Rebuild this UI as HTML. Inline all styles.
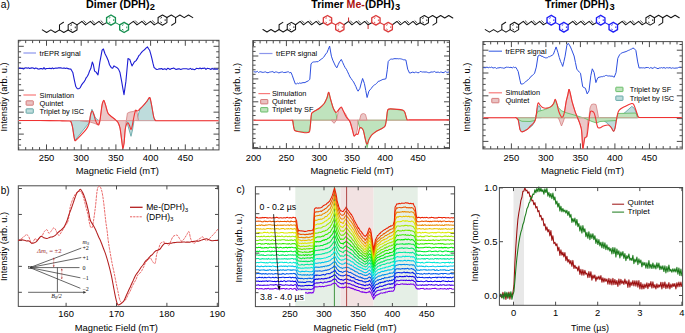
<!DOCTYPE html>
<html><head><meta charset="utf-8"><style>html,body{margin:0;padding:0;background:#fff;width:685px;height:333px;overflow:hidden;}</style></head>
<body>
<svg width="685" height="333" viewBox="0 0 685 333" style="position:absolute;left:0;top:0">
<rect width="685" height="333" fill="#fff"/>
<rect x="18.3" y="40.3" width="200.7" height="109.6" fill="none" stroke="#4a4a4a" stroke-width="1"/>
<line x1="46.5" y1="149.9" x2="46.5" y2="144.4" stroke="#4a4a4a" stroke-width="1" />
<line x1="46.5" y1="40.3" x2="46.5" y2="45.8" stroke="#4a4a4a" stroke-width="1" />
<line x1="81.2" y1="149.9" x2="81.2" y2="144.4" stroke="#4a4a4a" stroke-width="1" />
<line x1="81.2" y1="40.3" x2="81.2" y2="45.8" stroke="#4a4a4a" stroke-width="1" />
<line x1="115.9" y1="149.9" x2="115.9" y2="144.4" stroke="#4a4a4a" stroke-width="1" />
<line x1="115.9" y1="40.3" x2="115.9" y2="45.8" stroke="#4a4a4a" stroke-width="1" />
<line x1="150.6" y1="149.9" x2="150.6" y2="144.4" stroke="#4a4a4a" stroke-width="1" />
<line x1="150.6" y1="40.3" x2="150.6" y2="45.8" stroke="#4a4a4a" stroke-width="1" />
<line x1="185.3" y1="149.9" x2="185.3" y2="144.4" stroke="#4a4a4a" stroke-width="1" />
<line x1="185.3" y1="40.3" x2="185.3" y2="45.8" stroke="#4a4a4a" stroke-width="1" />
<line x1="18.74" y1="149.9" x2="18.74" y2="147.1" stroke="#4a4a4a" stroke-width="1" />
<line x1="18.74" y1="40.3" x2="18.74" y2="43.1" stroke="#4a4a4a" stroke-width="1" />
<line x1="25.68" y1="149.9" x2="25.68" y2="147.1" stroke="#4a4a4a" stroke-width="1" />
<line x1="25.68" y1="40.3" x2="25.68" y2="43.1" stroke="#4a4a4a" stroke-width="1" />
<line x1="32.62" y1="149.9" x2="32.62" y2="147.1" stroke="#4a4a4a" stroke-width="1" />
<line x1="32.62" y1="40.3" x2="32.62" y2="43.1" stroke="#4a4a4a" stroke-width="1" />
<line x1="39.56" y1="149.9" x2="39.56" y2="147.1" stroke="#4a4a4a" stroke-width="1" />
<line x1="39.56" y1="40.3" x2="39.56" y2="43.1" stroke="#4a4a4a" stroke-width="1" />
<line x1="53.44" y1="149.9" x2="53.44" y2="147.1" stroke="#4a4a4a" stroke-width="1" />
<line x1="53.44" y1="40.3" x2="53.44" y2="43.1" stroke="#4a4a4a" stroke-width="1" />
<line x1="60.38" y1="149.9" x2="60.38" y2="147.1" stroke="#4a4a4a" stroke-width="1" />
<line x1="60.38" y1="40.3" x2="60.38" y2="43.1" stroke="#4a4a4a" stroke-width="1" />
<line x1="67.32" y1="149.9" x2="67.32" y2="147.1" stroke="#4a4a4a" stroke-width="1" />
<line x1="67.32" y1="40.3" x2="67.32" y2="43.1" stroke="#4a4a4a" stroke-width="1" />
<line x1="74.26" y1="149.9" x2="74.26" y2="147.1" stroke="#4a4a4a" stroke-width="1" />
<line x1="74.26" y1="40.3" x2="74.26" y2="43.1" stroke="#4a4a4a" stroke-width="1" />
<line x1="88.14" y1="149.9" x2="88.14" y2="147.1" stroke="#4a4a4a" stroke-width="1" />
<line x1="88.14" y1="40.3" x2="88.14" y2="43.1" stroke="#4a4a4a" stroke-width="1" />
<line x1="95.08" y1="149.9" x2="95.08" y2="147.1" stroke="#4a4a4a" stroke-width="1" />
<line x1="95.08" y1="40.3" x2="95.08" y2="43.1" stroke="#4a4a4a" stroke-width="1" />
<line x1="102.02" y1="149.9" x2="102.02" y2="147.1" stroke="#4a4a4a" stroke-width="1" />
<line x1="102.02" y1="40.3" x2="102.02" y2="43.1" stroke="#4a4a4a" stroke-width="1" />
<line x1="108.96" y1="149.9" x2="108.96" y2="147.1" stroke="#4a4a4a" stroke-width="1" />
<line x1="108.96" y1="40.3" x2="108.96" y2="43.1" stroke="#4a4a4a" stroke-width="1" />
<line x1="122.84" y1="149.9" x2="122.84" y2="147.1" stroke="#4a4a4a" stroke-width="1" />
<line x1="122.84" y1="40.3" x2="122.84" y2="43.1" stroke="#4a4a4a" stroke-width="1" />
<line x1="129.78" y1="149.9" x2="129.78" y2="147.1" stroke="#4a4a4a" stroke-width="1" />
<line x1="129.78" y1="40.3" x2="129.78" y2="43.1" stroke="#4a4a4a" stroke-width="1" />
<line x1="136.72" y1="149.9" x2="136.72" y2="147.1" stroke="#4a4a4a" stroke-width="1" />
<line x1="136.72" y1="40.3" x2="136.72" y2="43.1" stroke="#4a4a4a" stroke-width="1" />
<line x1="143.66" y1="149.9" x2="143.66" y2="147.1" stroke="#4a4a4a" stroke-width="1" />
<line x1="143.66" y1="40.3" x2="143.66" y2="43.1" stroke="#4a4a4a" stroke-width="1" />
<line x1="157.54" y1="149.9" x2="157.54" y2="147.1" stroke="#4a4a4a" stroke-width="1" />
<line x1="157.54" y1="40.3" x2="157.54" y2="43.1" stroke="#4a4a4a" stroke-width="1" />
<line x1="164.48" y1="149.9" x2="164.48" y2="147.1" stroke="#4a4a4a" stroke-width="1" />
<line x1="164.48" y1="40.3" x2="164.48" y2="43.1" stroke="#4a4a4a" stroke-width="1" />
<line x1="171.42" y1="149.9" x2="171.42" y2="147.1" stroke="#4a4a4a" stroke-width="1" />
<line x1="171.42" y1="40.3" x2="171.42" y2="43.1" stroke="#4a4a4a" stroke-width="1" />
<line x1="178.36" y1="149.9" x2="178.36" y2="147.1" stroke="#4a4a4a" stroke-width="1" />
<line x1="178.36" y1="40.3" x2="178.36" y2="43.1" stroke="#4a4a4a" stroke-width="1" />
<line x1="192.24" y1="149.9" x2="192.24" y2="147.1" stroke="#4a4a4a" stroke-width="1" />
<line x1="192.24" y1="40.3" x2="192.24" y2="43.1" stroke="#4a4a4a" stroke-width="1" />
<line x1="199.18" y1="149.9" x2="199.18" y2="147.1" stroke="#4a4a4a" stroke-width="1" />
<line x1="199.18" y1="40.3" x2="199.18" y2="43.1" stroke="#4a4a4a" stroke-width="1" />
<line x1="206.12" y1="149.9" x2="206.12" y2="147.1" stroke="#4a4a4a" stroke-width="1" />
<line x1="206.12" y1="40.3" x2="206.12" y2="43.1" stroke="#4a4a4a" stroke-width="1" />
<line x1="213.06" y1="149.9" x2="213.06" y2="147.1" stroke="#4a4a4a" stroke-width="1" />
<line x1="213.06" y1="40.3" x2="213.06" y2="43.1" stroke="#4a4a4a" stroke-width="1" />
<line x1="18.3" y1="46.3" x2="23.8" y2="46.3" stroke="#4a4a4a" stroke-width="1" />
<line x1="219" y1="46.3" x2="213.5" y2="46.3" stroke="#4a4a4a" stroke-width="1" />
<line x1="18.3" y1="68.25" x2="23.8" y2="68.25" stroke="#4a4a4a" stroke-width="1" />
<line x1="219" y1="68.25" x2="213.5" y2="68.25" stroke="#4a4a4a" stroke-width="1" />
<line x1="18.3" y1="90.2" x2="23.8" y2="90.2" stroke="#4a4a4a" stroke-width="1" />
<line x1="219" y1="90.2" x2="213.5" y2="90.2" stroke="#4a4a4a" stroke-width="1" />
<line x1="18.3" y1="112.15" x2="23.8" y2="112.15" stroke="#4a4a4a" stroke-width="1" />
<line x1="219" y1="112.15" x2="213.5" y2="112.15" stroke="#4a4a4a" stroke-width="1" />
<line x1="18.3" y1="134.1" x2="23.8" y2="134.1" stroke="#4a4a4a" stroke-width="1" />
<line x1="219" y1="134.1" x2="213.5" y2="134.1" stroke="#4a4a4a" stroke-width="1" />
<line x1="18.3" y1="51.79" x2="21.1" y2="51.79" stroke="#4a4a4a" stroke-width="1" />
<line x1="219" y1="51.79" x2="216.2" y2="51.79" stroke="#4a4a4a" stroke-width="1" />
<line x1="18.3" y1="57.27" x2="21.1" y2="57.27" stroke="#4a4a4a" stroke-width="1" />
<line x1="219" y1="57.27" x2="216.2" y2="57.27" stroke="#4a4a4a" stroke-width="1" />
<line x1="18.3" y1="62.76" x2="21.1" y2="62.76" stroke="#4a4a4a" stroke-width="1" />
<line x1="219" y1="62.76" x2="216.2" y2="62.76" stroke="#4a4a4a" stroke-width="1" />
<line x1="18.3" y1="73.74" x2="21.1" y2="73.74" stroke="#4a4a4a" stroke-width="1" />
<line x1="219" y1="73.74" x2="216.2" y2="73.74" stroke="#4a4a4a" stroke-width="1" />
<line x1="18.3" y1="79.22" x2="21.1" y2="79.22" stroke="#4a4a4a" stroke-width="1" />
<line x1="219" y1="79.22" x2="216.2" y2="79.22" stroke="#4a4a4a" stroke-width="1" />
<line x1="18.3" y1="84.71" x2="21.1" y2="84.71" stroke="#4a4a4a" stroke-width="1" />
<line x1="219" y1="84.71" x2="216.2" y2="84.71" stroke="#4a4a4a" stroke-width="1" />
<line x1="18.3" y1="95.69" x2="21.1" y2="95.69" stroke="#4a4a4a" stroke-width="1" />
<line x1="219" y1="95.69" x2="216.2" y2="95.69" stroke="#4a4a4a" stroke-width="1" />
<line x1="18.3" y1="101.17" x2="21.1" y2="101.17" stroke="#4a4a4a" stroke-width="1" />
<line x1="219" y1="101.17" x2="216.2" y2="101.17" stroke="#4a4a4a" stroke-width="1" />
<line x1="18.3" y1="106.66" x2="21.1" y2="106.66" stroke="#4a4a4a" stroke-width="1" />
<line x1="219" y1="106.66" x2="216.2" y2="106.66" stroke="#4a4a4a" stroke-width="1" />
<line x1="18.3" y1="117.64" x2="21.1" y2="117.64" stroke="#4a4a4a" stroke-width="1" />
<line x1="219" y1="117.64" x2="216.2" y2="117.64" stroke="#4a4a4a" stroke-width="1" />
<line x1="18.3" y1="123.12" x2="21.1" y2="123.12" stroke="#4a4a4a" stroke-width="1" />
<line x1="219" y1="123.12" x2="216.2" y2="123.12" stroke="#4a4a4a" stroke-width="1" />
<line x1="18.3" y1="128.61" x2="21.1" y2="128.61" stroke="#4a4a4a" stroke-width="1" />
<line x1="219" y1="128.61" x2="216.2" y2="128.61" stroke="#4a4a4a" stroke-width="1" />
<line x1="18.3" y1="139.59" x2="21.1" y2="139.59" stroke="#4a4a4a" stroke-width="1" />
<line x1="219" y1="139.59" x2="216.2" y2="139.59" stroke="#4a4a4a" stroke-width="1" />
<line x1="18.3" y1="145.07" x2="21.1" y2="145.07" stroke="#4a4a4a" stroke-width="1" />
<line x1="219" y1="145.07" x2="216.2" y2="145.07" stroke="#4a4a4a" stroke-width="1" />
<line x1="18.3" y1="40.81" x2="21.1" y2="40.81" stroke="#4a4a4a" stroke-width="1" />
<line x1="219" y1="40.81" x2="216.2" y2="40.81" stroke="#4a4a4a" stroke-width="1" />
<text x="46.5" y="161.3" font-size="9.4" text-anchor="middle" font-weight="normal" font-style="normal" fill="#000" font-family="'Liberation Sans', sans-serif" >250</text>
<text x="81.2" y="161.3" font-size="9.4" text-anchor="middle" font-weight="normal" font-style="normal" fill="#000" font-family="'Liberation Sans', sans-serif" >300</text>
<text x="115.9" y="161.3" font-size="9.4" text-anchor="middle" font-weight="normal" font-style="normal" fill="#000" font-family="'Liberation Sans', sans-serif" >350</text>
<text x="150.6" y="161.3" font-size="9.4" text-anchor="middle" font-weight="normal" font-style="normal" fill="#000" font-family="'Liberation Sans', sans-serif" >400</text>
<text x="185.3" y="161.3" font-size="9.4" text-anchor="middle" font-weight="normal" font-style="normal" fill="#000" font-family="'Liberation Sans', sans-serif" >450</text>
<text x="117.4" y="173.6" font-size="9.4" text-anchor="middle" font-weight="normal" font-style="normal" fill="#000" font-family="'Liberation Sans', sans-serif" textLength="83.2" lengthAdjust="spacingAndGlyphs" >Magnetic Field (mT)</text>
<text transform="translate(7.2,97) rotate(-90)" x="0" y="0" font-size="9.5" text-anchor="middle" fill="#000" font-family="'Liberation Sans', sans-serif" textLength="69" lengthAdjust="spacingAndGlyphs">Intenstiy (arb. u.)</text>
<polygon points="70.5,120.6 72.4,126.4 74.9,140.5 89.3,122.5 89.8,120.6" fill="#bedcdc" stroke="#5aa0a0" stroke-width="0.8" stroke-linejoin="round"/>
<polygon points="89.8,120.6 90.6,114.5 91.9,109.3 93.3,112.5 95,117 97,119.5 99,120.6" fill="#bedcdc" stroke="#5aa0a0" stroke-width="0.8" stroke-linejoin="round"/>
<polygon points="126.5,120.6 128,126 131,136.3 132.5,130 134,120.6" fill="#bedcdc" stroke="#5aa0a0" stroke-width="0.8" stroke-linejoin="round"/>
<polygon points="136.5,120.6 139.8,109.5 143.9,104.9 147.2,100.8 149.7,97.5 151.4,104.1 153.8,117.3 155.5,120.6" fill="#bedcdc" stroke="#5aa0a0" stroke-width="0.8" stroke-linejoin="round"/>
<polygon points="80,120.6 90,122 95,123.5 97.5,124.8 99.5,122 100.2,120.6" fill="#e9c3c3" stroke="#d27070" stroke-width="0.8" stroke-linejoin="round" opacity="0.9"/>
<polygon points="100.2,120.6 100.5,116.5 102.2,104.1 103.8,100.3 105.5,104.9 108,113.2 111.3,116.5 114.6,119 116.5,120.6" fill="#e9c3c3" stroke="#d27070" stroke-width="0.8" stroke-linejoin="round" opacity="0.9"/>
<polygon points="116.5,120.6 117.9,122.3 120,128 121.6,139.6 122.9,147.9 124.1,143 125.2,129.7 126.3,120.6" fill="#e9c3c3" stroke="#d27070" stroke-width="0.8" stroke-linejoin="round" opacity="0.9"/>
<polygon points="126.3,120.6 127.4,113.2 130,112 133.2,111.5 135.7,110.2 137,112 138.5,120.6" fill="#e9c3c3" stroke="#d27070" stroke-width="0.8" stroke-linejoin="round" opacity="0.9"/>
<line x1="18.3" y1="120.6" x2="219" y2="120.6" stroke="#e8a0a0" stroke-width="0.8" />
<polyline points="18.8,68.12 20,68.07 21.2,68.52 22.4,68.42 23.6,68.95 24.8,68.05 26,67.77 27.2,68.27 28.4,67.8 29.6,68.42 30.8,68.15 32,67.88 33.2,67.98 34.4,68.75 35.6,68.01 36.8,68.28 38,69.04 39.2,69.12 40.4,68.59 41.6,68.5 42.8,69.13 44,67.65 45.2,69.22 46.4,68.54 47.6,68.48 48.8,68.39 50,68.21 51.2,68.73 52.4,67.82 53.6,68.7 54.8,68.24 56,67.98 57.2,68.29 58.4,67.76 59.6,67.92 60.8,67.8 62,68.23 63.2,68.11 64.4,67.96 65.6,68.46 66.8,68.03 68,68.64 69.2,68.9 70.8,69.08 71.8,70.78 72.8,72.46 74.3,79.98 75.8,86.56 77.3,88.71 79,88.64 80.3,87.57 81.8,84.59 82.9,83.08 84,81.94 85.15,79.91 86.3,77.59 87.45,76.25 88.6,73.8 89.7,70.67 90.8,68.51 92.3,62.03 93.4,64.78 94.6,71.14 96.1,72.17 98,74.83 99.8,62.43 100.95,56.33 102.1,50.18 103.4,48.99 105,53.78 106.8,57.2 108.2,60.44 109.5,64.73 111.3,67.65 112.7,68.15 114,65.85 115.35,66.83 116.7,67.44 118.5,69.12 119.9,72.18 121.7,81.69 122.85,88.42 124,94.75 125.9,81.42 126.95,70.07 128,58.58 129.8,59.38 130.9,62.75 132,65.88 133.15,64.02 134.3,62.01 136.1,60.65 137.45,58.39 138.8,55.74 140,54.51 141.2,52.78 142.4,51.45 143.7,50.35 145,49.23 146.25,47.88 147.5,46.91 148.55,48.71 149.6,50.21 150.7,53.93 151.8,58.14 152.95,63.22 154.1,67.53 155.45,68.69 156.8,69.57 158,69.25 159.2,68.77 160.4,68.85 161.6,68.54 162.8,69.44 164,68.88 165.2,68.86 166.4,69.7 167.6,68.32 168.8,68.63 170,69.46 171.2,68.65 172.4,68.49 173.6,68 174.8,68.65 176,69.43 177.2,69.15 178.4,68.86 179.6,68.91 180.8,69.43 182,69.04 183.2,68.75 184.4,68.8 185.6,68.81 186.8,68.81 188,69.2 189.2,69.1 190.4,68.38 191.6,69.39 192.8,68.89 194,69.63 195.2,69.42 196.4,68.32 197.6,68.46 198.8,68.78 200,68.09 201.2,68.84 202.4,68.25 203.6,68.34 204.8,68.03 206,69.44 207.2,68.3 208.4,68.51 209.6,68.77 210.8,69.54 212,68.31 213.2,69.13 214.4,68.85 215.6,69.21 216.8,69.14 218,69.16" fill="none" stroke="#1c1cd4" stroke-width="1.1" stroke-linejoin="round" />
<path d="M18.8,120.5 C25.87,120.5 32.93,120.45 40,120.5 C46.67,120.55 53.33,120.68 60,120.8 C62.67,120.85 65.34,120.85 68,121 C68.94,121.05 70.29,120.77 70.8,121.4 C71.75,122.57 72.03,124.69 72.4,126.4 C73.4,131.06 73.52,137.09 74.9,140.5 C75.19,141.22 76.65,139.46 77.4,138.8 C78.85,137.53 80.19,136.12 81.5,134.7 C83.23,132.82 85.05,130.98 86.5,128.9 C87.55,127.38 88.48,125.67 89,123.9 C89.85,120.97 89.84,117.76 90.6,114.8 C90.94,113.46 91.75,111 92.3,111 C92.85,111 93.45,113.5 93.9,114.8 C94.55,116.7 94.92,118.71 95.6,120.6 C96.02,121.75 96.48,122.98 97.2,123.9 C97.58,124.38 98.7,125.26 98.9,124.8 C99.8,122.79 100.06,119.28 100.5,116.5 C101.16,112.38 101.37,108.16 102.2,104.1 C102.47,102.76 103.3,100.18 103.8,100.3 C104.4,100.44 104.99,103.35 105.5,104.9 C106.39,107.65 106.74,110.69 108,113.2 C108.68,114.55 110.13,115.48 111.3,116.5 C112.33,117.41 113.57,118.09 114.6,119 C115.77,120.02 117.12,121 117.9,122.3 C118.92,124 119.58,126.03 120,128 C120.81,131.8 121.05,135.74 121.6,139.6 C122.01,142.5 122.38,147.6 122.9,148.3 C123.22,148.73 123.88,144.79 124.1,143 C124.64,138.59 124.62,134.1 125.2,129.7 C125.46,127.73 125.9,125.69 126.6,123.9 C126.8,123.39 127.57,122.6 127.9,122.8 C128.53,123.17 129.06,124.62 129.5,125.6 C130.09,126.92 130.55,129.82 131,129.7 C131.52,129.56 132.02,126.45 132.4,124.8 C133.02,122.05 133.38,119.25 134,116.5 C134.48,114.38 134.84,111.64 135.7,110.2 C135.94,109.81 136.81,111.14 137.3,111 C138.18,110.74 139.02,109.72 139.8,109 C141.22,107.69 142.61,106.33 143.9,104.9 C145.07,103.6 146.12,102.18 147.2,100.8 C148.05,99.71 149.17,97.08 149.7,97.5 C150.57,98.18 150.94,101.88 151.4,104.1 C152.31,108.48 152.73,112.99 153.8,117.3 C154.1,118.49 154.7,119.86 155.5,120.6 C155.93,121 156.83,120.69 157.5,120.7 C158.33,120.72 159.17,120.7 160,120.7 C179.5,120.7 199,120.7 218.5,120.7" fill="none" stroke="#f03232" stroke-width="1.1" stroke-linejoin="round" />
<line x1="23.4" y1="53" x2="36" y2="53" stroke="#8c96ec" stroke-width="1.2" />
<text x="39.6" y="55.6" font-size="7.4" text-anchor="start" font-weight="normal" font-style="normal" fill="#000" font-family="'Liberation Sans', sans-serif" >trEPR signal</text>
<line x1="23.4" y1="95" x2="36" y2="95" stroke="#f87a7a" stroke-width="1.2" />
<text x="39.6" y="97.6" font-size="7.4" text-anchor="start" font-weight="normal" font-style="normal" fill="#000" font-family="'Liberation Sans', sans-serif" >Simulation</text>
<rect x="26.1" y="100.8" width="7.2" height="4.4" fill="#e9c3c3" stroke="#d27070" stroke-width="0.9" rx="0.5"/>
<text x="39.6" y="105.6" font-size="7.4" text-anchor="start" font-weight="normal" font-style="normal" fill="#000" font-family="'Liberation Sans', sans-serif" >Quintet</text>
<rect x="26.1" y="108.8" width="7.2" height="4.4" fill="#bedcdc" stroke="#5aa0a0" stroke-width="0.9" rx="0.5"/>
<text x="39.6" y="113.6" font-size="7.4" text-anchor="start" font-weight="normal" font-style="normal" fill="#000" font-family="'Liberation Sans', sans-serif" >Triplet by ISC</text>
<rect x="252.8" y="40.6" width="196.7" height="108" fill="none" stroke="#4a4a4a" stroke-width="1"/>
<line x1="253.5" y1="148.6" x2="253.5" y2="143.1" stroke="#4a4a4a" stroke-width="1" />
<line x1="253.5" y1="40.6" x2="253.5" y2="46.1" stroke="#4a4a4a" stroke-width="1" />
<line x1="286.4" y1="148.6" x2="286.4" y2="143.1" stroke="#4a4a4a" stroke-width="1" />
<line x1="286.4" y1="40.6" x2="286.4" y2="46.1" stroke="#4a4a4a" stroke-width="1" />
<line x1="319.3" y1="148.6" x2="319.3" y2="143.1" stroke="#4a4a4a" stroke-width="1" />
<line x1="319.3" y1="40.6" x2="319.3" y2="46.1" stroke="#4a4a4a" stroke-width="1" />
<line x1="352.2" y1="148.6" x2="352.2" y2="143.1" stroke="#4a4a4a" stroke-width="1" />
<line x1="352.2" y1="40.6" x2="352.2" y2="46.1" stroke="#4a4a4a" stroke-width="1" />
<line x1="385.1" y1="148.6" x2="385.1" y2="143.1" stroke="#4a4a4a" stroke-width="1" />
<line x1="385.1" y1="40.6" x2="385.1" y2="46.1" stroke="#4a4a4a" stroke-width="1" />
<line x1="418" y1="148.6" x2="418" y2="143.1" stroke="#4a4a4a" stroke-width="1" />
<line x1="418" y1="40.6" x2="418" y2="46.1" stroke="#4a4a4a" stroke-width="1" />
<line x1="260.08" y1="148.6" x2="260.08" y2="145.8" stroke="#4a4a4a" stroke-width="1" />
<line x1="260.08" y1="40.6" x2="260.08" y2="43.4" stroke="#4a4a4a" stroke-width="1" />
<line x1="266.66" y1="148.6" x2="266.66" y2="145.8" stroke="#4a4a4a" stroke-width="1" />
<line x1="266.66" y1="40.6" x2="266.66" y2="43.4" stroke="#4a4a4a" stroke-width="1" />
<line x1="273.24" y1="148.6" x2="273.24" y2="145.8" stroke="#4a4a4a" stroke-width="1" />
<line x1="273.24" y1="40.6" x2="273.24" y2="43.4" stroke="#4a4a4a" stroke-width="1" />
<line x1="279.82" y1="148.6" x2="279.82" y2="145.8" stroke="#4a4a4a" stroke-width="1" />
<line x1="279.82" y1="40.6" x2="279.82" y2="43.4" stroke="#4a4a4a" stroke-width="1" />
<line x1="292.98" y1="148.6" x2="292.98" y2="145.8" stroke="#4a4a4a" stroke-width="1" />
<line x1="292.98" y1="40.6" x2="292.98" y2="43.4" stroke="#4a4a4a" stroke-width="1" />
<line x1="299.56" y1="148.6" x2="299.56" y2="145.8" stroke="#4a4a4a" stroke-width="1" />
<line x1="299.56" y1="40.6" x2="299.56" y2="43.4" stroke="#4a4a4a" stroke-width="1" />
<line x1="306.14" y1="148.6" x2="306.14" y2="145.8" stroke="#4a4a4a" stroke-width="1" />
<line x1="306.14" y1="40.6" x2="306.14" y2="43.4" stroke="#4a4a4a" stroke-width="1" />
<line x1="312.72" y1="148.6" x2="312.72" y2="145.8" stroke="#4a4a4a" stroke-width="1" />
<line x1="312.72" y1="40.6" x2="312.72" y2="43.4" stroke="#4a4a4a" stroke-width="1" />
<line x1="325.88" y1="148.6" x2="325.88" y2="145.8" stroke="#4a4a4a" stroke-width="1" />
<line x1="325.88" y1="40.6" x2="325.88" y2="43.4" stroke="#4a4a4a" stroke-width="1" />
<line x1="332.46" y1="148.6" x2="332.46" y2="145.8" stroke="#4a4a4a" stroke-width="1" />
<line x1="332.46" y1="40.6" x2="332.46" y2="43.4" stroke="#4a4a4a" stroke-width="1" />
<line x1="339.04" y1="148.6" x2="339.04" y2="145.8" stroke="#4a4a4a" stroke-width="1" />
<line x1="339.04" y1="40.6" x2="339.04" y2="43.4" stroke="#4a4a4a" stroke-width="1" />
<line x1="345.62" y1="148.6" x2="345.62" y2="145.8" stroke="#4a4a4a" stroke-width="1" />
<line x1="345.62" y1="40.6" x2="345.62" y2="43.4" stroke="#4a4a4a" stroke-width="1" />
<line x1="358.78" y1="148.6" x2="358.78" y2="145.8" stroke="#4a4a4a" stroke-width="1" />
<line x1="358.78" y1="40.6" x2="358.78" y2="43.4" stroke="#4a4a4a" stroke-width="1" />
<line x1="365.36" y1="148.6" x2="365.36" y2="145.8" stroke="#4a4a4a" stroke-width="1" />
<line x1="365.36" y1="40.6" x2="365.36" y2="43.4" stroke="#4a4a4a" stroke-width="1" />
<line x1="371.94" y1="148.6" x2="371.94" y2="145.8" stroke="#4a4a4a" stroke-width="1" />
<line x1="371.94" y1="40.6" x2="371.94" y2="43.4" stroke="#4a4a4a" stroke-width="1" />
<line x1="378.52" y1="148.6" x2="378.52" y2="145.8" stroke="#4a4a4a" stroke-width="1" />
<line x1="378.52" y1="40.6" x2="378.52" y2="43.4" stroke="#4a4a4a" stroke-width="1" />
<line x1="391.68" y1="148.6" x2="391.68" y2="145.8" stroke="#4a4a4a" stroke-width="1" />
<line x1="391.68" y1="40.6" x2="391.68" y2="43.4" stroke="#4a4a4a" stroke-width="1" />
<line x1="398.26" y1="148.6" x2="398.26" y2="145.8" stroke="#4a4a4a" stroke-width="1" />
<line x1="398.26" y1="40.6" x2="398.26" y2="43.4" stroke="#4a4a4a" stroke-width="1" />
<line x1="404.84" y1="148.6" x2="404.84" y2="145.8" stroke="#4a4a4a" stroke-width="1" />
<line x1="404.84" y1="40.6" x2="404.84" y2="43.4" stroke="#4a4a4a" stroke-width="1" />
<line x1="411.42" y1="148.6" x2="411.42" y2="145.8" stroke="#4a4a4a" stroke-width="1" />
<line x1="411.42" y1="40.6" x2="411.42" y2="43.4" stroke="#4a4a4a" stroke-width="1" />
<line x1="424.58" y1="148.6" x2="424.58" y2="145.8" stroke="#4a4a4a" stroke-width="1" />
<line x1="424.58" y1="40.6" x2="424.58" y2="43.4" stroke="#4a4a4a" stroke-width="1" />
<line x1="431.16" y1="148.6" x2="431.16" y2="145.8" stroke="#4a4a4a" stroke-width="1" />
<line x1="431.16" y1="40.6" x2="431.16" y2="43.4" stroke="#4a4a4a" stroke-width="1" />
<line x1="437.74" y1="148.6" x2="437.74" y2="145.8" stroke="#4a4a4a" stroke-width="1" />
<line x1="437.74" y1="40.6" x2="437.74" y2="43.4" stroke="#4a4a4a" stroke-width="1" />
<line x1="444.32" y1="148.6" x2="444.32" y2="145.8" stroke="#4a4a4a" stroke-width="1" />
<line x1="444.32" y1="40.6" x2="444.32" y2="43.4" stroke="#4a4a4a" stroke-width="1" />
<line x1="252.8" y1="56" x2="258.3" y2="56" stroke="#4a4a4a" stroke-width="1" />
<line x1="449.5" y1="56" x2="444" y2="56" stroke="#4a4a4a" stroke-width="1" />
<line x1="252.8" y1="78.9" x2="258.3" y2="78.9" stroke="#4a4a4a" stroke-width="1" />
<line x1="449.5" y1="78.9" x2="444" y2="78.9" stroke="#4a4a4a" stroke-width="1" />
<line x1="252.8" y1="101.8" x2="258.3" y2="101.8" stroke="#4a4a4a" stroke-width="1" />
<line x1="449.5" y1="101.8" x2="444" y2="101.8" stroke="#4a4a4a" stroke-width="1" />
<line x1="252.8" y1="124.7" x2="258.3" y2="124.7" stroke="#4a4a4a" stroke-width="1" />
<line x1="449.5" y1="124.7" x2="444" y2="124.7" stroke="#4a4a4a" stroke-width="1" />
<line x1="252.8" y1="147.6" x2="258.3" y2="147.6" stroke="#4a4a4a" stroke-width="1" />
<line x1="449.5" y1="147.6" x2="444" y2="147.6" stroke="#4a4a4a" stroke-width="1" />
<line x1="252.8" y1="60.58" x2="255.6" y2="60.58" stroke="#4a4a4a" stroke-width="1" />
<line x1="449.5" y1="60.58" x2="446.7" y2="60.58" stroke="#4a4a4a" stroke-width="1" />
<line x1="252.8" y1="65.16" x2="255.6" y2="65.16" stroke="#4a4a4a" stroke-width="1" />
<line x1="449.5" y1="65.16" x2="446.7" y2="65.16" stroke="#4a4a4a" stroke-width="1" />
<line x1="252.8" y1="69.74" x2="255.6" y2="69.74" stroke="#4a4a4a" stroke-width="1" />
<line x1="449.5" y1="69.74" x2="446.7" y2="69.74" stroke="#4a4a4a" stroke-width="1" />
<line x1="252.8" y1="74.32" x2="255.6" y2="74.32" stroke="#4a4a4a" stroke-width="1" />
<line x1="449.5" y1="74.32" x2="446.7" y2="74.32" stroke="#4a4a4a" stroke-width="1" />
<line x1="252.8" y1="83.48" x2="255.6" y2="83.48" stroke="#4a4a4a" stroke-width="1" />
<line x1="449.5" y1="83.48" x2="446.7" y2="83.48" stroke="#4a4a4a" stroke-width="1" />
<line x1="252.8" y1="88.06" x2="255.6" y2="88.06" stroke="#4a4a4a" stroke-width="1" />
<line x1="449.5" y1="88.06" x2="446.7" y2="88.06" stroke="#4a4a4a" stroke-width="1" />
<line x1="252.8" y1="92.64" x2="255.6" y2="92.64" stroke="#4a4a4a" stroke-width="1" />
<line x1="449.5" y1="92.64" x2="446.7" y2="92.64" stroke="#4a4a4a" stroke-width="1" />
<line x1="252.8" y1="97.22" x2="255.6" y2="97.22" stroke="#4a4a4a" stroke-width="1" />
<line x1="449.5" y1="97.22" x2="446.7" y2="97.22" stroke="#4a4a4a" stroke-width="1" />
<line x1="252.8" y1="106.38" x2="255.6" y2="106.38" stroke="#4a4a4a" stroke-width="1" />
<line x1="449.5" y1="106.38" x2="446.7" y2="106.38" stroke="#4a4a4a" stroke-width="1" />
<line x1="252.8" y1="110.96" x2="255.6" y2="110.96" stroke="#4a4a4a" stroke-width="1" />
<line x1="449.5" y1="110.96" x2="446.7" y2="110.96" stroke="#4a4a4a" stroke-width="1" />
<line x1="252.8" y1="115.54" x2="255.6" y2="115.54" stroke="#4a4a4a" stroke-width="1" />
<line x1="449.5" y1="115.54" x2="446.7" y2="115.54" stroke="#4a4a4a" stroke-width="1" />
<line x1="252.8" y1="120.12" x2="255.6" y2="120.12" stroke="#4a4a4a" stroke-width="1" />
<line x1="449.5" y1="120.12" x2="446.7" y2="120.12" stroke="#4a4a4a" stroke-width="1" />
<line x1="252.8" y1="129.28" x2="255.6" y2="129.28" stroke="#4a4a4a" stroke-width="1" />
<line x1="449.5" y1="129.28" x2="446.7" y2="129.28" stroke="#4a4a4a" stroke-width="1" />
<line x1="252.8" y1="133.86" x2="255.6" y2="133.86" stroke="#4a4a4a" stroke-width="1" />
<line x1="449.5" y1="133.86" x2="446.7" y2="133.86" stroke="#4a4a4a" stroke-width="1" />
<line x1="252.8" y1="138.44" x2="255.6" y2="138.44" stroke="#4a4a4a" stroke-width="1" />
<line x1="449.5" y1="138.44" x2="446.7" y2="138.44" stroke="#4a4a4a" stroke-width="1" />
<line x1="252.8" y1="143.02" x2="255.6" y2="143.02" stroke="#4a4a4a" stroke-width="1" />
<line x1="449.5" y1="143.02" x2="446.7" y2="143.02" stroke="#4a4a4a" stroke-width="1" />
<line x1="252.8" y1="51.42" x2="255.6" y2="51.42" stroke="#4a4a4a" stroke-width="1" />
<line x1="449.5" y1="51.42" x2="446.7" y2="51.42" stroke="#4a4a4a" stroke-width="1" />
<line x1="252.8" y1="46.84" x2="255.6" y2="46.84" stroke="#4a4a4a" stroke-width="1" />
<line x1="449.5" y1="46.84" x2="446.7" y2="46.84" stroke="#4a4a4a" stroke-width="1" />
<line x1="252.8" y1="42.26" x2="255.6" y2="42.26" stroke="#4a4a4a" stroke-width="1" />
<line x1="449.5" y1="42.26" x2="446.7" y2="42.26" stroke="#4a4a4a" stroke-width="1" />
<text x="253.5" y="161" font-size="9.4" text-anchor="middle" font-weight="normal" font-style="normal" fill="#000" font-family="'Liberation Sans', sans-serif" >200</text>
<text x="286.4" y="161" font-size="9.4" text-anchor="middle" font-weight="normal" font-style="normal" fill="#000" font-family="'Liberation Sans', sans-serif" >250</text>
<text x="319.3" y="161" font-size="9.4" text-anchor="middle" font-weight="normal" font-style="normal" fill="#000" font-family="'Liberation Sans', sans-serif" >300</text>
<text x="352.2" y="161" font-size="9.4" text-anchor="middle" font-weight="normal" font-style="normal" fill="#000" font-family="'Liberation Sans', sans-serif" >350</text>
<text x="385.1" y="161" font-size="9.4" text-anchor="middle" font-weight="normal" font-style="normal" fill="#000" font-family="'Liberation Sans', sans-serif" >400</text>
<text x="418" y="161" font-size="9.4" text-anchor="middle" font-weight="normal" font-style="normal" fill="#000" font-family="'Liberation Sans', sans-serif" >450</text>
<text x="352" y="173.6" font-size="9.4" text-anchor="middle" font-weight="normal" font-style="normal" fill="#000" font-family="'Liberation Sans', sans-serif" textLength="83.2" lengthAdjust="spacingAndGlyphs" >Magnetic Field (mT)</text>
<text transform="translate(240.3,97.4) rotate(-90)" x="0" y="0" font-size="9.5" text-anchor="middle" fill="#000" font-family="'Liberation Sans', sans-serif" textLength="69" lengthAdjust="spacingAndGlyphs">Intenstiy (arb. u.)</text>
<polygon points="292.6,120.2 293.5,126 294.8,130.5 299.8,131.8 308.9,132.3 310.3,126 311,120.2" fill="#bfe3bd" stroke="#5cb85c" stroke-width="0.8" stroke-linejoin="round"/>
<polygon points="311,120.2 311.6,113.4 314.3,111.3 319.7,108 324.2,103.5 326.9,98.1 328.7,92.2 330.5,99 333.2,108 335.9,112.5 337,120.2" fill="#bfe3bd" stroke="#5cb85c" stroke-width="0.8" stroke-linejoin="round"/>
<polygon points="357.5,120.2 359.8,127.9 361.6,127.9 363.4,130.6 365.2,138.7 367.1,147.7 368.9,139.6 371.6,135.1 376.1,131.5 381.5,128.8 385.1,126.1 386.2,120.2" fill="#bfe3bd" stroke="#5cb85c" stroke-width="0.8" stroke-linejoin="round"/>
<polygon points="386.2,120.2 387.8,109.8 390.5,108.9 403.1,110.2 404.9,112.5 407.1,120.2" fill="#bfe3bd" stroke="#5cb85c" stroke-width="0.8" stroke-linejoin="round"/>
<polygon points="331,120.2 334.1,123.3 336.5,120.2" fill="#e9c3c3" stroke="#d27070" stroke-width="0.8" stroke-linejoin="round" opacity="0.9"/>
<polygon points="336.5,120.2 338.6,109.8 341.3,107.1 343.1,110.7 345.8,114.3 348.5,120.2" fill="#e9c3c3" stroke="#d27070" stroke-width="0.8" stroke-linejoin="round" opacity="0.9"/>
<polygon points="348.5,120.2 349.9,121.6 352.6,130.6 354.1,136 356.2,134.2 357.5,129 358,120.2" fill="#e9c3c3" stroke="#d27070" stroke-width="0.8" stroke-linejoin="round" opacity="0.9"/>
<polygon points="359.5,120.2 361,114.5 363.4,113.4 365.5,114.5 367,120.2" fill="#e9c3c3" stroke="#d27070" stroke-width="0.8" stroke-linejoin="round" opacity="0.9"/>
<line x1="252.8" y1="120.2" x2="449.5" y2="120.2" stroke="#e8a0a0" stroke-width="0.8" />
<polyline points="253.7,71.48 254.9,71.99 256.1,72.06 257.3,71.32 258.5,72.54 259.7,71.82 260.9,71.79 262.1,72.29 263.3,72.36 264.5,72.04 265.7,71.87 266.9,72.64 268.1,72.71 269.3,72.18 270.5,71.94 271.7,71.76 272.9,71.61 274.1,72.7 275.3,72.02 276.5,71.97 277.7,72.4 278.9,72.94 280.1,72.4 281.3,72.12 282.5,71.93 283.7,72.55 284.9,72.45 286.1,72.31 287.3,71.9 288.5,71.82 289.7,72.79 290.9,72.34 292.2,75.21 293.5,79.05 295.3,83.91 296.43,83.89 297.55,83.17 298.68,83.63 299.8,82.85 300.87,83.36 301.93,82.9 303,82.67 304,82.59 305,82.64 306,81.86 307,81.5 308.4,80.72 309.8,79.39 311,63.99 312.5,62.23 313.58,61.96 314.66,61.9 315.74,61.81 316.82,61.62 317.9,61.81 318.98,60.71 320.06,60.16 321.14,59.18 322.22,58.6 323.3,57.61 324.5,56 325.7,54.01 326.9,52.79 328.25,49.49 329.6,46.05 331.4,56.18 332.75,60.15 334.1,63.09 335.45,65.91 336.8,67.85 338.15,64.75 339.5,61.87 341.3,59.41 342.65,62.36 344,65.35 345.2,67.69 346.4,69.27 347.6,71.77 348.8,74.37 350,77.01 351.2,78.62 352.4,80.38 353.6,81.94 354.73,84.28 355.85,86.51 356.98,89.32 358.1,91.2 359.9,88.33 361.25,83.07 362.6,78.47 364.4,83.5 365.75,90.59 367.1,97.53 368.9,91.19 370.02,89.86 371.15,88.62 372.27,87 373.4,85.86 374.48,84.75 375.56,84.35 376.64,83.4 377.72,82.1 378.8,80.9 379.83,81.13 380.86,80.26 381.89,79.96 382.91,79.33 383.94,79.29 384.97,79.02 386,78.7 387.3,69.76 388.2,61.6 389.35,60.15 390.5,59.31 391.62,59.05 392.75,59.17 393.88,58.76 395,58.62 396.1,58.76 397.2,58.63 398.3,58.83 399.4,58.7 400.5,58.8 401.58,59.05 402.66,59.41 403.74,59.86 404.82,59.79 405.9,60.06 407.7,69.19 409.5,73.02 410.85,72.88 412.2,72.21 413,72.11 414.2,72.81 415.4,72.17 416.6,72.26 417.8,72.73 419,72.69 420.2,71.45 421.4,71.74 422.6,72.05 423.8,71.94 425,72.08 426.2,71.93 427.4,72.34 428.6,72.7 429.8,72.64 431,71.91 432.2,72.1 433.4,71.89 434.6,71.45 435.8,72.37 437,72.25 438.2,72.09 439.4,72.6 440.6,72.1 441.8,72.19 443,72.73 444.2,72.42 445.4,71.36 446.6,72.27 447.8,72.31 449,71.94" fill="none" stroke="#2d4fe0" stroke-width="1" stroke-linejoin="round" />
<path d="M253.7,120.2 C265.47,120.2 277.23,120.2 289,120.2 C289.83,120.2 290.67,120.2 291.5,120.2 C291.87,120.2 292.49,119.89 292.6,120.2 C293.16,121.83 293.09,124.09 293.5,126 C293.83,127.52 293.8,129.58 294.8,130.5 C295.9,131.51 298.1,131.58 299.8,131.8 C302.8,132.18 306.85,133.43 308.9,132.3 C310.35,131.5 310,128.13 310.3,126 C310.9,121.83 310.55,117.26 311.6,113.4 C311.88,112.36 313.35,111.93 314.3,111.3 C316.05,110.13 318.05,109.3 319.7,108 C321.35,106.7 322.97,105.19 324.2,103.5 C325.37,101.89 326.16,99.96 326.9,98.1 C327.66,96.2 328.14,92.06 328.7,92.2 C329.34,92.36 329.86,96.75 330.5,99 C331.36,102.01 332.05,105.11 333.2,108 C333.85,109.61 334.86,112.15 335.9,112.5 C336.66,112.75 337.7,110.7 338.6,109.8 C339.5,108.9 340.58,106.84 341.3,107.1 C342.25,107.44 342.84,110.1 343.6,111.6 C344.51,113.4 345.23,115.31 346.3,117 C347.33,118.64 349.09,119.86 349.9,121.6 C351.19,124.4 351.72,127.59 352.6,130.6 C353.12,132.39 353.3,135.2 354.1,136 C354.5,136.4 355.41,134.56 356.2,134.2 C356.71,133.96 357.74,134.65 358,134.2 C358.94,132.55 358.86,129.55 359.8,127.9 C360.06,127.45 361.17,127.58 361.6,127.9 C362.37,128.48 363.06,129.59 363.4,130.6 C364.26,133.19 364.47,136.04 365.2,138.7 C365.7,140.54 366.43,143.94 367.1,144.1 C367.67,144.24 368.18,141.04 368.9,139.6 C369.68,138.04 370.46,136.39 371.6,135.1 C372.86,133.69 374.49,132.53 376.1,131.5 C377.79,130.43 379.78,129.83 381.5,128.8 C382.78,128.03 384.47,127.35 385.1,126.1 C386.13,124.05 386.1,121.31 386.5,118.9 C387,115.88 386.78,112.35 387.8,109.8 C388.12,109.01 389.56,108.88 390.5,108.9 C394.66,109.01 399.2,109.22 403.1,110.2 C404,110.42 404.53,111.61 404.9,112.5 C405.86,114.81 406.01,117.83 407.1,119.8 C407.37,120.29 408.37,119.89 409,119.9 C410,119.92 411,119.9 412,119.9 C424.33,119.9 436.67,119.9 449,119.9" fill="none" stroke="#f03232" stroke-width="1.1" stroke-linejoin="round" />
<line x1="259.3" y1="53.5" x2="272.5" y2="53.5" stroke="#8c96ec" stroke-width="1.2" />
<text x="276.1" y="56.1" font-size="7.4" text-anchor="start" font-weight="normal" font-style="normal" fill="#000" font-family="'Liberation Sans', sans-serif" >trEPR signal</text>
<line x1="258.4" y1="93.6" x2="270.1" y2="93.6" stroke="#f87a7a" stroke-width="1.2" />
<text x="271.9" y="96.2" font-size="7.4" text-anchor="start" font-weight="normal" font-style="normal" fill="#000" font-family="'Liberation Sans', sans-serif" >Simulation</text>
<rect x="260.65" y="99.5" width="7.2" height="4.4" fill="#e9c3c3" stroke="#d27070" stroke-width="0.9" rx="0.5"/>
<text x="271.9" y="104.3" font-size="7.4" text-anchor="start" font-weight="normal" font-style="normal" fill="#000" font-family="'Liberation Sans', sans-serif" >Quintet</text>
<rect x="260.65" y="107.6" width="7.2" height="4.4" fill="#bfe3bd" stroke="#5cb85c" stroke-width="0.9" rx="0.5"/>
<text x="271.9" y="112.4" font-size="7.4" text-anchor="start" font-weight="normal" font-style="normal" fill="#000" font-family="'Liberation Sans', sans-serif" >Triplet by SF</text>
<rect x="482.9" y="41.6" width="199.4" height="107.3" fill="none" stroke="#4a4a4a" stroke-width="1"/>
<line x1="511.4" y1="148.9" x2="511.4" y2="143.4" stroke="#4a4a4a" stroke-width="1" />
<line x1="511.4" y1="41.6" x2="511.4" y2="47.1" stroke="#4a4a4a" stroke-width="1" />
<line x1="545.9" y1="148.9" x2="545.9" y2="143.4" stroke="#4a4a4a" stroke-width="1" />
<line x1="545.9" y1="41.6" x2="545.9" y2="47.1" stroke="#4a4a4a" stroke-width="1" />
<line x1="580.4" y1="148.9" x2="580.4" y2="143.4" stroke="#4a4a4a" stroke-width="1" />
<line x1="580.4" y1="41.6" x2="580.4" y2="47.1" stroke="#4a4a4a" stroke-width="1" />
<line x1="614.9" y1="148.9" x2="614.9" y2="143.4" stroke="#4a4a4a" stroke-width="1" />
<line x1="614.9" y1="41.6" x2="614.9" y2="47.1" stroke="#4a4a4a" stroke-width="1" />
<line x1="649.4" y1="148.9" x2="649.4" y2="143.4" stroke="#4a4a4a" stroke-width="1" />
<line x1="649.4" y1="41.6" x2="649.4" y2="47.1" stroke="#4a4a4a" stroke-width="1" />
<line x1="483.8" y1="148.9" x2="483.8" y2="146.1" stroke="#4a4a4a" stroke-width="1" />
<line x1="483.8" y1="41.6" x2="483.8" y2="44.4" stroke="#4a4a4a" stroke-width="1" />
<line x1="490.7" y1="148.9" x2="490.7" y2="146.1" stroke="#4a4a4a" stroke-width="1" />
<line x1="490.7" y1="41.6" x2="490.7" y2="44.4" stroke="#4a4a4a" stroke-width="1" />
<line x1="497.6" y1="148.9" x2="497.6" y2="146.1" stroke="#4a4a4a" stroke-width="1" />
<line x1="497.6" y1="41.6" x2="497.6" y2="44.4" stroke="#4a4a4a" stroke-width="1" />
<line x1="504.5" y1="148.9" x2="504.5" y2="146.1" stroke="#4a4a4a" stroke-width="1" />
<line x1="504.5" y1="41.6" x2="504.5" y2="44.4" stroke="#4a4a4a" stroke-width="1" />
<line x1="518.3" y1="148.9" x2="518.3" y2="146.1" stroke="#4a4a4a" stroke-width="1" />
<line x1="518.3" y1="41.6" x2="518.3" y2="44.4" stroke="#4a4a4a" stroke-width="1" />
<line x1="525.2" y1="148.9" x2="525.2" y2="146.1" stroke="#4a4a4a" stroke-width="1" />
<line x1="525.2" y1="41.6" x2="525.2" y2="44.4" stroke="#4a4a4a" stroke-width="1" />
<line x1="532.1" y1="148.9" x2="532.1" y2="146.1" stroke="#4a4a4a" stroke-width="1" />
<line x1="532.1" y1="41.6" x2="532.1" y2="44.4" stroke="#4a4a4a" stroke-width="1" />
<line x1="539" y1="148.9" x2="539" y2="146.1" stroke="#4a4a4a" stroke-width="1" />
<line x1="539" y1="41.6" x2="539" y2="44.4" stroke="#4a4a4a" stroke-width="1" />
<line x1="552.8" y1="148.9" x2="552.8" y2="146.1" stroke="#4a4a4a" stroke-width="1" />
<line x1="552.8" y1="41.6" x2="552.8" y2="44.4" stroke="#4a4a4a" stroke-width="1" />
<line x1="559.7" y1="148.9" x2="559.7" y2="146.1" stroke="#4a4a4a" stroke-width="1" />
<line x1="559.7" y1="41.6" x2="559.7" y2="44.4" stroke="#4a4a4a" stroke-width="1" />
<line x1="566.6" y1="148.9" x2="566.6" y2="146.1" stroke="#4a4a4a" stroke-width="1" />
<line x1="566.6" y1="41.6" x2="566.6" y2="44.4" stroke="#4a4a4a" stroke-width="1" />
<line x1="573.5" y1="148.9" x2="573.5" y2="146.1" stroke="#4a4a4a" stroke-width="1" />
<line x1="573.5" y1="41.6" x2="573.5" y2="44.4" stroke="#4a4a4a" stroke-width="1" />
<line x1="587.3" y1="148.9" x2="587.3" y2="146.1" stroke="#4a4a4a" stroke-width="1" />
<line x1="587.3" y1="41.6" x2="587.3" y2="44.4" stroke="#4a4a4a" stroke-width="1" />
<line x1="594.2" y1="148.9" x2="594.2" y2="146.1" stroke="#4a4a4a" stroke-width="1" />
<line x1="594.2" y1="41.6" x2="594.2" y2="44.4" stroke="#4a4a4a" stroke-width="1" />
<line x1="601.1" y1="148.9" x2="601.1" y2="146.1" stroke="#4a4a4a" stroke-width="1" />
<line x1="601.1" y1="41.6" x2="601.1" y2="44.4" stroke="#4a4a4a" stroke-width="1" />
<line x1="608" y1="148.9" x2="608" y2="146.1" stroke="#4a4a4a" stroke-width="1" />
<line x1="608" y1="41.6" x2="608" y2="44.4" stroke="#4a4a4a" stroke-width="1" />
<line x1="621.8" y1="148.9" x2="621.8" y2="146.1" stroke="#4a4a4a" stroke-width="1" />
<line x1="621.8" y1="41.6" x2="621.8" y2="44.4" stroke="#4a4a4a" stroke-width="1" />
<line x1="628.7" y1="148.9" x2="628.7" y2="146.1" stroke="#4a4a4a" stroke-width="1" />
<line x1="628.7" y1="41.6" x2="628.7" y2="44.4" stroke="#4a4a4a" stroke-width="1" />
<line x1="635.6" y1="148.9" x2="635.6" y2="146.1" stroke="#4a4a4a" stroke-width="1" />
<line x1="635.6" y1="41.6" x2="635.6" y2="44.4" stroke="#4a4a4a" stroke-width="1" />
<line x1="642.5" y1="148.9" x2="642.5" y2="146.1" stroke="#4a4a4a" stroke-width="1" />
<line x1="642.5" y1="41.6" x2="642.5" y2="44.4" stroke="#4a4a4a" stroke-width="1" />
<line x1="656.3" y1="148.9" x2="656.3" y2="146.1" stroke="#4a4a4a" stroke-width="1" />
<line x1="656.3" y1="41.6" x2="656.3" y2="44.4" stroke="#4a4a4a" stroke-width="1" />
<line x1="663.2" y1="148.9" x2="663.2" y2="146.1" stroke="#4a4a4a" stroke-width="1" />
<line x1="663.2" y1="41.6" x2="663.2" y2="44.4" stroke="#4a4a4a" stroke-width="1" />
<line x1="670.1" y1="148.9" x2="670.1" y2="146.1" stroke="#4a4a4a" stroke-width="1" />
<line x1="670.1" y1="41.6" x2="670.1" y2="44.4" stroke="#4a4a4a" stroke-width="1" />
<line x1="677" y1="148.9" x2="677" y2="146.1" stroke="#4a4a4a" stroke-width="1" />
<line x1="677" y1="41.6" x2="677" y2="44.4" stroke="#4a4a4a" stroke-width="1" />
<line x1="482.9" y1="50.2" x2="488.4" y2="50.2" stroke="#4a4a4a" stroke-width="1" />
<line x1="682.3" y1="50.2" x2="676.8" y2="50.2" stroke="#4a4a4a" stroke-width="1" />
<line x1="482.9" y1="73" x2="488.4" y2="73" stroke="#4a4a4a" stroke-width="1" />
<line x1="682.3" y1="73" x2="676.8" y2="73" stroke="#4a4a4a" stroke-width="1" />
<line x1="482.9" y1="95.8" x2="488.4" y2="95.8" stroke="#4a4a4a" stroke-width="1" />
<line x1="682.3" y1="95.8" x2="676.8" y2="95.8" stroke="#4a4a4a" stroke-width="1" />
<line x1="482.9" y1="118.6" x2="488.4" y2="118.6" stroke="#4a4a4a" stroke-width="1" />
<line x1="682.3" y1="118.6" x2="676.8" y2="118.6" stroke="#4a4a4a" stroke-width="1" />
<line x1="482.9" y1="141.4" x2="488.4" y2="141.4" stroke="#4a4a4a" stroke-width="1" />
<line x1="682.3" y1="141.4" x2="676.8" y2="141.4" stroke="#4a4a4a" stroke-width="1" />
<line x1="482.9" y1="55.9" x2="485.7" y2="55.9" stroke="#4a4a4a" stroke-width="1" />
<line x1="682.3" y1="55.9" x2="679.5" y2="55.9" stroke="#4a4a4a" stroke-width="1" />
<line x1="482.9" y1="61.6" x2="485.7" y2="61.6" stroke="#4a4a4a" stroke-width="1" />
<line x1="682.3" y1="61.6" x2="679.5" y2="61.6" stroke="#4a4a4a" stroke-width="1" />
<line x1="482.9" y1="67.3" x2="485.7" y2="67.3" stroke="#4a4a4a" stroke-width="1" />
<line x1="682.3" y1="67.3" x2="679.5" y2="67.3" stroke="#4a4a4a" stroke-width="1" />
<line x1="482.9" y1="78.7" x2="485.7" y2="78.7" stroke="#4a4a4a" stroke-width="1" />
<line x1="682.3" y1="78.7" x2="679.5" y2="78.7" stroke="#4a4a4a" stroke-width="1" />
<line x1="482.9" y1="84.4" x2="485.7" y2="84.4" stroke="#4a4a4a" stroke-width="1" />
<line x1="682.3" y1="84.4" x2="679.5" y2="84.4" stroke="#4a4a4a" stroke-width="1" />
<line x1="482.9" y1="90.1" x2="485.7" y2="90.1" stroke="#4a4a4a" stroke-width="1" />
<line x1="682.3" y1="90.1" x2="679.5" y2="90.1" stroke="#4a4a4a" stroke-width="1" />
<line x1="482.9" y1="101.5" x2="485.7" y2="101.5" stroke="#4a4a4a" stroke-width="1" />
<line x1="682.3" y1="101.5" x2="679.5" y2="101.5" stroke="#4a4a4a" stroke-width="1" />
<line x1="482.9" y1="107.2" x2="485.7" y2="107.2" stroke="#4a4a4a" stroke-width="1" />
<line x1="682.3" y1="107.2" x2="679.5" y2="107.2" stroke="#4a4a4a" stroke-width="1" />
<line x1="482.9" y1="112.9" x2="485.7" y2="112.9" stroke="#4a4a4a" stroke-width="1" />
<line x1="682.3" y1="112.9" x2="679.5" y2="112.9" stroke="#4a4a4a" stroke-width="1" />
<line x1="482.9" y1="124.3" x2="485.7" y2="124.3" stroke="#4a4a4a" stroke-width="1" />
<line x1="682.3" y1="124.3" x2="679.5" y2="124.3" stroke="#4a4a4a" stroke-width="1" />
<line x1="482.9" y1="130" x2="485.7" y2="130" stroke="#4a4a4a" stroke-width="1" />
<line x1="682.3" y1="130" x2="679.5" y2="130" stroke="#4a4a4a" stroke-width="1" />
<line x1="482.9" y1="135.7" x2="485.7" y2="135.7" stroke="#4a4a4a" stroke-width="1" />
<line x1="682.3" y1="135.7" x2="679.5" y2="135.7" stroke="#4a4a4a" stroke-width="1" />
<line x1="482.9" y1="147.1" x2="485.7" y2="147.1" stroke="#4a4a4a" stroke-width="1" />
<line x1="682.3" y1="147.1" x2="679.5" y2="147.1" stroke="#4a4a4a" stroke-width="1" />
<line x1="482.9" y1="44.5" x2="485.7" y2="44.5" stroke="#4a4a4a" stroke-width="1" />
<line x1="682.3" y1="44.5" x2="679.5" y2="44.5" stroke="#4a4a4a" stroke-width="1" />
<text x="511.4" y="161" font-size="9.4" text-anchor="middle" font-weight="normal" font-style="normal" fill="#000" font-family="'Liberation Sans', sans-serif" >250</text>
<text x="545.9" y="161" font-size="9.4" text-anchor="middle" font-weight="normal" font-style="normal" fill="#000" font-family="'Liberation Sans', sans-serif" >300</text>
<text x="580.4" y="161" font-size="9.4" text-anchor="middle" font-weight="normal" font-style="normal" fill="#000" font-family="'Liberation Sans', sans-serif" >350</text>
<text x="614.9" y="161" font-size="9.4" text-anchor="middle" font-weight="normal" font-style="normal" fill="#000" font-family="'Liberation Sans', sans-serif" >400</text>
<text x="649.4" y="161" font-size="9.4" text-anchor="middle" font-weight="normal" font-style="normal" fill="#000" font-family="'Liberation Sans', sans-serif" >450</text>
<text x="582.5" y="173.6" font-size="9.4" text-anchor="middle" font-weight="normal" font-style="normal" fill="#000" font-family="'Liberation Sans', sans-serif" textLength="83.2" lengthAdjust="spacingAndGlyphs" >Magnetic Field (mT)</text>
<text transform="translate(470.3,97.2) rotate(-90)" x="0" y="0" font-size="9.5" text-anchor="middle" fill="#000" font-family="'Liberation Sans', sans-serif" textLength="69" lengthAdjust="spacingAndGlyphs">Intenstiy (arb. u.)</text>
<polygon points="518,117.7 520.1,129.9 522.1,131.9 527,129.5 531.9,126 534,123 535,117.7" fill="#bedcdc" stroke="#5aa0a0" stroke-width="0.8" stroke-linejoin="round"/>
<polygon points="535.8,117.7 537.4,108 538.9,105.5 540.5,108 541.5,117.7" fill="#bedcdc" stroke="#5aa0a0" stroke-width="0.8" stroke-linejoin="round"/>
<polygon points="600,117.7 608.3,124 611.2,127.5 613.6,131.5 615.1,127.9 616.5,117.7" fill="#bedcdc" stroke="#5aa0a0" stroke-width="0.8" stroke-linejoin="round"/>
<polygon points="617.5,117.7 625,112.5 631.7,106.5 633.7,107.5 636.6,113 638,117.7" fill="#bedcdc" stroke="#5aa0a0" stroke-width="0.8" stroke-linejoin="round"/>
<polygon points="557.5,117.7 558.9,119 561.5,126 563.5,121 564.5,117.7" fill="#e9c3c3" stroke="#d27070" stroke-width="0.8" stroke-linejoin="round" opacity="0.9"/>
<polygon points="564.5,117.7 564.7,110.8 566.2,101.3 567.8,95 569,89 570.2,93 572,101.3 575.2,111.8 577.3,117.7" fill="#e9c3c3" stroke="#d27070" stroke-width="0.8" stroke-linejoin="round" opacity="0.9"/>
<polygon points="577.3,117.7 579.4,122.3 581.5,128.6 582.9,148.4 584.9,137.7 586.8,136.7 588,117.7" fill="#e9c3c3" stroke="#d27070" stroke-width="0.8" stroke-linejoin="round" opacity="0.9"/>
<polygon points="589,117.7 590,108 591.5,104.5 593.7,104 596,104.5 597.5,112 598.5,117.7" fill="#e9c3c3" stroke="#d27070" stroke-width="0.8" stroke-linejoin="round" opacity="0.9"/>
<polygon points="517,117.7 519,120 522,121.3 530,121.5 535,120.5 535.8,117.7" fill="#bfe3bd" stroke="#5cb85c" stroke-width="0.8" stroke-linejoin="round"/>
<polygon points="535.8,117.7 535.8,116 537.9,111.3 540.5,110.8 545.8,109.2 551,106.6 553.6,103.8 555.2,99.9 556.8,103.8 558.4,107.6 561.5,110.8 566.8,112.9 572,114.4 577.3,116 582.5,117.6 583.5,117.7" fill="#bfe3bd" stroke="#5cb85c" stroke-width="0.8" stroke-linejoin="round"/>
<polygon points="583.5,117.7 588.8,120.2 592,121.5 596.6,123 600,121.5 608,121 616.5,120.5 617,117.7" fill="#bfe3bd" stroke="#5cb85c" stroke-width="0.8" stroke-linejoin="round"/>
<polygon points="617,117.7 617.8,113.5 636,113 637.5,117.7" fill="#bfe3bd" stroke="#5cb85c" stroke-width="0.8" stroke-linejoin="round"/>
<line x1="482.9" y1="117.7" x2="682.3" y2="117.7" stroke="#e8a0a0" stroke-width="0.8" />
<polyline points="483.4,67.7 484.6,67.7 485.8,67.7 487,66.98 488.2,67.81 489.4,67.31 490.6,67.55 491.8,67.07 493,68.13 494.2,67.68 495.4,67.64 496.6,68.52 497.8,67.86 499,67.9 500.2,67.51 501.4,67.78 502.6,67.88 503.8,68.22 505,67.91 506.2,67.17 507.4,67.29 508.6,67.27 509.8,67.58 511,67.19 512.2,68.04 513.4,67.04 514.6,67.61 515.8,67.27 517,69.3 518.2,71.51 520,80.25 520.9,84 522.25,84.01 523.6,83.51 524.68,82.55 525.76,81.5 526.84,80.83 527.92,79.95 529,78.74 530.1,77.8 531.2,76.18 532.3,75.65 533.4,74.34 534.5,73.5 536.3,67.12 538,56.03 539.9,54.94 540.98,56.18 542.06,56.08 543.14,56.9 544.22,57.33 545.3,57.84 546.38,57.83 547.46,57.66 548.54,56.73 549.62,56.68 550.7,56.04 552.05,55.35 553.4,54.32 554.75,50.53 556.1,46.93 557.9,52.37 559.25,57.42 560.6,61.6 561.65,63.63 562.7,66.43 563.9,61.55 565.1,56.16 566.9,45.11 568.3,43.35 569.4,45.07 570.5,47.07 571.7,49.87 572.9,52.99 574.1,56.01 575.45,62.56 576.8,69.11 578.15,70.8 579.5,72.33 580.5,73.23 581.6,80.07 582.7,86.7 584.05,87.57 585.4,88.25 587.2,93.92 589,90.87 590.8,75.7 592.3,68.8 594.1,72.5 595.9,82.59 596.95,79.82 598,77.62 599.08,77.24 600.16,77 601.24,76.68 602.32,76.72 603.4,76.28 604.48,76.24 605.56,75.5 606.64,75.45 607.72,75.93 608.8,76.02 609.88,75.92 610.96,76.25 612.04,76.02 613.12,76.57 614.2,77.24 616,72.66 617.8,58.28 619.6,54.78 620.68,53.66 621.76,53.01 622.84,52.5 623.92,52.26 625,51.85 626.1,51.59 627.2,50.96 628.3,50.44 629.4,50.07 630.5,49.37 631.67,49.01 632.83,48.16 634,48.33 635.9,50.59 637.7,61.94 639.1,68.02 640,67.92 641.2,67.79 642.4,67.88 643.6,67.8 644.8,68.08 646,67.55 647.2,67.52 648.4,67.54 649.6,68.36 650.8,67.51 652,68.16 653.2,68.42 654.4,67.03 655.6,67.7 656.8,68.19 658,68.74 659.2,67.97 660.4,67.98 661.6,67.59 662.8,68.13 664,67.41 665.2,68.35 666.4,67.71 667.6,67.77 668.8,67.97 670,67.53 671.2,68.36 672.4,67.84 673.6,68.09 674.8,68.24 676,67.97 677.2,68.08 678.4,67.51 679.6,67.3 680.8,67.4" fill="none" stroke="#2d4fe0" stroke-width="1" stroke-linejoin="round" />
<path d="M483.4,117.7 C492.93,117.7 502.47,117.7 512,117.7 C513,117.7 514,117.7 515,117.7 C515.4,117.7 515.91,117.47 516.2,117.7 C516.98,118.31 517.88,119.21 518.2,120.2 C519.18,123.27 519.09,126.87 520.1,129.9 C520.39,130.77 521.31,131.95 522.1,131.9 C523.61,131.81 525.52,130.51 527,129.5 C528.15,128.71 529,127.5 530,126.5 C531.4,125.1 533.1,123.89 534.2,122.3 C535.03,121.09 535.52,119.56 535.8,118.1 C536.59,113.96 536.69,109.66 537.4,105.5 C537.56,104.59 537.96,102.99 538.4,102.9 C538.82,102.82 539.41,104.35 540,105 C540.81,105.91 541.55,107.12 542.6,107.6 C543.81,108.15 545.44,108.26 546.8,108.1 C548.24,107.93 549.82,107.41 551,106.6 C552.09,105.85 552.93,104.58 553.6,103.4 C554.33,102.11 554.67,99.2 555.2,99.2 C555.73,99.2 556.38,101.96 556.8,103.4 C557.61,106.16 557.97,109.08 558.9,111.8 C559.54,113.65 560.41,115.89 561.5,117.1 C561.81,117.45 562.86,116.97 563.1,116.5 C563.93,114.87 564.31,112.73 564.7,110.8 C565.34,107.66 565.58,104.44 566.2,101.3 C566.62,99.18 567.3,97.11 567.8,95 C568.23,93.17 568.52,89.9 569,89.5 C569.32,89.24 569.9,91.81 570.2,93 C570.9,95.74 571.27,98.57 572,101.3 C572.94,104.83 574.04,108.33 575.2,111.8 C575.8,113.6 576.59,115.34 577.3,117.1 C577.99,118.84 578.82,120.53 579.4,122.3 C580.22,124.83 581.15,127.37 581.5,130 C582.31,136.07 582.19,146.79 582.9,148.4 C583.32,149.35 583.81,140.96 584.9,137.7 C585.11,137.06 586.63,137.36 586.8,136.7 C587.93,132.16 588.05,126.95 588.8,122.1 C589.35,118.49 589.43,113.84 590.7,111.3 C591.07,110.57 593.15,111.52 593.7,112.3 C594.78,113.82 595.07,116.2 595.6,118.2 C596.37,121.1 596.55,124.38 597.6,127 C597.85,127.61 598.87,128.01 599.5,127.9 C600.8,127.68 602.04,126.45 603.4,126 C604.97,125.48 606.83,124.72 608.3,125 C609.43,125.22 610.39,126.53 611.2,127.5 C612.15,128.63 612.89,131.23 613.6,131.3 C614.19,131.36 614.82,129.1 615.1,127.9 C615.99,124.07 616.24,120.05 617.1,116.2 C617.54,114.22 617.8,111.9 619,110.4 C620.4,108.66 622.84,107.62 624.9,106.5 C627.07,105.32 629.45,104.01 631.7,103.5 C632.38,103.35 633.35,103.88 633.7,104.5 C634.99,106.81 635.62,109.71 636.6,112.3 C637.22,113.94 637.56,115.95 638.5,117.2 C638.86,117.68 639.83,117.46 640.5,117.5 C641.33,117.56 642.17,117.5 643,117.5 C655.93,117.5 668.87,117.5 681.8,117.5" fill="none" stroke="#f03232" stroke-width="1.1" stroke-linejoin="round" />
<line x1="488.7" y1="51.2" x2="502" y2="51.2" stroke="#4f70e6" stroke-width="1.2" />
<text x="505.5" y="53.8" font-size="7.4" text-anchor="start" font-weight="normal" font-style="normal" fill="#000" font-family="'Liberation Sans', sans-serif" >trEPR signal</text>
<line x1="488.7" y1="92.8" x2="502" y2="92.8" stroke="#f87a7a" stroke-width="1.2" />
<text x="505.5" y="95.4" font-size="7.4" text-anchor="start" font-weight="normal" font-style="normal" fill="#000" font-family="'Liberation Sans', sans-serif" >Simulation</text>
<rect x="491.75" y="98.4" width="7.2" height="4.4" fill="#e9c3c3" stroke="#d27070" stroke-width="0.9" rx="0.5"/>
<text x="505.5" y="103.2" font-size="7.4" text-anchor="start" font-weight="normal" font-style="normal" fill="#000" font-family="'Liberation Sans', sans-serif" >Quintet</text>
<rect x="615.8" y="87.2" width="7.2" height="4.4" fill="#bfe3bd" stroke="#5cb85c" stroke-width="0.9" rx="0.5"/>
<text x="629.7" y="92" font-size="7.4" text-anchor="start" font-weight="normal" font-style="normal" fill="#000" font-family="'Liberation Sans', sans-serif" >Triplet by SF</text>
<rect x="615.8" y="96" width="7.2" height="4.4" fill="#bedcdc" stroke="#5aa0a0" stroke-width="0.9" rx="0.5"/>
<text x="629.7" y="100.8" font-size="7.4" text-anchor="start" font-weight="normal" font-style="normal" fill="#000" font-family="'Liberation Sans', sans-serif" >Triplet by ISC</text>
<rect x="18.3" y="185.8" width="200.3" height="120.6" fill="none" stroke="#4a4a4a" stroke-width="1"/>
<line x1="66.1" y1="306.4" x2="66.1" y2="302.8" stroke="#4a4a4a" stroke-width="1" />
<line x1="66.1" y1="185.8" x2="66.1" y2="189.4" stroke="#4a4a4a" stroke-width="1" />
<line x1="116.5" y1="306.4" x2="116.5" y2="302.8" stroke="#4a4a4a" stroke-width="1" />
<line x1="116.5" y1="185.8" x2="116.5" y2="189.4" stroke="#4a4a4a" stroke-width="1" />
<line x1="166.9" y1="306.4" x2="166.9" y2="302.8" stroke="#4a4a4a" stroke-width="1" />
<line x1="166.9" y1="185.8" x2="166.9" y2="189.4" stroke="#4a4a4a" stroke-width="1" />
<line x1="217.3" y1="306.4" x2="217.3" y2="302.8" stroke="#4a4a4a" stroke-width="1" />
<line x1="217.3" y1="185.8" x2="217.3" y2="189.4" stroke="#4a4a4a" stroke-width="1" />
<line x1="18.3" y1="188.5" x2="21.9" y2="188.5" stroke="#4a4a4a" stroke-width="1" />
<line x1="218.6" y1="188.5" x2="215" y2="188.5" stroke="#4a4a4a" stroke-width="1" />
<line x1="18.3" y1="214.45" x2="21.9" y2="214.45" stroke="#4a4a4a" stroke-width="1" />
<line x1="218.6" y1="214.45" x2="215" y2="214.45" stroke="#4a4a4a" stroke-width="1" />
<line x1="18.3" y1="240.4" x2="21.9" y2="240.4" stroke="#4a4a4a" stroke-width="1" />
<line x1="218.6" y1="240.4" x2="215" y2="240.4" stroke="#4a4a4a" stroke-width="1" />
<line x1="18.3" y1="266.35" x2="21.9" y2="266.35" stroke="#4a4a4a" stroke-width="1" />
<line x1="218.6" y1="266.35" x2="215" y2="266.35" stroke="#4a4a4a" stroke-width="1" />
<line x1="18.3" y1="292.3" x2="21.9" y2="292.3" stroke="#4a4a4a" stroke-width="1" />
<line x1="218.6" y1="292.3" x2="215" y2="292.3" stroke="#4a4a4a" stroke-width="1" />
<text x="66.1" y="316.5" font-size="9.4" text-anchor="middle" font-weight="normal" font-style="normal" fill="#000" font-family="'Liberation Sans', sans-serif" >160</text>
<text x="116.5" y="316.5" font-size="9.4" text-anchor="middle" font-weight="normal" font-style="normal" fill="#000" font-family="'Liberation Sans', sans-serif" >170</text>
<text x="166.9" y="316.5" font-size="9.4" text-anchor="middle" font-weight="normal" font-style="normal" fill="#000" font-family="'Liberation Sans', sans-serif" >180</text>
<text x="217.3" y="316.5" font-size="9.4" text-anchor="middle" font-weight="normal" font-style="normal" fill="#000" font-family="'Liberation Sans', sans-serif" >190</text>
<text x="116.4" y="330.8" font-size="9.4" text-anchor="middle" font-weight="normal" font-style="normal" fill="#000" font-family="'Liberation Sans', sans-serif" textLength="83.2" lengthAdjust="spacingAndGlyphs" >Magnetic Field (mT)</text>
<text transform="translate(7,246.5) rotate(-90)" x="0" y="0" font-size="9.5" text-anchor="middle" fill="#000" font-family="'Liberation Sans', sans-serif" textLength="69" lengthAdjust="spacingAndGlyphs">Intenstiy (arb. u.)</text>
<text x="0.8" y="194" font-size="10" text-anchor="start" font-weight="normal" font-style="normal" fill="#000" font-family="'Liberation Sans', sans-serif" >b)</text>
<path d="M18.3,240.62 C19.27,240.01 20.25,239.42 21.2,238.78 C21.91,238.31 22.63,237.83 23.3,237.3 C24.36,236.47 25.35,234.91 26.4,234.7 C27.08,234.56 28.03,235.54 28.5,236.24 C29.27,237.38 29.53,238.9 30.1,240.2 C30.6,241.35 31.07,243.53 31.7,243.61 C32.3,243.68 33.11,241.66 33.8,240.67 C34.31,239.93 34.78,238.44 35.3,238.41 C35.81,238.39 36.33,240.53 36.9,240.52 C37.56,240.51 38.29,239.05 39,238.33 C39.52,237.8 40.02,237.24 40.6,236.77 C41.09,236.38 41.84,236.26 42.2,235.76 C43.08,234.53 43.38,232.8 44.3,231.59 C44.94,230.76 46.23,229.39 46.9,229.65 C47.79,229.99 48.18,233.25 49,233.4 C49.75,233.53 50.76,231.48 51.6,230.49 C52.33,229.62 52.93,228.11 53.7,227.82 C54.17,227.65 54.92,228.57 55.3,229.12 C55.99,230.11 56.28,231.4 56.9,232.47 C57.51,233.51 58.29,235.44 59,235.45 C59.69,235.46 60.45,233.55 61.1,232.55 C62.18,230.89 63.18,229.19 64.2,227.49 C64.75,226.58 65.19,225.59 65.8,224.71 C66.26,224.05 67.11,223.61 67.4,222.87 C68.15,220.96 68.53,218.81 68.9,216.74 C69.5,213.37 69.55,209.88 70.3,206.55 C70.92,203.82 71.94,201.15 73,198.56 C73.67,196.93 74.45,195.27 75.5,193.89 C76.19,192.99 77.24,192.32 78.2,191.7 C78.64,191.42 79.22,191.13 79.7,191.18 C80.25,191.24 80.99,191.54 81.3,192.03 C82.23,193.51 82.87,195.35 83.4,197.1 C84.43,200.49 85.11,203.99 86,207.43 C86.64,209.9 87.44,212.34 88,214.83 C88.51,217.09 88.73,219.41 89.2,221.69 C89.56,223.45 89.82,225.35 90.5,226.94 C90.72,227.44 91.7,228.32 91.9,227.95 C92.67,226.52 93.04,223.7 93.4,221.53 C94.24,216.44 94.86,211.29 95.5,206.16 C96.26,200.14 96.39,193.84 97.6,188.08 C97.79,187.18 99.22,185.82 99.7,186.17 C100.62,186.84 101.35,189.4 101.8,191.13 C102.59,194.17 102.97,197.34 103.4,200.47 C104.04,205.13 104.46,209.83 105,214.5 C105.33,217.4 105.62,220.29 106,223.18 C106.32,225.68 106.78,228.15 107.1,230.65 C107.48,233.65 107.71,236.66 108.1,239.66 C108.47,242.52 108.92,245.38 109.4,248.22 C110.32,253.61 111.26,259 112.3,264.36 C112.86,267.29 113.6,270.19 114.2,273.11 C114.86,276.32 115.44,279.54 116.1,282.76 C116.71,285.75 117.35,288.74 118,291.72 C118.62,294.56 118.97,297.53 119.9,300.22 C120.24,301.2 121.11,302.61 121.8,302.73 C122.38,302.84 123,301.42 123.7,300.9 C124.27,300.47 125.19,300.43 125.6,299.87 C126.61,298.49 127.12,296.65 127.95,295.07 C128.69,293.66 129.6,292.35 130.3,290.92 C131.02,289.45 131.51,287.87 132.2,286.39 C132.78,285.16 133.44,283.96 134.1,282.76 C134.71,281.66 135.46,280.63 136,279.5 C136.72,277.99 137,276.19 137.9,274.83 C138.56,273.83 139.91,273.34 140.7,272.41 C141.38,271.61 141.8,270.58 142.3,269.65 C142.86,268.59 143.41,267.52 143.9,266.43 C144.48,265.16 144.76,263.7 145.5,262.54 C146.08,261.62 147.06,260.97 147.85,260.18 C148.63,259.41 149.52,257.68 150.2,257.86 C151.07,258.09 151.62,260.33 152.5,261.42 C153.18,262.26 154.55,264.28 154.9,263.66 C155.98,261.73 155.97,257 156.8,253.75 C157.22,252.08 158.07,250.53 158.65,248.9 C159.3,247.06 159.61,244.98 160.5,243.34 C160.81,242.77 161.63,242.52 162.25,242.27 C162.79,242.06 163.45,241.86 164,241.96 C164.58,242.06 165.09,242.55 165.63,242.85 C166.18,243.14 166.79,243.35 167.27,243.73 C167.88,244.21 168.51,245.73 168.9,245.42 C169.74,244.75 170.24,242.34 170.95,240.82 C171.61,239.39 172.08,237.76 173,236.58 C173.48,235.96 174.39,235.64 175.15,235.4 C175.82,235.2 176.79,234.89 177.3,235.26 C178.2,235.9 178.67,237.39 179.4,238.42 C180.07,239.35 180.71,240.82 181.5,241.13 C181.99,241.33 182.77,240.44 183.25,239.94 C183.93,239.24 184.45,238.35 185,237.52 C185.66,236.53 186.26,235.5 186.9,234.48 C187.53,233.48 188.4,230.98 188.8,231.48 C189.73,232.61 189.84,236.91 190.9,239.36 C191.57,240.9 192.91,243.02 194,243.45 C194.61,243.7 195.3,242.04 196,241.39 C196.63,240.8 197.3,240.25 198,239.75 C198.72,239.23 199.51,238.82 200.25,238.33 C201.01,237.83 201.84,236.64 202.5,236.79 C203.29,236.98 203.8,238.59 204.6,239.33 C205.2,239.89 206.01,240.7 206.7,240.68 C207.41,240.66 208.16,239.76 208.8,239.2 C209.56,238.55 210.2,237.76 210.9,237.04 C211.93,235.97 212.99,234.92 214,233.82 C214.69,233.08 215.35,232.3 216,231.52 C216.68,230.7 217.33,229.84 218,229" fill="none" stroke="#e65050" stroke-width="0.85" stroke-linejoin="round" stroke-dasharray="2.6,0.8"/>
<path d="M18.3,240.28 C18.95,240.18 19.6,240.05 20.25,239.98 C20.9,239.91 21.55,239.83 22.2,239.87 C22.9,239.92 23.61,240.09 24.3,240.25 C25.01,240.43 25.68,240.78 26.4,240.9 C27.25,241.03 28.24,240.68 29,241.01 C30.01,241.44 30.7,242.78 31.7,243.19 C32.3,243.44 33.14,243.2 33.8,242.98 C34.71,242.67 35.69,242.26 36.4,241.62 C37.42,240.7 38.08,239.36 39,238.3 C39.65,237.54 40.32,236.28 41.1,236.17 C41.88,236.06 42.78,237.27 43.7,237.64 C44.72,238.04 45.85,238.51 46.9,238.48 C47.79,238.45 48.62,237.73 49.5,237.44 C50.02,237.26 50.56,237.17 51.1,237.07 C51.63,236.97 52.21,237.04 52.7,236.84 C53.61,236.47 54.53,235.96 55.3,235.34 C56.26,234.55 57,233.48 57.9,232.61 C58.4,232.13 58.94,231.69 59.5,231.27 C60.01,230.88 60.64,230.64 61.1,230.2 C62.21,229.13 63.38,228.04 64.2,226.75 C65.28,225.06 66.06,223.14 66.8,221.26 C67.63,219.16 68.14,216.94 68.9,214.81 C69.61,212.84 70.49,210.92 71.2,208.94 C72.02,206.67 72.73,204.37 73.5,202.08 C73.99,200.63 74.46,199.16 75,197.72 C75.66,195.99 76.22,194.17 77.1,192.57 C77.45,191.94 78.18,191.57 78.7,191.04 C79.25,190.48 79.81,189.17 80.3,189.32 C81.04,189.53 81.83,191.12 82.4,192.13 C83.23,193.63 83.92,195.23 84.5,196.84 C85.32,199.1 85.97,201.43 86.6,203.76 C87.37,206.6 88.05,209.47 88.7,212.35 C89.29,214.96 89.45,217.71 90.3,220.21 C90.85,221.82 92.06,223.17 92.9,224.67 C93.79,226.26 94.7,227.85 95.5,229.49 C96.1,230.7 96.56,231.98 97.1,233.22 C97.63,234.46 98.15,235.7 98.7,236.92 C99.21,238.06 99.8,239.16 100.3,240.31 C100.87,241.61 101.38,242.94 101.9,244.27 C102.55,245.94 103.17,247.63 103.8,249.3 C104.44,251 105.14,252.66 105.7,254.38 C106.71,257.5 107.65,260.66 108.5,263.83 C109.55,267.74 110.55,271.68 111.4,275.64 C112.45,280.57 113.23,285.56 114.2,290.51 C114.8,293.58 115.3,296.69 116.1,299.71 C116.57,301.49 116.99,304.03 118,304.92 C118.55,305.4 119.97,304.34 120.8,303.81 C121.87,303.12 123.02,302.31 123.7,301.24 C124.92,299.34 125.54,297.02 126.5,294.92 C127.11,293.58 127.77,292.26 128.4,290.93 C129.03,289.6 129.68,288.27 130.3,286.92 C131.1,285.2 131.86,283.47 132.65,281.74 C133.43,280.02 134.16,278.28 135,276.59 C135.48,275.62 136.01,274.65 136.6,273.74 C137.07,273.02 137.69,272.39 138.2,271.69 C138.76,270.92 139.27,270.12 139.8,269.33 C140.43,268.4 141.03,267.45 141.7,266.55 C142.29,265.76 143.03,265.07 143.6,264.26 C144.3,263.27 144.74,262.09 145.5,261.16 C146.16,260.35 147.12,259.8 147.85,259.05 C148.69,258.19 149.36,257.17 150.2,256.31 C150.93,255.57 151.82,254.99 152.55,254.26 C153.39,253.41 154.04,252.37 154.9,251.56 C155.39,251.11 156,250.79 156.6,250.5 C157.13,250.24 157.75,250.15 158.3,249.93 C158.88,249.69 159.57,249.54 160,249.11 C160.92,248.19 161.49,246.89 162.35,245.87 C163.06,245.04 163.79,244.03 164.7,243.57 C165.29,243.27 166.14,243.63 166.85,243.58 C167.57,243.54 168.28,243.38 169,243.3 C169.66,243.23 170.34,243.25 171,243.16 C171.67,243.07 172.33,242.85 173,242.75 C173.66,242.65 174.33,242.61 175,242.54 C175.67,242.47 176.33,242.36 177,242.33 C177.75,242.29 178.5,242.36 179.25,242.32 C180,242.28 180.75,242.16 181.5,242.11 C182.17,242.06 182.83,242.03 183.5,242.04 C184.17,242.05 184.83,242.14 185.5,242.16 C186.23,242.17 186.97,242.13 187.7,242.13 C188.43,242.12 189.18,242.23 189.9,242.12 C190.6,242.03 191.25,241.66 191.95,241.53 C192.62,241.41 193.32,241.45 194,241.37 C194.72,241.29 195.43,241.07 196.15,241.04 C196.86,241.02 197.6,241.29 198.3,241.21 C199.02,241.12 199.71,240.78 200.4,240.53 C201.11,240.28 201.78,239.93 202.5,239.69 C203.18,239.47 203.89,239.32 204.6,239.17 C205.29,239.03 206.02,238.77 206.7,238.83 C207.27,238.87 207.8,239.27 208.35,239.49 C208.9,239.7 209.43,239.95 210,240.1 C210.98,240.36 212,240.64 213,240.71 C213.55,240.75 214.11,240.47 214.67,240.43 C215.22,240.39 215.79,240.54 216.33,240.47 C216.9,240.4 217.44,240.16 218,240" fill="none" stroke="#b41e1e" stroke-width="1.05" stroke-linejoin="round" />
<line x1="130" y1="207.3" x2="142.6" y2="207.3" stroke="#b41e1e" stroke-width="1.3" />
<line x1="130" y1="216.8" x2="142.6" y2="216.8" stroke="#e65050" stroke-width="0.9" stroke-dasharray="2.2,1"/>
<text x="146.2" y="210" font-size="8.6" font-family="'Liberation Sans', sans-serif" fill="#000">Me-(DPH)<tspan font-size="6.2" dy="1.6">3</tspan></text>
<text x="146.2" y="219.6" font-size="8.6" font-family="'Liberation Sans', sans-serif" fill="#000">(DPH)<tspan font-size="6.2" dy="1.6">3</tspan></text>
<line x1="29.9" y1="267.6" x2="81.3" y2="248.1" stroke="#333333" stroke-width="0.75" />
<line x1="29.9" y1="267.6" x2="81.3" y2="257.5" stroke="#333333" stroke-width="0.75" />
<line x1="29.9" y1="267.6" x2="79.5" y2="267.6" stroke="#333333" stroke-width="0.75" />
<line x1="29.9" y1="267.6" x2="80.4" y2="277.8" stroke="#333333" stroke-width="0.75" />
<line x1="29.9" y1="267.6" x2="80.4" y2="288.3" stroke="#333333" stroke-width="0.75" />
<rect x="28.6" y="266.4" width="3.2" height="2.2" fill="none" stroke="#333333" stroke-width="0.6"/>
<line x1="28.1" y1="292.3" x2="84.5" y2="292.3" stroke="#333333" stroke-width="0.75" />
<path d="M86.3,292.3 L83.3,290.9 L83.3,293.7 Z" fill="#333333"/>
<line x1="57.4" y1="267.6" x2="57.4" y2="292.3" stroke="#333333" stroke-width="0.75" />
<text x="82.4" y="250.3" font-size="6" font-family="'Liberation Serif', serif" fill="#111">+2</text>
<text x="82.4" y="259.7" font-size="6" font-family="'Liberation Serif', serif" fill="#111">+1</text>
<text x="82.4" y="270.3" font-size="6" font-family="'Liberation Serif', serif" fill="#111">0</text>
<text x="82.4" y="280.2" font-size="6" font-family="'Liberation Serif', serif" fill="#111">−1</text>
<text x="82.4" y="290.5" font-size="6" font-family="'Liberation Serif', serif" fill="#111">−2</text>
<text x="82.6" y="243.6" font-size="6" font-family="'Liberation Serif', serif" font-style="italic" fill="#111">m<tspan font-size="4.2" dy="1">S</tspan></text>
<text x="51.3" y="297.7" font-size="6" font-family="'Liberation Serif', serif" font-style="italic" fill="#111">B<tspan font-size="4.2" dy="1">0</tspan><tspan dy="-1">/2</tspan></text>
<text x="37.1" y="253.3" font-size="6.7" font-family="'Liberation Serif', serif" font-style="italic" fill="#a03030">Δm<tspan font-size="4.2" dy="1">s</tspan><tspan dy="-1" font-style="normal"> = ±2</tspan></text>
<line x1="53.7" y1="258.8" x2="53.7" y2="266" stroke="#b03030" stroke-width="0.6" stroke-dasharray="1,0.6"/>
<path d="M53.7,257.6 l-1,1.6 l2,0 Z" fill="#b03030"/>
<path d="M53.7,267.2 l-1,-1.6 l2,0 Z" fill="#b03030"/>
<line x1="61.8" y1="269.8" x2="61.8" y2="278" stroke="#b03030" stroke-width="0.6" stroke-dasharray="1,0.6"/>
<path d="M61.8,268.6 l-1,1.6 l2,0 Z" fill="#b03030"/>
<path d="M61.8,279.2 l-1,-1.6 l2,0 Z" fill="#b03030"/>
<rect x="295.3" y="186.7" width="45.2" height="119.9" fill="#e5efe6"/>
<rect x="340.5" y="186.7" width="33.1" height="119.9" fill="#f2e2e2"/>
<rect x="373.6" y="186.7" width="44.1" height="119.9" fill="#e5efe6"/>
<line x1="289.8" y1="306.6" x2="289.8" y2="303" stroke="#4a4a4a" stroke-width="1" />
<line x1="289.8" y1="186.7" x2="289.8" y2="190.3" stroke="#4a4a4a" stroke-width="1" />
<line x1="324" y1="306.6" x2="324" y2="303" stroke="#4a4a4a" stroke-width="1" />
<line x1="324" y1="186.7" x2="324" y2="190.3" stroke="#4a4a4a" stroke-width="1" />
<line x1="358.2" y1="306.6" x2="358.2" y2="303" stroke="#4a4a4a" stroke-width="1" />
<line x1="358.2" y1="186.7" x2="358.2" y2="190.3" stroke="#4a4a4a" stroke-width="1" />
<line x1="392.4" y1="306.6" x2="392.4" y2="303" stroke="#4a4a4a" stroke-width="1" />
<line x1="392.4" y1="186.7" x2="392.4" y2="190.3" stroke="#4a4a4a" stroke-width="1" />
<line x1="426.6" y1="306.6" x2="426.6" y2="303" stroke="#4a4a4a" stroke-width="1" />
<line x1="426.6" y1="186.7" x2="426.6" y2="190.3" stroke="#4a4a4a" stroke-width="1" />
<line x1="255.4" y1="193.9" x2="259.4" y2="193.9" stroke="#4a4a4a" stroke-width="1" />
<line x1="454.6" y1="193.9" x2="450.6" y2="193.9" stroke="#4a4a4a" stroke-width="1" />
<line x1="255.4" y1="213.65" x2="259.4" y2="213.65" stroke="#4a4a4a" stroke-width="1" />
<line x1="454.6" y1="213.65" x2="450.6" y2="213.65" stroke="#4a4a4a" stroke-width="1" />
<line x1="255.4" y1="233.4" x2="259.4" y2="233.4" stroke="#4a4a4a" stroke-width="1" />
<line x1="454.6" y1="233.4" x2="450.6" y2="233.4" stroke="#4a4a4a" stroke-width="1" />
<line x1="255.4" y1="253.15" x2="259.4" y2="253.15" stroke="#4a4a4a" stroke-width="1" />
<line x1="454.6" y1="253.15" x2="450.6" y2="253.15" stroke="#4a4a4a" stroke-width="1" />
<line x1="255.4" y1="272.9" x2="259.4" y2="272.9" stroke="#4a4a4a" stroke-width="1" />
<line x1="454.6" y1="272.9" x2="450.6" y2="272.9" stroke="#4a4a4a" stroke-width="1" />
<line x1="255.4" y1="292.65" x2="259.4" y2="292.65" stroke="#4a4a4a" stroke-width="1" />
<line x1="454.6" y1="292.65" x2="450.6" y2="292.65" stroke="#4a4a4a" stroke-width="1" />
<line x1="334.4" y1="186.7" x2="334.4" y2="306.6" stroke="#2f8a2f" stroke-width="0.9" />
<polyline points="255.9,288.68 256.8,288.56 257.7,288.59 258.6,289.17 259.5,288.59 260.4,288.82 261.3,288.63 262.2,288.68 263.1,289.09 264,289.21 264.9,288.64 265.8,288.49 266.7,288.97 267.6,288.49 268.5,288.32 269.4,289.12 270.3,288.69 271.2,289.05 272.1,288.68 273,289.1 273.9,288.72 274.8,288.46 275.7,288.32 276.6,288.81 277.5,288.89 278.4,289.13 279.3,288.39 280.2,288.87 281.1,288.64 282,288.76 282.9,288.44 283.8,288.56 284.7,288.78 285.6,289.14 286.5,288.41 287.4,288.75 288.3,289.03 289.2,289.18 290.1,288.49 291,288.42 291.9,289.16 292.8,289.19 293.7,288.74 294.6,288.36 295.5,289.14 295.6,288.66 296.4,289.89 296.6,289.82 297.3,291.95 297.4,291.63 298.2,292.89 298.5,292.64 299.1,292.86 300,293.33 300.9,293.32 301.8,292.75 302.7,292.78 303.6,292.95 304.5,293.07 305,292.95 305.4,292.7 306.3,292.78 307.2,293.19 308.1,293.31 309,292.51 309.9,292.95 310,293.13 310.8,292.44 311.7,293.11 312.6,292.41 313,292.82 313.5,291.89 313.8,291.42 314.4,286.87 315.3,286.86 316,286.91 316.2,286.77 317.1,286.94 318,286.72 318.9,286.68 319.8,286.27 320.7,286.78 321.6,286.63 322.5,286.28 323.4,286.64 324.3,286.54 325.2,286.13 326.1,285.76 327,285.91 327.9,285.39 328.8,285.23 329.7,285.32 330,284.96 330.6,285 331.5,284.64 332.4,283.73 333.2,283.83 333.3,283.26 334.2,283.19 334.6,282.94 335.1,283.14 336,283.51 336.9,285.06 337,285.07 337.8,286.2 338.5,286.01 338.7,286.76 339.6,287.34 340.5,287.55 341.4,287.7 342.3,287.2 343.2,287.98 344.1,287.25 345,287.37 345.9,287.04 346,286.34 346.8,287.11 347.7,287.49 348.6,286.95 349.5,287.48 350.4,288.11 351,287.75 351.3,288.51 352.2,288.24 353.1,289.01 353.2,288.44 354,289.12 354.9,289.9 355,289.31 355.8,289.65 356.7,290.2 357.6,290.37 358.5,290.45 358.6,290.62 359.4,290.81 360.3,291.75 361.2,291.77 362.1,292.2 362.2,291.58 363,292.32 363.9,291.94 364.8,292.53 365.2,292.72 365.7,292.34 366.6,292.76 367,292.49 367.5,292.35 368.4,292.27 369.3,291.14 369.4,291.88 370.2,292.05 370.6,292.1 371.1,293.48 371.8,294.52 372,295.69 372.9,297.32 373,297.35 373.6,299.24 373.8,298.57 374.2,297.56 374.7,297.28 375.4,295.54 375.6,296.09 376.5,294.91 377.2,294.74 377.4,294.98 378.3,294.34 379.2,294.12 380.1,293.52 380.2,293.21 381,293.05 381.9,292.94 382.8,293.14 383.7,292.76 384.6,292.62 385,292.87 385.5,292.08 386.4,291.99 387.3,292.19 388.2,291.45 389.1,291.25 389.8,291.43 390,291.17 390.9,291.26 391.8,290.99 392.7,291.17 393.4,291.07 393.6,290.44 394.3,289.83 394.5,288.62 395.1,285.09 395.4,285.63 396.3,284.45 396.9,283.99 397.2,283.93 398.1,284.39 399,284.58 399.9,284.47 400.8,284.1 401.7,283.94 402.6,283.69 403.5,284.23 404.4,284.13 405,283.92 405.3,284.19 406.2,284.04 407.1,284.51 408,284.36 408.9,283.95 409.8,284.57 410.7,283.82 411.6,284.29 412.5,284.2 413.2,284.07 413.4,284.03 414.3,285.24 415,284.98 415.2,285.88 416.1,288.1 416.3,287.8 416.8,288.49 417,288.86 417.9,288.77 418.8,288.89 419.7,289.04 420.6,288.47 421.5,288.59 422.4,288.58 423.3,288.35 424.2,289.11 425.1,289.01 426,288.95 426.9,288.32 427.8,289.07 428.7,288.98 429.6,288.73 430.5,288.98 431.4,288.72 432.3,288.51 433.2,288.4 434.1,288.52 435,288.34 435.9,288.61 436.8,288.98 437.7,288.94 438.6,289.07 439.5,288.95 440.4,288.55 441.3,288.81 442.2,288.7 443.1,289.02 444,288.78 444.9,288.55 445.8,288.89 446.7,289.18 447.6,288.51 448.5,289.1 449.4,288.32 450.3,288.54 451.2,288.52 452.1,288.98 453,289.16 453.9,288.98" fill="none" stroke="#7d00ea" stroke-width="1.05" stroke-linejoin="round" />
<polyline points="255.9,284.86 256.8,285.36 257.7,284.87 258.6,284.79 259.5,285.39 260.4,285.14 261.3,285.19 262.2,285.17 263.1,285.45 264,284.99 264.9,285.33 265.8,285.2 266.7,285.34 267.6,284.96 268.5,285.22 269.4,285.08 270.3,284.85 271.2,284.76 272.1,285.13 273,284.64 273.9,285.39 274.8,284.7 275.7,284.59 276.6,284.67 277.5,285.41 278.4,284.88 279.3,284.7 280.2,284.6 281.1,284.61 282,285.19 282.9,285.14 283.8,285.2 284.7,285.23 285.6,284.63 286.5,285.1 287.4,284.9 288.3,285.31 289.2,285.31 290.1,285.37 291,284.63 291.9,285.35 292.8,285.39 293.7,285.42 294.6,284.67 295.5,284.76 295.6,284.67 296.4,285.38 296.6,286.3 297.3,288.26 297.4,288.38 298.2,289.26 298.5,289.35 299.1,289.09 300,289 300.9,289 301.8,289.6 302.7,289.11 303.6,289.22 304.5,289.32 305,288.96 305.4,289.16 306.3,289.16 307.2,289.52 308.1,289.17 309,289.1 309.9,289.65 310,289.23 310.8,289.5 311.7,289.25 312.6,288.67 313,288.99 313.5,288.1 313.8,287.86 314.4,283.08 315.3,283.28 316,283.04 316.2,282.74 317.1,283.29 318,282.56 318.9,283.18 319.8,282.56 320.7,282.38 321.6,282.52 322.5,282.91 323.4,282.98 324.3,281.98 325.2,282.29 326.1,282.17 327,282.32 327.9,281.58 328.8,281.66 329.7,281.34 330,281.71 330.6,280.91 331.5,281.09 332.4,279.98 333.2,279.46 333.3,279.82 334.2,278.96 334.6,278.31 335.1,279.23 336,279.55 336.9,281.39 337,281.44 337.8,282.17 338.5,282.59 338.7,282.45 339.6,282.97 340.5,283.44 341.4,283.96 342.3,283.3 343.2,284.1 344.1,283.01 345,282.87 345.9,282.61 346,283.15 346.8,283.02 347.7,283.17 348.6,283.88 349.5,283.57 350.4,284.06 351,284.31 351.3,284.61 352.2,284.91 353.1,285.12 353.2,284.88 354,285.24 354.9,285.51 355,286.18 355.8,286.33 356.7,286.75 357.6,286.58 358.5,287.17 358.6,287.51 359.4,287.57 360.3,287.41 361.2,287.97 362.1,288.6 362.2,288.05 363,288.21 363.9,288.54 364.8,289.13 365.2,289.36 365.7,288.6 366.6,288.54 367,288.62 367.5,288.52 368.4,288.31 369.3,287.53 369.4,287.62 370.2,287.99 370.6,288.96 371.1,289.77 371.8,290.75 372,292.04 372.9,293.31 373,293.79 373.6,295.89 373.8,295.33 374.2,294.5 374.7,293.42 375.4,292.07 375.6,292.31 376.5,291.16 377.2,290.72 377.4,290.82 378.3,290.2 379.2,290.24 380.1,290.3 380.2,290.18 381,289.81 381.9,289.71 382.8,289.34 383.7,288.84 384.6,289.03 385,288.76 385.5,288.96 386.4,288.93 387.3,288.31 388.2,288.26 389.1,288.24 389.8,287.8 390,287.59 390.9,287.89 391.8,287.89 392.7,287.65 393.4,287.47 393.6,287.32 394.3,286.15 394.5,285.03 395.1,281.58 395.4,281.26 396.3,280.98 396.9,280.12 397.2,280.4 398.1,280.7 399,280.61 399.9,280.51 400.8,280.13 401.7,280.26 402.6,280.26 403.5,280.38 404.4,280.16 405,280.38 405.3,280.62 406.2,279.98 407.1,280.43 408,280.57 408.9,280.25 409.8,280.37 410.7,280.83 411.6,280.02 412.5,280.5 413.2,280.18 413.4,280.86 414.3,281.57 415,281.64 415.2,281.68 416.1,284.02 416.3,284.41 416.8,285.22 417,285.03 417.9,285.15 418.8,285.32 419.7,285.04 420.6,284.94 421.5,285.42 422.4,284.76 423.3,285.19 424.2,284.92 425.1,285.26 426,284.68 426.9,285.46 427.8,284.89 428.7,284.62 429.6,284.82 430.5,284.93 431.4,284.58 432.3,284.95 433.2,284.95 434.1,285.2 435,284.89 435.9,284.81 436.8,284.77 437.7,285.24 438.6,285.42 439.5,285.04 440.4,284.77 441.3,285.29 442.2,284.92 443.1,284.76 444,284.69 444.9,285.27 445.8,285.3 446.7,285.14 447.6,284.99 448.5,285.08 449.4,284.77 450.3,285.44 451.2,284.89 452.1,285.14 453,285.31 453.9,285.3" fill="none" stroke="#4600ea" stroke-width="1.05" stroke-linejoin="round" />
<polyline points="255.9,281.25 256.8,281.09 257.7,281.32 258.6,280.94 259.5,281.58 260.4,281.15 261.3,281.6 262.2,281.07 263.1,281.17 264,281.06 264.9,281.21 265.8,281 266.7,280.83 267.6,281.48 268.5,281.08 269.4,281.05 270.3,281.1 271.2,281.26 272.1,281.22 273,281.4 273.9,281.42 274.8,281.16 275.7,281.67 276.6,281.6 277.5,280.88 278.4,281.58 279.3,281.65 280.2,281.54 281.1,280.96 282,281.58 282.9,281.4 283.8,280.84 284.7,280.84 285.6,281.69 286.5,281.42 287.4,281.06 288.3,280.92 289.2,280.96 290.1,281.04 291,281.53 291.9,281.14 292.8,280.97 293.7,281.64 294.6,281.54 295.5,280.98 295.6,281.63 296.4,282.17 296.6,282.53 297.3,284.46 297.4,284.95 298.2,285.58 298.5,285.9 299.1,285.37 300,285.9 300.9,285.76 301.8,285.95 302.7,285.69 303.6,286.09 304.5,285.8 305,285.54 305.4,285.5 306.3,285.39 307.2,285.68 308.1,285.26 309,285.59 309.9,285.27 310,285.58 310.8,285.55 311.7,285.53 312.6,285.77 313,284.98 313.5,284.8 313.8,283.9 314.4,279.42 315.3,279.38 316,279.44 316.2,279.02 317.1,279.02 318,279.47 318.9,278.64 319.8,279.11 320.7,279.07 321.6,278.49 322.5,278.88 323.4,278.81 324.3,278.91 325.2,278.23 326.1,278.69 327,278.13 327.9,277.91 328.8,278.07 329.7,277.09 330,277.64 330.6,277.25 331.5,276.53 332.4,276.45 333.2,275.52 333.3,275.54 334.2,274.86 334.6,274.76 335.1,274.74 336,275.81 336.9,277.08 337,277.34 337.8,278.27 338.5,278.39 338.7,278.98 339.6,279.11 340.5,279.7 341.4,279.57 342.3,279.86 343.2,280.35 344.1,279.74 345,279.54 345.9,278.8 346,278.75 346.8,278.97 347.7,279.51 348.6,279.82 349.5,280.25 350.4,279.88 351,280.69 351.3,280.95 352.2,280.96 353.1,280.84 353.2,281.1 354,281.24 354.9,281.85 355,282.56 355.8,282.61 356.7,283.03 357.6,283.52 358.5,284 358.6,283.77 359.4,284.02 360.3,284.3 361.2,284.63 362.1,284.81 362.2,284.92 363,284.71 363.9,285.36 364.8,285.42 365.2,285.8 365.7,285.06 366.6,285.04 367,284.9 367.5,285.37 368.4,285.07 369.3,284.34 369.4,284.02 370.2,284.93 370.6,285.16 371.1,286.01 371.8,287.3 372,287.87 372.9,290.06 373,290.2 373.6,291.9 373.8,291.69 374.2,291.15 374.7,289.53 375.4,288.84 375.6,288.21 376.5,287.58 377.2,287.66 377.4,287.38 378.3,287.39 379.2,286.67 380.1,285.98 380.2,286.29 381,286.27 381.9,286.36 382.8,286.17 383.7,285.49 384.6,285.21 385,284.83 385.5,285.22 386.4,284.64 387.3,284.4 388.2,284.09 389.1,283.9 389.8,284.36 390,283.82 390.9,284.44 391.8,283.5 392.7,284.05 393.4,283.27 393.6,282.87 394.3,282.47 394.5,280.92 395.1,278.01 395.4,277.32 396.3,276.62 396.9,276.88 397.2,276.82 398.1,276.92 399,276.78 399.9,276.17 400.8,276.63 401.7,276.67 402.6,276.42 403.5,276.81 404.4,276.17 405,276.79 405.3,276.58 406.2,275.97 407.1,276 408,276.6 408.9,276.78 409.8,276.15 410.7,276.39 411.6,276.79 412.5,276.31 413.2,276.96 413.4,276.75 414.3,276.95 415,277.68 415.2,278.3 416.1,280.13 416.3,280.78 416.8,280.96 417,281.55 417.9,281.16 418.8,281.41 419.7,281.4 420.6,281.21 421.5,281.18 422.4,281.54 423.3,281.68 424.2,281.54 425.1,281.34 426,281.09 426.9,280.88 427.8,281.71 428.7,281.46 429.6,281.57 430.5,281.13 431.4,281.38 432.3,281.71 433.2,281.58 434.1,281.37 435,281.11 435.9,281.22 436.8,281.63 437.7,281.17 438.6,281.45 439.5,281.37 440.4,281.64 441.3,281.56 442.2,281.08 443.1,280.83 444,281.07 444.9,281.21 445.8,281.36 446.7,281.56 447.6,281.63 448.5,280.87 449.4,281.58 450.3,281.56 451.2,281.61 452.1,281.34 453,281.08 453.9,281.6" fill="none" stroke="#1000ea" stroke-width="1.05" stroke-linejoin="round" />
<polyline points="255.9,277.82 256.8,277.71 257.7,277.91 258.6,277.4 259.5,277.17 260.4,277.59 261.3,277.81 262.2,277.27 263.1,277.77 264,277.93 264.9,277.3 265.8,277.64 266.7,277.7 267.6,277.51 268.5,277.28 269.4,277.32 270.3,277.77 271.2,277.8 272.1,277.5 273,277.17 273.9,277.82 274.8,277.78 275.7,277.3 276.6,277.61 277.5,277.9 278.4,277.89 279.3,277.56 280.2,277.52 281.1,277.62 282,277.26 282.9,277.26 283.8,277.25 284.7,277.72 285.6,277.42 286.5,277.6 287.4,277.45 288.3,277.56 289.2,277.22 290.1,277.13 291,277.99 291.9,277.43 292.8,277.19 293.7,277.66 294.6,277.8 295.5,277.23 295.6,277.63 296.4,278.22 296.6,278.58 297.3,280.22 297.4,280.53 298.2,282.14 298.5,282.31 299.1,282.02 300,282.17 300.9,281.91 301.8,282.38 302.7,282.07 303.6,282.54 304.5,282.39 305,282.44 305.4,282.55 306.3,281.88 307.2,281.66 308.1,281.77 309,281.72 309.9,281.61 310,281.57 310.8,281.98 311.7,282.21 312.6,281.79 313,282.21 313.5,281.22 313.8,279.88 314.4,275.56 315.3,275.24 316,274.89 316.2,275.63 317.1,274.96 318,275.2 318.9,275.23 319.8,275.47 320.7,275.18 321.6,274.89 322.5,274.8 323.4,274.39 324.3,274.98 325.2,274.86 326.1,274.02 327,273.72 327.9,273.69 328.8,273.56 329.7,273.84 330,273.77 330.6,273.37 331.5,272.17 332.4,272.24 333.2,271.64 333.3,271.5 334.2,271.02 334.6,269.84 335.1,270.44 336,271.93 336.9,273.47 337,273.39 337.8,273.79 338.5,274.7 338.7,274.97 339.6,274.93 340.5,275.68 341.4,275.7 342.3,275.66 343.2,276.06 344.1,275.43 345,275.14 345.9,274.7 346,275.14 346.8,274.81 347.7,275.74 348.6,275.56 349.5,275.74 350.4,276.86 351,276.44 351.3,277.19 352.2,277.48 353.1,277.85 353.2,277.22 354,277.93 354.9,278.1 355,278.9 355.8,279.18 356.7,279.39 357.6,279.63 358.5,279.93 358.6,280.41 359.4,280.36 360.3,280.79 361.2,280.64 362.1,281.01 362.2,280.89 363,281.71 363.9,281.83 364.8,281.73 365.2,282.5 365.7,281.79 366.6,281.8 367,281.54 367.5,281.41 368.4,281.45 369.3,280.45 369.4,280.23 370.2,281.03 370.6,281.13 371.1,282.74 371.8,283.62 372,284.93 372.9,286.26 373,287.25 373.6,288.68 373.8,287.86 374.2,287.28 374.7,286.26 375.4,285.04 375.6,284.83 376.5,284.26 377.2,284.26 377.4,284.2 378.3,283.83 379.2,282.78 380.1,282.64 380.2,283.15 381,282.19 381.9,282.57 382.8,281.95 383.7,282.33 384.6,281.24 385,281.84 385.5,281.32 386.4,280.95 387.3,280.63 388.2,281.18 389.1,280.72 389.8,280.26 390,280.45 390.9,280.73 391.8,279.95 392.7,280.11 393.4,279.6 393.6,279.34 394.3,278.81 394.5,277.6 395.1,273.68 395.4,273.38 396.3,272.79 396.9,272.86 397.2,272.75 398.1,272.52 399,272.43 399.9,272.76 400.8,272.82 401.7,272.88 402.6,272.64 403.5,272.27 404.4,272.12 405,272.7 405.3,272.41 406.2,272.73 407.1,272.16 408,272.87 408.9,272.47 409.8,272.96 410.7,273.01 411.6,272.7 412.5,272.3 413.2,273.13 413.4,272.87 414.3,273.83 415,273.75 415.2,274.12 416.1,276.71 416.3,276.74 416.8,277.24 417,277.42 417.9,277.63 418.8,277.09 419.7,277.56 420.6,277.49 421.5,277.55 422.4,277.2 423.3,277.73 424.2,277.82 425.1,277.87 426,277.38 426.9,277.73 427.8,277.43 428.7,277.77 429.6,277.15 430.5,277.88 431.4,277.95 432.3,277.54 433.2,277.55 434.1,277.57 435,277.57 435.9,277.11 436.8,277.96 437.7,277.29 438.6,277.25 439.5,277.18 440.4,277.32 441.3,277.83 442.2,277.12 443.1,277.18 444,277.72 444.9,277.27 445.8,277.11 446.7,277.63 447.6,277.61 448.5,277.56 449.4,277.72 450.3,277.18 451.2,277.87 452.1,277.74 453,277.13 453.9,277.2" fill="none" stroke="#0025ea" stroke-width="1.05" stroke-linejoin="round" />
<polyline points="255.9,273.79 256.8,273.8 257.7,273.6 258.6,273.46 259.5,273.72 260.4,273.47 261.3,273.88 262.2,274.12 263.1,273.48 264,273.87 264.9,274.02 265.8,273.5 266.7,274.09 267.6,274.19 268.5,273.7 269.4,273.73 270.3,274.11 271.2,273.82 272.1,273.71 273,274.2 273.9,274.05 274.8,273.65 275.7,273.57 276.6,273.65 277.5,273.74 278.4,274.23 279.3,274.07 280.2,274.17 281.1,274.08 282,274.11 282.9,273.4 283.8,273.82 284.7,274.21 285.6,274.19 286.5,273.57 287.4,273.73 288.3,273.92 289.2,273.68 290.1,273.83 291,273.41 291.9,273.74 292.8,273.8 293.7,273.37 294.6,273.48 295.5,274.22 295.6,274.05 296.4,275.04 296.6,274.98 297.3,277.31 297.4,277.68 298.2,278.46 298.5,277.98 299.1,278.58 300,278.33 300.9,278.71 301.8,278.35 302.7,278.6 303.6,278.95 304.5,278.68 305,278.35 305.4,278.58 306.3,278.47 307.2,278.9 308.1,278.27 309,278.26 309.9,278.53 310,278.06 310.8,278.44 311.7,278.71 312.6,278.26 313,278.01 313.5,277.2 313.8,276.66 314.4,271.22 315.3,271.05 316,270.94 316.2,271.07 317.1,271.13 318,270.98 318.9,270.9 319.8,270.72 320.7,271.09 321.6,271.31 322.5,270.95 323.4,270.75 324.3,270.67 325.2,270.11 326.1,270.41 327,270.03 327.9,269.87 328.8,269.69 329.7,269.32 330,269.1 330.6,268.68 331.5,268.11 332.4,267.73 333.2,267.03 333.3,267.12 334.2,265.75 334.6,265.67 335.1,266.7 336,267.17 336.9,268.97 337,269.08 337.8,269.7 338.5,271.04 338.7,270.55 339.6,271.58 340.5,271.63 341.4,271.63 342.3,272.45 343.2,272.15 344.1,271.42 345,271.33 345.9,270.99 346,271.21 346.8,270.94 347.7,271.36 348.6,272.35 349.5,272.5 350.4,272.32 351,272.72 351.3,272.86 352.2,273.53 353.1,273.86 353.2,274.11 354,274.56 354.9,274.82 355,275.08 355.8,275.48 356.7,275.93 357.6,276.11 358.5,276.83 358.6,276.81 359.4,277.28 360.3,276.89 361.2,277.88 362.1,277.42 362.2,278.14 363,278.24 363.9,278.44 364.8,279.15 365.2,278.93 365.7,278.61 366.6,278.77 367,278.8 367.5,278.29 368.4,277.53 369.3,276.99 369.4,276.92 370.2,277.67 370.6,277.55 371.1,278.74 371.8,280.52 372,280.91 372.9,283.08 373,283.75 373.6,285.5 373.8,284.76 374.2,283.87 374.7,282.75 375.4,281.62 375.6,281.31 376.5,280.95 377.2,280.38 377.4,279.87 378.3,280.3 379.2,279.44 380.1,279.59 380.2,279.55 381,279.45 381.9,278.53 382.8,278.49 383.7,278.69 384.6,277.64 385,277.57 385.5,277.92 386.4,277.66 387.3,277.84 388.2,277.51 389.1,277.1 389.8,277.36 390,276.89 390.9,276.73 391.8,276.73 392.7,276.3 393.4,276.15 393.6,276.05 394.3,274.73 394.5,274.07 395.1,270.24 395.4,269.9 396.3,268.9 396.9,268.74 397.2,268.75 398.1,268.86 399,268.84 399.9,269.09 400.8,269.13 401.7,268.67 402.6,268.6 403.5,268.73 404.4,269.03 405,268.42 405.3,268.6 406.2,268.89 407.1,268.34 408,268.5 408.9,269.13 409.8,269.02 410.7,268.77 411.6,268.44 412.5,269.18 413.2,269.02 413.4,269.27 414.3,270.05 415,270.44 415.2,270.48 416.1,272.32 416.3,272.9 416.8,273.81 417,273.8 417.9,273.52 418.8,273.51 419.7,273.92 420.6,273.89 421.5,273.67 422.4,274.24 423.3,273.92 424.2,273.39 425.1,273.72 426,274.06 426.9,273.63 427.8,273.97 428.7,273.35 429.6,273.62 430.5,274.11 431.4,273.88 432.3,273.95 433.2,273.53 434.1,273.8 435,273.85 435.9,273.59 436.8,273.93 437.7,273.83 438.6,274.25 439.5,273.87 440.4,273.72 441.3,273.46 442.2,273.49 443.1,274.03 444,273.45 444.9,273.44 445.8,273.5 446.7,273.82 447.6,274.09 448.5,273.9 449.4,274.08 450.3,273.41 451.2,273.36 452.1,274.04 453,273.64 453.9,273.99" fill="none" stroke="#005cea" stroke-width="1.05" stroke-linejoin="round" />
<polyline points="255.9,269.93 256.8,269.76 257.7,269.85 258.6,269.7 259.5,270.42 260.4,270.13 261.3,269.92 262.2,270.01 263.1,269.96 264,269.66 264.9,270.41 265.8,270.13 266.7,270.47 267.6,270.01 268.5,270.17 269.4,269.83 270.3,269.65 271.2,270.45 272.1,270.38 273,269.89 273.9,270.42 274.8,270.34 275.7,269.88 276.6,270.15 277.5,270.47 278.4,270.06 279.3,270.46 280.2,269.83 281.1,269.96 282,270.26 282.9,269.81 283.8,269.89 284.7,270.4 285.6,270.05 286.5,270.32 287.4,269.83 288.3,269.77 289.2,269.93 290.1,269.78 291,270.48 291.9,269.87 292.8,270.12 293.7,269.71 294.6,270.09 295.5,269.96 295.6,269.97 296.4,270.55 296.6,270.83 297.3,273.72 297.4,273.62 298.2,274.33 298.5,274.58 299.1,274.72 300,274.77 300.9,274.59 301.8,275.17 302.7,274.88 303.6,274.72 304.5,275.22 305,274.68 305.4,274.82 306.3,275.3 307.2,274.63 308.1,274.88 309,275.2 309.9,275.14 310,274.55 310.8,274.68 311.7,274.95 312.6,274.59 313,275.09 313.5,273.37 313.8,273.42 314.4,267.55 315.3,267.14 316,267.21 316.2,266.91 317.1,267.38 318,266.93 318.9,267.46 319.8,267.13 320.7,266.89 321.6,266.73 322.5,266.88 323.4,266.35 324.3,266.78 325.2,265.93 326.1,266.11 327,265.96 327.9,265.45 328.8,265.64 329.7,265.02 330,265.18 330.6,264.7 331.5,263.86 332.4,263.21 333.2,262.3 333.3,262.28 334.2,261.93 334.6,261.03 335.1,261.97 336,262.62 336.9,264.7 337,264.7 337.8,265.73 338.5,266.33 338.7,266.27 339.6,267.16 340.5,267.75 341.4,267.75 342.3,268.38 343.2,268.09 344.1,267.77 345,267.8 345.9,267.25 346,267.3 346.8,267.6 347.7,267.3 348.6,267.79 349.5,267.96 350.4,268.93 351,269.17 351.3,269.03 352.2,269.51 353.1,270.16 353.2,270.24 354,270.36 354.9,271.49 355,271.11 355.8,271.79 356.7,271.88 357.6,272.3 358.5,273.51 358.6,273.4 359.4,273.7 360.3,273.45 361.2,273.8 362.1,274.27 362.2,274.34 363,274.72 363.9,275.11 364.8,275.12 365.2,275.5 365.7,275.6 366.6,274.96 367,275.47 367.5,274.9 368.4,274.4 369.3,273.29 369.4,273.37 370.2,274.11 370.6,274.08 371.1,274.91 371.8,277.33 372,277.84 372.9,279.72 373,279.76 373.6,282.26 373.8,281.6 374.2,280.21 374.7,279.46 375.4,278.05 375.6,278.49 376.5,277.19 377.2,277.23 377.4,277 378.3,276.07 379.2,276.29 380.1,275.69 380.2,275.97 381,275.82 381.9,275.08 382.8,274.66 383.7,275.18 384.6,274.46 385,274.8 385.5,274.47 386.4,274.31 387.3,274.18 388.2,273.79 389.1,273.43 389.8,272.91 390,273.45 390.9,273.04 391.8,272.95 392.7,273.16 393.4,272.31 393.6,272.55 394.3,270.76 394.5,270.1 395.1,266.46 395.4,265.75 396.3,265.36 396.9,265.31 397.2,265 398.1,264.89 399,264.59 399.9,264.39 400.8,264.62 401.7,264.64 402.6,264.42 403.5,264.48 404.4,264.29 405,264.78 405.3,264.76 406.2,264.4 407.1,264.44 408,264.72 408.9,264.69 409.8,265.16 410.7,264.67 411.6,264.65 412.5,265.21 413.2,264.57 413.4,265.09 414.3,265.53 415,266.47 415.2,266.71 416.1,269.07 416.3,269.02 416.8,270.21 417,270.15 417.9,270.03 418.8,270.3 419.7,270.36 420.6,269.71 421.5,269.87 422.4,269.93 423.3,269.8 424.2,269.66 425.1,269.86 426,269.79 426.9,270.24 427.8,270.01 428.7,269.71 429.6,269.9 430.5,270.03 431.4,269.94 432.3,269.76 433.2,269.67 434.1,269.62 435,270.5 435.9,270.29 436.8,269.69 437.7,270.26 438.6,270.49 439.5,270.12 440.4,269.71 441.3,270.05 442.2,270 443.1,269.78 444,270.1 444.9,269.62 445.8,270.44 446.7,270.19 447.6,270.17 448.5,270.45 449.4,270.2 450.3,269.84 451.2,269.83 452.1,269.73 453,269.63 453.9,270.31" fill="none" stroke="#0092ea" stroke-width="1.05" stroke-linejoin="round" />
<polyline points="255.9,266.63 256.8,266.14 257.7,266.04 258.6,266.44 259.5,266.63 260.4,266.7 261.3,266.02 262.2,266.58 263.1,266.62 264,266.54 264.9,266.16 265.8,266.04 266.7,266.61 267.6,266.16 268.5,266.2 269.4,266.37 270.3,266.2 271.2,266.62 272.1,266.09 273,265.91 273.9,266.38 274.8,266.44 275.7,266.61 276.6,266.51 277.5,266.68 278.4,266.72 279.3,266.31 280.2,266.32 281.1,266.01 282,266.14 282.9,266.39 283.8,265.94 284.7,266.49 285.6,266.02 286.5,266.27 287.4,266.74 288.3,265.95 289.2,265.91 290.1,266.27 291,266.04 291.9,266.52 292.8,265.87 293.7,266.63 294.6,266.64 295.5,266.58 295.6,266.25 296.4,267.06 296.6,267.63 297.3,269.88 297.4,270.13 298.2,270.9 298.5,271.31 299.1,271.58 300,271.82 300.9,271.89 301.8,271.23 302.7,271.36 303.6,271.5 304.5,271.61 305,271.42 305.4,271.27 306.3,271.14 307.2,271.32 308.1,271.4 309,271.83 309.9,271.74 310,271.7 310.8,271.74 311.7,271.67 312.6,271.31 313,271.45 313.5,269.68 313.8,269.58 314.4,263.6 315.3,263.13 316,263.24 316.2,263.57 317.1,263.09 318,263.19 318.9,262.82 319.8,262.81 320.7,263.24 321.6,262.42 322.5,262.37 323.4,262.62 324.3,262.21 325.2,261.69 326.1,262.02 327,261.57 327.9,261.46 328.8,261.01 329.7,260.81 330,260.75 330.6,260.14 331.5,259.21 332.4,258.47 333.2,258.39 333.3,257.96 334.2,256.51 334.6,256.71 335.1,256.87 336,258 336.9,260.27 337,260.23 337.8,261.45 338.5,262.39 338.7,262.26 339.6,263.32 340.5,263.65 341.4,264.12 342.3,264.3 343.2,263.95 344.1,263.77 345,262.99 345.9,262.84 346,263.17 346.8,263.24 347.7,263.79 348.6,264.23 349.5,264.09 350.4,265.31 351,265.36 351.3,264.96 352.2,266.09 353.1,266.17 353.2,266.02 354,267.32 354.9,267.63 355,267.89 355.8,267.8 356.7,268.93 357.6,268.83 358.5,269.53 358.6,269.72 359.4,269.75 360.3,270.67 361.2,270.72 362.1,271.2 362.2,271.61 363,271.67 363.9,272.45 364.8,272.56 365.2,272.95 365.7,272.45 366.6,272.47 367,272.31 367.5,271.28 368.4,271.06 369.3,269.9 369.4,270.19 370.2,270.64 370.6,271.04 371.1,271.6 371.8,273.55 372,274.45 372.9,277.09 373,277.16 373.6,278.41 373.8,278.45 374.2,277.06 374.7,276.5 375.4,275.37 375.6,274.56 376.5,274.48 377.2,273.62 377.4,273.16 378.3,272.76 379.2,272.64 380.1,272.64 380.2,272.37 381,271.72 381.9,271.37 382.8,271.19 383.7,271.55 384.6,270.73 385,270.95 385.5,270.59 386.4,270.73 387.3,270.24 388.2,269.8 389.1,270.24 389.8,269.77 390,269.87 390.9,269.8 391.8,269.75 392.7,268.74 393.4,268.9 393.6,268.38 394.3,267.49 394.5,266.51 395.1,262.51 395.4,261.6 396.3,261.05 396.9,261.17 397.2,261.04 398.1,260.74 399,260.78 399.9,260.46 400.8,261.05 401.7,260.61 402.6,261 403.5,260.73 404.4,260.22 405,260.42 405.3,260.33 406.2,260.97 407.1,260.73 408,260.28 408.9,260.43 409.8,260.63 410.7,260.76 411.6,260.89 412.5,260.76 413.2,260.75 413.4,260.59 414.3,261.79 415,262.09 415.2,262.32 416.1,265 416.3,265.98 416.8,265.91 417,266 417.9,266.47 418.8,266.12 419.7,266.12 420.6,266.32 421.5,266.11 422.4,266.38 423.3,266.35 424.2,266.73 425.1,266.76 426,265.9 426.9,266.37 427.8,266.56 428.7,266.66 429.6,266.57 430.5,266.44 431.4,266.44 432.3,266.2 433.2,266.12 434.1,266.59 435,266.66 435.9,266.71 436.8,266.48 437.7,266.14 438.6,266.56 439.5,266.54 440.4,266.33 441.3,266.44 442.2,266.19 443.1,266.37 444,266.24 444.9,265.92 445.8,266.17 446.7,266.16 447.6,266.76 448.5,266.3 449.4,266.2 450.3,266.09 451.2,266.08 452.1,266.18 453,265.99 453.9,265.88" fill="none" stroke="#00c8ea" stroke-width="1.05" stroke-linejoin="round" />
<polyline points="255.9,262.91 256.8,262.54 257.7,262.53 258.6,262.64 259.5,262.4 260.4,262.28 261.3,262.19 262.2,262.4 263.1,262.41 264,262.78 264.9,262.63 265.8,262.97 266.7,262.44 267.6,262.96 268.5,262.66 269.4,262.2 270.3,262.29 271.2,262.65 272.1,263.02 273,262.45 273.9,262.83 274.8,262.52 275.7,262.91 276.6,262.19 277.5,262.57 278.4,262.94 279.3,262.38 280.2,262.36 281.1,262.15 282,262.28 282.9,262.37 283.8,262.76 284.7,262.33 285.6,262.49 286.5,262.31 287.4,262.67 288.3,262.91 289.2,262.71 290.1,262.31 291,262.79 291.9,263 292.8,262.67 293.7,262.2 294.6,262.86 295.5,262.92 295.6,262.44 296.4,263.24 296.6,263.53 297.3,266.37 297.4,267.03 298.2,267.72 298.5,268.31 299.1,267.74 300,267.94 300.9,268.33 301.8,268.24 302.7,268.03 303.6,268.28 304.5,267.99 305,267.74 305.4,268.04 306.3,267.67 307.2,268.16 308.1,267.86 309,267.97 309.9,268.02 310,267.71 310.8,267.84 311.7,267.38 312.6,268.13 313,267.78 313.5,267.01 313.8,265.47 314.4,259.5 315.3,259.39 316,258.87 316.2,258.65 317.1,258.64 318,258.57 318.9,259.07 319.8,258.4 320.7,258.99 321.6,258.58 322.5,258.47 323.4,258.29 324.3,258.04 325.2,257.92 326.1,257.65 327,257.19 327.9,257.22 328.8,256.45 329.7,256.52 330,256.45 330.6,255.96 331.5,254.77 332.4,254.28 333.2,253.65 333.3,253.05 334.2,251.69 334.6,251.37 335.1,252.55 336,253.27 336.9,255.28 337,255.93 337.8,257.23 338.5,258.34 338.7,258.15 339.6,259.56 340.5,259.72 341.4,260.32 342.3,259.84 343.2,259.91 344.1,259.46 345,258.86 345.9,258.71 346,258.7 346.8,258.77 347.7,259.9 348.6,259.84 349.5,260.14 350.4,260.65 351,261.48 351.3,261.83 352.2,261.68 353.1,262.1 353.2,262.83 354,263.01 354.9,264.43 355,264.08 355.8,264.75 356.7,265.1 357.6,266.13 358.5,266.44 358.6,266.39 359.4,267.31 360.3,267.04 361.2,268.05 362.1,267.9 362.2,268.47 363,268.61 363.9,269.44 364.8,269.12 365.2,269.75 365.7,269.36 366.6,269.43 367,269.3 367.5,268.53 368.4,267.29 369.3,266.41 369.4,266.32 370.2,267 370.6,267.09 371.1,268.32 371.8,270.61 372,271.1 372.9,273.39 373,274.3 373.6,275.58 373.8,275.4 374.2,274.04 374.7,273.65 375.4,272.21 375.6,271.48 376.5,271.05 377.2,270.44 377.4,269.87 378.3,269.55 379.2,269.32 380.1,269.31 380.2,268.61 381,268.83 381.9,268.48 382.8,268.07 383.7,267.91 384.6,267.9 385,267.17 385.5,267.65 386.4,266.95 387.3,267.1 388.2,266.94 389.1,266.1 389.8,266.53 390,266.61 390.9,265.79 391.8,265.36 392.7,265.25 393.4,265.89 393.6,264.65 394.3,264.18 394.5,262.11 395.1,258.47 395.4,257.66 396.3,257 396.9,256.98 397.2,256.44 398.1,256.63 399,257.11 399.9,256.89 400.8,257 401.7,257.06 402.6,256.17 403.5,256.31 404.4,256.78 405,256.66 405.3,256.09 406.2,256.54 407.1,256.33 408,256.55 408.9,256.29 409.8,256.25 410.7,257.16 411.6,256.59 412.5,257.13 413.2,256.48 413.4,256.97 414.3,257.37 415,258.19 415.2,258.51 416.1,261.39 416.3,261.44 416.8,262.79 417,262.58 417.9,262.23 418.8,262.45 419.7,262.58 420.6,262.96 421.5,262.44 422.4,262.32 423.3,263 424.2,262.92 425.1,262.79 426,262.38 426.9,262.29 427.8,262.37 428.7,262.19 429.6,262.17 430.5,262.59 431.4,262.5 432.3,262.63 433.2,262.46 434.1,262.14 435,262.75 435.9,262.72 436.8,262.62 437.7,262.62 438.6,262.75 439.5,263.01 440.4,262.92 441.3,262.78 442.2,262.49 443.1,262.42 444,262.51 444.9,263.01 445.8,262.48 446.7,262.48 447.6,262.5 448.5,262.26 449.4,263.03 450.3,262.13 451.2,262.68 452.1,262.96 453,262.36 453.9,262.68" fill="none" stroke="#00ead6" stroke-width="1.05" stroke-linejoin="round" />
<polyline points="255.9,258.73 256.8,258.61 257.7,258.57 258.6,258.49 259.5,259.15 260.4,259.1 261.3,259.21 262.2,258.43 263.1,259.01 264,258.68 264.9,258.97 265.8,258.88 266.7,258.67 267.6,259.26 268.5,258.39 269.4,259.06 270.3,259.16 271.2,258.85 272.1,258.92 273,259.29 273.9,258.6 274.8,258.96 275.7,259.06 276.6,258.73 277.5,259.03 278.4,258.74 279.3,258.86 280.2,258.94 281.1,259 282,258.68 282.9,258.96 283.8,258.88 284.7,258.59 285.6,258.94 286.5,258.63 287.4,259.21 288.3,258.82 289.2,259.04 290.1,258.86 291,258.82 291.9,258.59 292.8,258.52 293.7,259.22 294.6,258.87 295.5,258.86 295.6,258.86 296.4,260.18 296.6,259.92 297.3,262.56 297.4,263.53 298.2,264.16 298.5,264.68 299.1,264.92 300,265.09 300.9,265.07 301.8,264.34 302.7,264.65 303.6,265.06 304.5,265.06 305,264.44 305.4,264.45 306.3,264.49 307.2,264.32 308.1,264.51 309,264.87 309.9,264.58 310,264.51 310.8,264.13 311.7,264.34 312.6,264.81 313,264.51 313.5,263.05 313.8,262.34 314.4,255.5 315.3,255.23 316,254.49 316.2,254.95 317.1,254.6 318,254.67 318.9,254.35 319.8,254.4 320.7,254.31 321.6,254.28 322.5,253.7 323.4,253.62 324.3,253.7 325.2,252.99 326.1,252.85 327,253.09 327.9,252.31 328.8,251.97 329.7,251.52 330,251.92 330.6,250.68 331.5,250.3 332.4,249.47 333.2,247.96 333.3,248.01 334.2,246.97 334.6,246.21 335.1,246.9 336,248.24 336.9,251.01 337,251.21 337.8,252.81 338.5,253.56 338.7,253.88 339.6,255.05 340.5,256.15 341.4,255.88 342.3,256.05 343.2,256.36 344.1,256.06 345,254.79 345.9,254.87 346,254.57 346.8,254.72 347.7,255.5 348.6,255.71 349.5,256.04 350.4,257.21 351,257.25 351.3,257.58 352.2,258.16 353.1,259.13 353.2,259.07 354,259.17 354.9,260.53 355,260.5 355.8,261.13 356.7,262.17 357.6,262.49 358.5,263.24 358.6,263.69 359.4,263.74 360.3,264.29 361.2,264.82 362.1,265.61 362.2,265.53 363,266 363.9,266.16 364.8,266.29 365.2,267.07 365.7,266.67 366.6,266.38 367,266.17 367.5,265.02 368.4,264.08 369.3,262.91 369.4,263.46 370.2,263.35 370.6,263.62 371.1,265.54 371.8,267.24 372,267.41 372.9,270.74 373,271.07 373.6,272.98 373.8,272.07 374.2,271.58 374.7,270.24 375.4,268.85 375.6,269.02 376.5,267.93 377.2,267.26 377.4,266.52 378.3,266.3 379.2,266.07 380.1,265.21 380.2,266.05 381,265.14 381.9,264.84 382.8,264.58 383.7,264.24 384.6,264.48 385,264.08 385.5,263.9 386.4,263.57 387.3,262.99 388.2,262.97 389.1,263.23 389.8,262.98 390,262.99 390.9,262.25 391.8,262 392.7,261.67 393.4,261.95 393.6,261.41 394.3,260.13 394.5,258.67 395.1,254.3 395.4,253.85 396.3,253.47 396.9,252.42 397.2,253.05 398.1,252.68 399,252.19 399.9,252.39 400.8,252.55 401.7,252.4 402.6,252.5 403.5,252.24 404.4,252.16 405,252.6 405.3,252.16 406.2,252.57 407.1,252.7 408,252.55 408.9,252.46 409.8,252.93 410.7,252.53 411.6,252.96 412.5,252.26 413.2,252.63 413.4,252.98 414.3,253.22 415,254.55 415.2,254.41 416.1,257.47 416.3,257.67 416.8,259.22 417,258.89 417.9,259.11 418.8,258.84 419.7,259 420.6,259 421.5,258.66 422.4,258.58 423.3,259.14 424.2,258.52 425.1,259.22 426,258.58 426.9,258.48 427.8,258.48 428.7,259.1 429.6,259.25 430.5,258.76 431.4,258.98 432.3,258.62 433.2,259.21 434.1,259.01 435,258.53 435.9,258.44 436.8,259.02 437.7,258.43 438.6,259.14 439.5,258.65 440.4,258.6 441.3,258.91 442.2,258.68 443.1,258.89 444,258.53 444.9,259.21 445.8,258.68 446.7,259.15 447.6,258.53 448.5,259.11 449.4,259.27 450.3,258.74 451.2,258.42 452.1,258.73 453,258.97 453.9,258.59" fill="none" stroke="#00ea9f" stroke-width="1.05" stroke-linejoin="round" />
<polyline points="255.9,255.14 256.8,254.73 257.7,255.07 258.6,255.31 259.5,255.04 260.4,255.26 261.3,254.75 262.2,255.4 263.1,254.76 264,255.48 264.9,255.55 265.8,255.5 266.7,255.12 267.6,254.91 268.5,254.96 269.4,255.33 270.3,255.1 271.2,255.49 272.1,254.73 273,255.09 273.9,255.43 274.8,255.19 275.7,255.14 276.6,254.73 277.5,254.78 278.4,254.89 279.3,255.45 280.2,255.41 281.1,254.85 282,255.48 282.9,254.68 283.8,255.19 284.7,255.52 285.6,254.96 286.5,255.5 287.4,255.24 288.3,254.7 289.2,254.95 290.1,255.05 291,254.87 291.9,255.32 292.8,254.81 293.7,255.36 294.6,254.92 295.5,254.71 295.6,255.15 296.4,255.87 296.6,256.57 297.3,259.68 297.4,259.92 298.2,260.83 298.5,260.83 299.1,261.34 300,261.08 300.9,261.58 301.8,261.12 302.7,261.53 303.6,261.34 304.5,261.37 305,261.63 305.4,261.16 306.3,261.13 307.2,261.78 308.1,261.19 309,261.6 309.9,261.59 310,261.23 310.8,260.87 311.7,260.75 312.6,261.39 313,260.67 313.5,259.68 313.8,258.92 314.4,250.66 315.3,250.71 316,250.22 316.2,250.54 317.1,250.44 318,250.23 318.9,250 319.8,250.11 320.7,249.85 321.6,249.71 322.5,249.53 323.4,249.81 324.3,249.2 325.2,249.27 326.1,248.2 327,248.76 327.9,247.91 328.8,247.75 329.7,247.12 330,247.08 330.6,246.01 331.5,245.5 332.4,243.79 333.2,242.85 333.3,242.46 334.2,241.24 334.6,240.67 335.1,241.5 336,243.89 336.9,245.9 337,246.65 337.8,247.8 338.5,249.41 338.7,249.82 339.6,250.83 340.5,251.33 341.4,251.66 342.3,252.14 343.2,252.64 344.1,251.1 345,250.92 345.9,250.29 346,250.33 346.8,250.42 347.7,251.42 348.6,251.69 349.5,252.74 350.4,252.55 351,253.81 351.3,253.56 352.2,254.25 353.1,254.65 353.2,254.87 354,256.17 354.9,257.08 355,256.71 355.8,257.59 356.7,258.2 357.6,259.05 358.5,259.86 358.6,260.05 359.4,261.15 360.3,261.74 361.2,262.14 362.1,262.44 362.2,262.52 363,263.23 363.9,263.87 364.8,264.25 365.2,264.37 365.7,263.66 366.6,263.45 367,263.38 367.5,262.66 368.4,260.83 369.3,260.2 369.4,259.73 370.2,260.12 370.6,261.12 371.1,262.28 371.8,264.31 372,264.42 372.9,268.03 373,268.45 373.6,270.7 373.8,269.98 374.2,268.93 374.7,267.72 375.4,265.87 375.6,265.51 376.5,264.87 377.2,264.06 377.4,264.04 378.3,263.1 379.2,263.27 380.1,262.46 380.2,262.79 381,261.76 381.9,262.2 382.8,261.72 383.7,260.92 384.6,261.13 385,260.44 385.5,260.26 386.4,260.23 387.3,259.76 388.2,259.73 389.1,259.84 389.8,259.43 390,259.4 390.9,258.91 391.8,259.05 392.7,258.84 393.4,258.58 393.6,258.39 394.3,256.81 394.5,254.84 395.1,249.76 395.4,249.99 396.3,249.33 396.9,248.33 397.2,248.55 398.1,248.72 399,248.64 399.9,247.89 400.8,248.29 401.7,247.82 402.6,247.86 403.5,248.45 404.4,248.05 405,248.19 405.3,248.07 406.2,248.01 407.1,247.94 408,248.11 408.9,248.59 409.8,248.43 410.7,248.17 411.6,248.03 412.5,248.24 413.2,248.66 413.4,248.61 414.3,249.63 415,250.41 415.2,250.41 416.1,253.7 416.3,253.74 416.8,255.39 417,254.82 417.9,254.89 418.8,255.51 419.7,254.98 420.6,254.85 421.5,255.45 422.4,255.2 423.3,255.45 424.2,255 425.1,255.1 426,255.51 426.9,255.11 427.8,255.54 428.7,254.82 429.6,255.4 430.5,254.8 431.4,255.12 432.3,254.65 433.2,254.81 434.1,255.5 435,255.06 435.9,255.38 436.8,254.88 437.7,254.97 438.6,254.74 439.5,255.15 440.4,255.43 441.3,255.11 442.2,254.99 443.1,255.49 444,255.45 444.9,255.25 445.8,254.72 446.7,255.21 447.6,255.05 448.5,255.51 449.4,254.98 450.3,255.25 451.2,255.22 452.1,254.99 453,255.12 453.9,255.26" fill="none" stroke="#00ea69" stroke-width="1.05" stroke-linejoin="round" />
<polyline points="255.9,251.73 256.8,251.36 257.7,251.24 258.6,251.79 259.5,250.96 260.4,251.66 261.3,251.53 262.2,251.41 263.1,251.31 264,251.59 264.9,251.71 265.8,251.57 266.7,251.58 267.6,250.94 268.5,251.2 269.4,251.03 270.3,251.77 271.2,251.71 272.1,251.04 273,251.44 273.9,251.43 274.8,250.95 275.7,251.26 276.6,251.58 277.5,251.49 278.4,251.16 279.3,251.6 280.2,251.17 281.1,251.4 282,251.29 282.9,251.79 283.8,251.49 284.7,251.63 285.6,251.52 286.5,251.25 287.4,251.78 288.3,251.55 289.2,251.53 290.1,251.16 291,251.06 291.9,251.43 292.8,251.65 293.7,251.62 294.6,251.22 295.5,251.04 295.6,251.37 296.4,252.93 296.6,252.59 297.3,256.25 297.4,256.19 298.2,257.43 298.5,257.62 299.1,257.92 300,258.12 300.9,258.65 301.8,258.66 302.7,257.97 303.6,258.09 304.5,258.67 305,258 305.4,258.09 306.3,258.15 307.2,257.81 308.1,257.9 309,257.98 309.9,257.92 310,258.44 310.8,257.74 311.7,257.61 312.6,258.17 313,257.72 313.5,256.63 313.8,255.58 314.4,246.98 315.3,246.26 316,245.87 316.2,246.4 317.1,246.05 318,246.04 318.9,246.06 319.8,246.04 320.7,245.53 321.6,245.52 322.5,245.7 323.4,245.03 324.3,244.5 325.2,244.49 326.1,243.83 327,243.98 327.9,242.83 328.8,243.05 329.7,242.32 330,241.97 330.6,241.75 331.5,240.04 332.4,238.69 333.2,237.35 333.3,237.59 334.2,236.02 334.6,235.18 335.1,236.11 336,238.56 336.9,241.02 337,241.54 337.8,243.5 338.5,245.24 338.7,245.22 339.6,246.49 340.5,247.79 341.4,247.63 342.3,248.31 343.2,248.31 344.1,247.16 345,246.42 345.9,246 346,245.5 346.8,245.94 347.7,247.22 348.6,247.58 349.5,248.28 350.4,249.13 351,249.81 351.3,249.38 352.2,250.35 353.1,250.88 353.2,251.28 354,252.33 354.9,253.73 355,253.69 355.8,254.41 356.7,255.15 357.6,256.2 358.5,256.83 358.6,257.45 359.4,257.98 360.3,258.67 361.2,258.71 362.1,259.83 362.2,259.98 363,260.27 363.9,261.22 364.8,261.81 365.2,261.93 365.7,261.64 366.6,260.77 367,260.65 367.5,259.2 368.4,258.32 369.3,256.96 369.4,256.72 370.2,257 370.6,257.1 371.1,259.11 371.8,261.41 372,261.61 372.9,264.78 373,265.15 373.6,267.49 373.8,267.4 374.2,266.44 374.7,265 375.4,262.81 375.6,262.88 376.5,261.24 377.2,261.09 377.4,260.53 378.3,259.78 379.2,259.88 380.1,258.98 380.2,259.05 381,258.54 381.9,258.55 382.8,258.3 383.7,258.18 384.6,257.14 385,257.7 385.5,256.89 386.4,256.71 387.3,256.78 388.2,256.24 389.1,255.94 389.8,255.93 390,255.56 390.9,255.85 391.8,255.09 392.7,255.43 393.4,255.22 393.6,254.52 394.3,252.47 394.5,251.42 395.1,245.56 395.4,245.69 396.3,244.72 396.9,243.8 397.2,244.29 398.1,244.33 399,244.16 399.9,243.95 400.8,244 401.7,244.03 402.6,243.65 403.5,244.19 404.4,244.25 405,244.05 405.3,244.21 406.2,243.68 407.1,244.32 408,243.54 408.9,243.95 409.8,243.69 410.7,244.02 411.6,244.27 412.5,244.34 413.2,244.15 413.4,244.25 414.3,245 415,245.89 415.2,246.46 416.1,249.39 416.3,250.55 416.8,251.37 417,251.3 417.9,251.09 418.8,251.54 419.7,251.09 420.6,251.15 421.5,251.41 422.4,251.54 423.3,251.79 424.2,251.58 425.1,251.76 426,251.74 426.9,251.56 427.8,251.56 428.7,250.97 429.6,251.1 430.5,250.92 431.4,251.69 432.3,251.56 433.2,251.48 434.1,251.15 435,251.23 435.9,251.06 436.8,251.48 437.7,251.8 438.6,251.19 439.5,250.95 440.4,251.07 441.3,251.23 442.2,251.72 443.1,251.63 444,251.32 444.9,251 445.8,251.01 446.7,251.05 447.6,251.61 448.5,251.33 449.4,251.8 450.3,251.73 451.2,251.63 452.1,251.34 453,251.65 453.9,251.03" fill="none" stroke="#00ea33" stroke-width="1.05" stroke-linejoin="round" />
<polyline points="255.9,247.27 256.8,247.68 257.7,247.63 258.6,247.36 259.5,247.4 260.4,247.19 261.3,247.99 262.2,247.81 263.1,248.02 264,248.05 264.9,247.56 265.8,247.83 266.7,247.52 267.6,247.9 268.5,247.93 269.4,247.29 270.3,247.18 271.2,247.36 272.1,247.7 273,247.51 273.9,247.18 274.8,247.92 275.7,247.88 276.6,247.59 277.5,247.21 278.4,247.97 279.3,247.65 280.2,247.23 281.1,247.46 282,247.73 282.9,247.97 283.8,247.61 284.7,247.75 285.6,247.36 286.5,247.39 287.4,247.99 288.3,247.51 289.2,247.26 290.1,247.7 291,247.28 291.9,247.35 292.8,247.58 293.7,247.7 294.6,247.74 295.5,247.81 295.6,247.57 296.4,248.57 296.6,249.49 297.3,252.31 297.4,253.17 298.2,254.32 298.5,255.02 299.1,255.15 300,254.86 300.9,255.24 301.8,255.28 302.7,255.1 303.6,254.81 304.5,255.51 305,255.24 305.4,254.73 306.3,254.84 307.2,255.46 308.1,254.73 309,254.83 309.9,255.13 310,255.16 310.8,254.91 311.7,254.93 312.6,254.21 313,254.22 313.5,253.45 313.8,252.35 314.4,242 315.3,241.66 316,241.57 316.2,242.17 317.1,241.43 318,241.74 318.9,241.87 319.8,241.51 320.7,241.67 321.6,240.98 322.5,240.52 323.4,240.04 324.3,240.35 325.2,239.4 326.1,239.83 327,239.24 327.9,238.21 328.8,238.22 329.7,237.09 330,237.22 330.6,236.02 331.5,235.39 332.4,233.99 333.2,232.69 333.3,231.64 334.2,230.44 334.6,229.3 335.1,230.85 336,232.93 336.9,236.5 337,236.87 337.8,238.91 338.5,239.89 338.7,240.18 339.6,242 340.5,243.15 341.4,243.44 342.3,243.3 343.2,244.17 344.1,242.63 345,242.47 345.9,241.57 346,241.15 346.8,241.51 347.7,242.73 348.6,243.07 349.5,244.07 350.4,244.59 351,245.91 351.3,245.81 352.2,246.51 353.1,247.16 353.2,247.83 354,249.02 354.9,250.25 355,249.71 355.8,250.85 356.7,251.8 357.6,253.22 358.5,253.68 358.6,254.21 359.4,255.2 360.3,255.74 361.2,255.79 362.1,256.59 362.2,256.7 363,257.81 363.9,258.39 364.8,258.98 365.2,259.22 365.7,258.76 366.6,258.12 367,257.77 367.5,257.11 368.4,255.36 369.3,253.87 369.4,253.8 370.2,254.35 370.6,254.54 371.1,255.57 371.8,258.41 372,259.31 372.9,262.44 373,263.24 373.6,265.28 373.8,265.3 374.2,263.51 374.7,262.36 375.4,260 375.6,259.78 376.5,258.65 377.2,257.72 377.4,257.4 378.3,257.21 379.2,257.2 380.1,256.4 380.2,256.59 381,256.11 381.9,255.8 382.8,255.56 383.7,254.97 384.6,254.16 385,253.97 385.5,253.95 386.4,253.28 387.3,253.15 388.2,253.43 389.1,253.15 389.8,252.37 390,252.71 390.9,252.47 391.8,252.32 392.7,251.98 393.4,251.55 393.6,250.67 394.3,249.59 394.5,247.24 395.1,241.88 395.4,241.32 396.3,240.5 396.9,240.23 397.2,239.49 398.1,239.78 399,239.83 399.9,239.68 400.8,239.99 401.7,239.47 402.6,239.87 403.5,239.62 404.4,239.82 405,239 405.3,239.13 406.2,239.24 407.1,239.85 408,239.09 408.9,239.37 409.8,239.82 410.7,240.12 411.6,239.44 412.5,239.72 413.2,239.98 413.4,240.2 414.3,241.23 415,241.99 415.2,242.27 416.1,245.56 416.3,246.08 416.8,247.79 417,247.36 417.9,247.4 418.8,248.04 419.7,247.75 420.6,247.7 421.5,247.76 422.4,247.71 423.3,247.8 424.2,247.44 425.1,247.23 426,247.23 426.9,247.18 427.8,247.5 428.7,247.3 429.6,247.27 430.5,247.61 431.4,248.04 432.3,247.79 433.2,247.42 434.1,247.86 435,247.33 435.9,247.26 436.8,247.44 437.7,247.54 438.6,247.79 439.5,247.57 440.4,247.83 441.3,247.26 442.2,248.01 443.1,247.48 444,247.92 444.9,247.2 445.8,247.92 446.7,247.37 447.6,247.94 448.5,247.89 449.4,247.77 450.3,247.42 451.2,247.18 452.1,247.34 453,247.98 453.9,247.31" fill="none" stroke="#03ea00" stroke-width="1.05" stroke-linejoin="round" />
<polyline points="255.9,244.02 256.8,243.96 257.7,244.03 258.6,243.59 259.5,243.56 260.4,243.52 261.3,244.31 262.2,243.77 263.1,244.02 264,243.94 264.9,243.63 265.8,243.49 266.7,243.44 267.6,244.2 268.5,243.55 269.4,244.3 270.3,243.76 271.2,244.08 272.1,243.55 273,244.14 273.9,243.66 274.8,243.76 275.7,243.9 276.6,243.53 277.5,243.65 278.4,244.15 279.3,243.69 280.2,243.77 281.1,244.12 282,243.63 282.9,243.6 283.8,243.63 284.7,243.78 285.6,243.76 286.5,244.01 287.4,243.85 288.3,244.21 289.2,243.48 290.1,244.03 291,244.18 291.9,243.64 292.8,243.46 293.7,243.82 294.6,243.53 295.5,243.84 295.6,244.07 296.4,244.98 296.6,245.36 297.3,249.42 297.4,249.67 298.2,251.05 298.5,251.74 299.1,251.55 300,251.65 300.9,251.92 301.8,252.03 302.7,252.46 303.6,252.13 304.5,251.71 305,251.85 305.4,252.29 306.3,252.08 307.2,252.3 308.1,252.33 309,252.18 309.9,251.45 310,252.19 310.8,251.74 311.7,251.39 312.6,251.23 313,251.82 313.5,249.52 313.8,248.37 314.4,237.87 315.3,238.08 316,237.36 316.2,237.58 317.1,236.88 318,237.11 318.9,236.88 319.8,236.67 320.7,236.97 321.6,236.59 322.5,235.97 323.4,236.35 324.3,235.5 325.2,234.84 326.1,234.28 327,234.46 327.9,233.73 328.8,232.67 329.7,232.46 330,232.5 330.6,231.39 331.5,229.72 332.4,228.3 333.2,226.92 333.3,226.71 334.2,224.06 334.6,223.68 335.1,225.27 336,227.72 336.9,231.69 337,231.68 337.8,234.24 338.5,235.41 338.7,235.79 339.6,237.66 340.5,239.46 341.4,238.95 342.3,239.3 343.2,239.37 344.1,238.74 345,237.49 345.9,236.55 346,236.94 346.8,237.53 347.7,238.67 348.6,239.02 349.5,240.16 350.4,240.46 351,241.9 351.3,241.58 352.2,242.77 353.1,243.78 353.2,244.28 354,245.09 354.9,246.9 355,246.72 355.8,247.35 356.7,249.04 357.6,249.59 358.5,251.44 358.6,251.07 359.4,251.59 360.3,253.07 361.2,253.32 362.1,254.21 362.2,254.25 363,255.2 363.9,255.35 364.8,256.4 365.2,256.54 365.7,256.69 366.6,255 367,255.1 367.5,253.77 368.4,252.16 369.3,250.53 369.4,250.48 370.2,250.62 370.6,251.03 371.1,252.71 371.8,255.91 372,255.98 372.9,259.81 373,260.58 373.6,263.56 373.8,263.1 374.2,260.89 374.7,259.53 375.4,257.34 375.6,257.43 376.5,256.03 377.2,255 377.4,255.31 378.3,254.56 379.2,254.19 380.1,253.73 380.2,253.05 381,253.29 381.9,252.4 382.8,251.66 383.7,252.03 384.6,250.89 385,250.63 385.5,250.68 386.4,250.34 387.3,250.61 388.2,250.18 389.1,249.43 389.8,249.26 390,249.49 390.9,249.18 391.8,248.77 392.7,248.37 393.4,247.8 393.6,247.37 394.3,245.85 394.5,243.73 395.1,237.76 395.4,237.49 396.3,236.48 396.9,235.08 397.2,234.96 398.1,235.64 399,235.29 399.9,234.89 400.8,235.3 401.7,234.85 402.6,234.78 403.5,234.84 404.4,234.93 405,235.03 405.3,234.5 406.2,235.16 407.1,235.11 408,235.02 408.9,235.26 409.8,235.42 410.7,234.77 411.6,235.24 412.5,235.48 413.2,235.55 413.4,235.73 414.3,236.37 415,237.9 415.2,238.54 416.1,241.63 416.3,242.6 416.8,244.29 417,243.62 417.9,243.8 418.8,244.3 419.7,244.24 420.6,243.64 421.5,244.09 422.4,243.75 423.3,244.03 424.2,244.12 425.1,243.54 426,243.63 426.9,243.62 427.8,243.67 428.7,243.46 429.6,243.55 430.5,243.8 431.4,243.81 432.3,243.5 433.2,243.95 434.1,244.28 435,243.95 435.9,243.75 436.8,244.06 437.7,243.82 438.6,243.59 439.5,243.86 440.4,243.45 441.3,244.04 442.2,243.57 443.1,243.76 444,244.3 444.9,244.12 445.8,244.18 446.7,244.01 447.6,244 448.5,244.06 449.4,244.3 450.3,243.61 451.2,244.12 452.1,243.7 453,243.66 453.9,244.17" fill="none" stroke="#39ea00" stroke-width="1.05" stroke-linejoin="round" />
<polyline points="255.9,240.23 256.8,240.45 257.7,240.48 258.6,240.22 259.5,239.87 260.4,239.7 261.3,240.17 262.2,240.34 263.1,239.94 264,239.75 264.9,239.69 265.8,239.85 266.7,240.32 267.6,239.69 268.5,239.9 269.4,239.93 270.3,240.33 271.2,240.58 272.1,239.71 273,239.79 273.9,240.53 274.8,240.56 275.7,239.82 276.6,239.99 277.5,240.16 278.4,239.98 279.3,240.07 280.2,240.12 281.1,239.92 282,239.74 282.9,239.77 283.8,239.84 284.7,239.77 285.6,240.25 286.5,240.32 287.4,239.93 288.3,240.4 289.2,240.35 290.1,240 291,240.13 291.9,239.86 292.8,240.53 293.7,240.19 294.6,239.74 295.5,239.83 295.6,240.31 296.4,241.63 296.6,242.33 297.3,245.97 297.4,247.06 298.2,248.52 298.5,248.43 299.1,248.98 300,248.78 300.9,249.26 301.8,249.36 302.7,249.36 303.6,248.87 304.5,248.75 305,249.27 305.4,249.16 306.3,248.71 307.2,248.7 308.1,248.99 309,248.51 309.9,248.92 310,248.56 310.8,248.49 311.7,248.54 312.6,248.53 313,248.66 313.5,246.17 313.8,245.67 314.4,233.5 315.3,233.14 316,233.12 316.2,233.14 317.1,232.95 318,233.09 318.9,232.34 319.8,232.31 320.7,232.51 321.6,232.03 322.5,231.5 323.4,231.12 324.3,231.17 325.2,230.78 326.1,230.24 327,230.02 327.9,229.2 328.8,228.09 329.7,227.41 330,227.55 330.6,225.93 331.5,224.9 332.4,222.6 333.2,220.93 333.3,221.08 334.2,218.34 334.6,217.97 335.1,219.53 336,222.06 336.9,226.08 337,226.49 337.8,229.12 338.5,231.13 338.7,231.37 339.6,233.38 340.5,234.9 341.4,235.37 342.3,235.02 343.2,235.24 344.1,234.44 345,233.44 345.9,232.14 346,232.39 346.8,232.8 347.7,233.8 348.6,234.85 349.5,236.05 350.4,237.09 351,237.39 351.3,237.82 352.2,239.33 353.1,240.41 353.2,240.25 354,241.12 354.9,242.94 355,243.27 355.8,244.05 356.7,245.08 357.6,247.17 358.5,248.34 358.6,247.78 359.4,248.88 360.3,249.92 361.2,250.54 362.1,251.23 362.2,251.95 363,252.69 363.9,253.2 364.8,253.7 365.2,254.33 365.7,253.56 366.6,253.29 367,251.98 367.5,251.07 368.4,249.53 369.3,247.05 369.4,246.82 370.2,247.5 370.6,247.93 371.1,250.21 371.8,253.14 372,253.42 372.9,257.62 373,258.62 373.6,261.51 373.8,260.63 374.2,258.84 374.7,257.28 375.4,255.61 375.6,254.53 376.5,253.26 377.2,252.6 377.4,252.61 378.3,252.02 379.2,251.03 380.1,250.87 380.2,250.48 381,249.8 381.9,249.51 382.8,249.29 383.7,248.85 384.6,247.86 385,247.72 385.5,248.2 386.4,247.06 387.3,247.32 388.2,246.52 389.1,246.06 389.8,245.78 390,245.9 390.9,246.07 391.8,245.02 392.7,245.35 393.4,244.64 393.6,243.91 394.3,242.36 394.5,239.75 395.1,232.87 395.4,232.69 396.3,231.89 396.9,231.15 397.2,230.87 398.1,230.3 399,230.92 399.9,230.72 400.8,230.92 401.7,230.91 402.6,230.29 403.5,230.7 404.4,230.62 405,230.08 405.3,230.19 406.2,230.25 407.1,230.29 408,230.37 408.9,230.19 409.8,230.36 410.7,231.03 411.6,230.64 412.5,230.9 413.2,231.17 413.4,231.31 414.3,232.02 415,233.53 415.2,234.3 416.1,238.38 416.3,239.01 416.8,240.37 417,240.42 417.9,239.92 418.8,240.28 419.7,240.03 420.6,240.45 421.5,239.81 422.4,240.18 423.3,239.99 424.2,240.43 425.1,240 426,240.45 426.9,240.45 427.8,240.48 428.7,239.82 429.6,240.53 430.5,240.36 431.4,240.3 432.3,240.28 433.2,239.73 434.1,240.47 435,240.18 435.9,240.1 436.8,240 437.7,240.39 438.6,240.39 439.5,240.47 440.4,239.88 441.3,240 442.2,239.91 443.1,239.78 444,239.98 444.9,239.71 445.8,240.41 446.7,239.89 447.6,239.75 448.5,239.75 449.4,240.36 450.3,239.87 451.2,240.11 452.1,240.05 453,240.41 453.9,240.55" fill="none" stroke="#6fea00" stroke-width="1.05" stroke-linejoin="round" />
<polyline points="255.9,236.23 256.8,236.52 257.7,236.76 258.6,236.37 259.5,236.76 260.4,236.61 261.3,236.23 262.2,236.74 263.1,236.47 264,236.05 264.9,236.48 265.8,236.7 266.7,236.42 267.6,236.39 268.5,236.32 269.4,236.74 270.3,236.55 271.2,236.14 272.1,236.28 273,236.28 273.9,236.81 274.8,236.58 275.7,236.06 276.6,236.77 277.5,235.98 278.4,236.48 279.3,236.34 280.2,236.6 281.1,236.34 282,236.03 282.9,236.42 283.8,236.69 284.7,236.66 285.6,236.27 286.5,236.15 287.4,236.62 288.3,236.67 289.2,236.15 290.1,236.74 291,236.84 291.9,236.34 292.8,236.29 293.7,236.59 294.6,236.79 295.5,236.13 295.6,236.22 296.4,237.99 296.6,238.79 297.3,242.75 297.4,243.71 298.2,245.26 298.5,246 299.1,245.65 300,246.55 300.9,246.61 301.8,246.22 302.7,246.45 303.6,245.91 304.5,246.58 305,246.26 305.4,246.42 306.3,246.45 307.2,245.93 308.1,246.37 309,245.66 309.9,245.43 310,245.85 310.8,246.11 311.7,246.01 312.6,245.95 313,245.5 313.5,243.83 313.8,242.27 314.4,229.12 315.3,229.1 316,228.9 316.2,228.53 317.1,228.55 318,228.11 318.9,228 319.8,228 320.7,227.95 321.6,227.78 322.5,226.96 323.4,226.4 324.3,226.23 325.2,226.09 326.1,225.64 327,224.7 327.9,223.98 328.8,223.48 329.7,222.44 330,222.58 330.6,221.73 331.5,219.43 332.4,217.78 333.2,216.13 333.3,215.87 334.2,213.2 334.6,212.03 335.1,213.39 336,217.06 336.9,221.78 337,221.51 337.8,224.8 338.5,226.52 338.7,226.61 339.6,228.44 340.5,230.94 341.4,231.1 342.3,230.89 343.2,231.45 344.1,230.43 345,229.57 345.9,227.79 346,228.04 346.8,228.46 347.7,229.41 348.6,230.36 349.5,231.66 350.4,232.92 351,233.36 351.3,233.62 352.2,234.84 353.1,235.9 353.2,236.12 354,237.69 354.9,239.5 355,239.39 355.8,240.86 356.7,242.17 357.6,244 358.5,244.91 358.6,245.48 359.4,245.92 360.3,246.66 361.2,248 362.1,248.58 362.2,248.71 363,249.41 363.9,250.86 364.8,251.98 365.2,251.87 365.7,251.28 366.6,250.2 367,249.6 367.5,248.69 368.4,246.27 369.3,243.98 369.4,244.4 370.2,244.92 370.6,244.79 371.1,247.68 371.8,250.48 372,251.1 372.9,255.93 373,256.7 373.6,259.72 373.8,258.88 374.2,257.01 374.7,255.43 375.4,252.98 375.6,252.7 376.5,251.37 377.2,249.46 377.4,249.51 378.3,249.29 379.2,248.59 380.1,247.75 380.2,247.76 381,247.02 381.9,247.07 382.8,246.22 383.7,245.6 384.6,244.91 385,244.63 385.5,245.11 386.4,244.61 387.3,243.51 388.2,243.37 389.1,243.1 389.8,242.79 390,242.6 390.9,242.75 391.8,241.94 392.7,241.77 393.4,241.88 393.6,240.97 394.3,238.56 394.5,235.98 395.1,228.66 395.4,228.44 396.3,227.33 396.9,226.01 397.2,226.08 398.1,226.03 399,225.95 399.9,226.38 400.8,225.98 401.7,225.67 402.6,225.66 403.5,226.04 404.4,225.38 405,225.81 405.3,225.23 406.2,225.45 407.1,225.39 408,226.13 408.9,225.6 409.8,225.73 410.7,225.65 411.6,225.89 412.5,226.38 413.2,226.42 413.4,226.87 414.3,228.18 415,228.81 415.2,230.1 416.1,233.63 416.3,235.33 416.8,236.34 417,236.12 417.9,236.62 418.8,236.72 419.7,236.3 420.6,236.03 421.5,236.74 422.4,236.63 423.3,236.49 424.2,236.83 425.1,235.98 426,236 426.9,236.06 427.8,235.97 428.7,236.59 429.6,236.52 430.5,236.05 431.4,236.1 432.3,236.11 433.2,236.5 434.1,236.56 435,236.82 435.9,236.27 436.8,236.83 437.7,236.34 438.6,236.3 439.5,236.18 440.4,236.16 441.3,236.83 442.2,236.85 443.1,236.59 444,236.11 444.9,236.11 445.8,236.09 446.7,236.27 447.6,236.61 448.5,236 449.4,236.43 450.3,236.56 451.2,235.98 452.1,236.35 453,236.66 453.9,236.47" fill="none" stroke="#a6ea00" stroke-width="1.05" stroke-linejoin="round" />
<polyline points="255.9,232.62 256.8,233 257.7,232.75 258.6,232.51 259.5,232.57 260.4,233.06 261.3,232.98 262.2,233.03 263.1,232.71 264,232.34 264.9,232.37 265.8,232.55 266.7,232.83 267.6,232.21 268.5,232.93 269.4,232.92 270.3,232.67 271.2,232.22 272.1,232.93 273,232.58 273.9,232.81 274.8,232.72 275.7,232.87 276.6,232.58 277.5,233.07 278.4,233.07 279.3,233.05 280.2,232.76 281.1,232.49 282,232.55 282.9,232.45 283.8,233.02 284.7,232.92 285.6,232.92 286.5,232.95 287.4,233.1 288.3,232.83 289.2,232.5 290.1,232.89 291,232.45 291.9,232.76 292.8,232.35 293.7,232.98 294.6,232.65 295.5,232.46 295.6,233.04 296.4,234.18 296.6,235.42 297.3,240.11 297.4,240.26 298.2,242.54 298.5,243.02 299.1,243.44 300,243.34 300.9,243.22 301.8,243.69 302.7,242.94 303.6,243.57 304.5,242.98 305,243.14 305.4,242.97 306.3,243.58 307.2,243.12 308.1,243.3 309,242.81 309.9,243.17 310,243.08 310.8,242.48 311.7,242.72 312.6,242.81 313,242.3 313.5,240.47 313.8,238.79 314.4,225.07 315.3,225.07 316,224.71 316.2,224.73 317.1,224.07 318,224.06 318.9,224.13 319.8,223.95 320.7,223.53 321.6,223.76 322.5,222.83 323.4,222.81 324.3,221.87 325.2,221.04 326.1,221.09 327,220.04 327.9,219.73 328.8,218.37 329.7,218.42 330,217.76 330.6,216.74 331.5,214.4 332.4,212.72 333.2,210.58 333.3,210.15 334.2,207.84 334.6,205.88 335.1,208.16 336,211.2 336.9,216.87 337,217.46 337.8,219.36 338.5,222.08 338.7,222.53 339.6,224.73 340.5,226.71 341.4,226.66 342.3,227.48 343.2,227.1 344.1,225.79 345,225.13 345.9,223.23 346,223.15 346.8,224.38 347.7,225.3 348.6,226.21 349.5,228.05 350.4,228.79 351,229.84 351.3,229.78 352.2,231.63 353.1,232.27 353.2,233.03 354,234.32 354.9,236.4 355,236.42 355.8,237.58 356.7,238.94 357.6,240.68 358.5,241.76 358.6,241.61 359.4,243.28 360.3,244.24 361.2,245.18 362.1,246.3 362.2,245.95 363,247 363.9,248.28 364.8,249.35 365.2,249.74 365.7,248.47 366.6,247.73 367,247.05 367.5,245.62 368.4,243.12 369.3,240.87 369.4,240.93 370.2,241.81 370.6,242.03 371.1,244.45 371.8,247.8 372,249.04 372.9,253.87 373,254.04 373.6,258.49 373.8,257.08 374.2,255.71 374.7,253.75 375.4,250.22 375.6,250.25 376.5,248.94 377.2,247.12 377.4,247.11 378.3,246.19 379.2,245.22 380.1,244.66 380.2,244.51 381,244.18 381.9,243.96 382.8,243.36 383.7,243.18 384.6,242.4 385,241.88 385.5,242.16 386.4,241.43 387.3,240.9 388.2,240.74 389.1,240.12 389.8,239.5 390,239.64 390.9,239.01 391.8,239.26 392.7,238.25 393.4,238.63 393.6,237.11 394.3,234.59 394.5,232.41 395.1,224.08 395.4,223.89 396.3,222.16 396.9,221.88 397.2,221.71 398.1,221.65 399,221.8 399.9,221.79 400.8,221.43 401.7,221.4 402.6,220.68 403.5,220.66 404.4,220.93 405,221.37 405.3,220.8 406.2,221.1 407.1,220.67 408,221.1 408.9,221.61 409.8,221.4 410.7,221.68 411.6,221.02 412.5,221.26 413.2,221.29 413.4,222.19 414.3,222.91 415,224.74 415.2,225.17 416.1,230.38 416.3,231.09 416.8,232.5 417,233.08 417.9,232.57 418.8,232.84 419.7,232.27 420.6,232.96 421.5,233.09 422.4,232.31 423.3,232.88 424.2,232.45 425.1,232.34 426,232.54 426.9,232.81 427.8,233.07 428.7,233.1 429.6,233.1 430.5,232.77 431.4,232.8 432.3,232.36 433.2,232.86 434.1,232.71 435,232.53 435.9,233.02 436.8,232.44 437.7,232.34 438.6,232.35 439.5,232.34 440.4,232.74 441.3,232.93 442.2,232.35 443.1,232.66 444,232.73 444.9,232.71 445.8,232.58 446.7,232.7 447.6,232.22 448.5,232.26 449.4,232.59 450.3,232.42 451.2,232.89 452.1,232.43 453,232.95 453.9,232.43" fill="none" stroke="#dcea00" stroke-width="1.05" stroke-linejoin="round" />
<polyline points="255.9,228.55 256.8,228.9 257.7,228.82 258.6,228.77 259.5,229.16 260.4,228.67 261.3,229.07 262.2,229.22 263.1,228.88 264,228.92 264.9,229.3 265.8,229.01 266.7,228.63 267.6,228.53 268.5,228.54 269.4,228.77 270.3,228.55 271.2,229.05 272.1,228.85 273,228.75 273.9,228.93 274.8,229.31 275.7,228.69 276.6,228.61 277.5,228.74 278.4,228.76 279.3,229.29 280.2,229.11 281.1,228.86 282,228.62 282.9,228.51 283.8,228.58 284.7,229.23 285.6,229.05 286.5,228.61 287.4,229.03 288.3,228.52 289.2,228.93 290.1,228.77 291,228.56 291.9,229.14 292.8,229.12 293.7,228.93 294.6,228.62 295.5,229.07 295.6,228.86 296.4,231.12 296.6,231.12 297.3,237.1 297.4,237.04 298.2,239.1 298.5,239.96 299.1,239.92 300,240.02 300.9,240.58 301.8,240.87 302.7,240.29 303.6,240.25 304.5,240.63 305,240.23 305.4,240.36 306.3,240.54 307.2,240.23 308.1,239.91 309,239.75 309.9,240.1 310,240.49 310.8,240.32 311.7,239.45 312.6,239.68 313,239.61 313.5,236.94 313.8,235.92 314.4,221.02 315.3,220.77 316,219.9 316.2,220.45 317.1,220.19 318,219.73 318.9,219.29 319.8,219.45 320.7,218.97 321.6,219.33 322.5,218.8 323.4,218.15 324.3,217.96 325.2,216.58 326.1,216.64 327,216.18 327.9,214.72 328.8,214.07 329.7,213 330,213.19 330.6,212.06 331.5,209.82 332.4,207.87 333.2,205.56 333.3,205.54 334.2,202.16 334.6,201.47 335.1,202.97 336,206.17 336.9,211.52 337,212.67 337.8,215.62 338.5,217.89 338.7,217.92 339.6,220.66 340.5,222.61 341.4,222.38 342.3,222.93 343.2,223.5 344.1,221.55 345,220.24 345.9,219.18 346,219.5 346.8,220.61 347.7,221.12 348.6,222.78 349.5,223.89 350.4,225.18 351,225.75 351.3,226.53 352.2,227.57 353.1,229.18 353.2,228.98 354,230.3 354.9,232.45 355,232.62 355.8,233.85 356.7,235.42 357.6,237.08 358.5,238.68 358.6,238.52 359.4,239.56 360.3,240.88 361.2,242 362.1,243.04 362.2,243.38 363,243.84 363.9,245.16 364.8,245.93 365.2,246.82 365.7,246.14 366.6,244.97 367,244.16 367.5,242.57 368.4,240.78 369.3,238.07 369.4,237.69 370.2,238.57 370.6,239.14 371.1,241.94 371.8,245.52 372,246.37 372.9,251.99 373,252.13 373.6,256.45 373.8,255.34 374.2,253.24 374.7,251.14 375.4,248.5 375.6,248.08 376.5,245.81 377.2,244.44 377.4,244.76 378.3,243.87 379.2,243.12 380.1,242.32 380.2,242.28 381,241.39 381.9,240.62 382.8,240.31 383.7,239.44 384.6,239.7 385,239.05 385.5,238.91 386.4,238.7 387.3,238.07 388.2,237.07 389.1,236.68 389.8,236.1 390,236.64 390.9,236.2 391.8,235.59 392.7,235.1 393.4,234.71 393.6,234.14 394.3,231.68 394.5,228.95 395.1,220.24 395.4,219.76 396.3,217.88 396.9,216.86 397.2,216.74 398.1,217.26 399,216.47 399.9,216.37 400.8,216.4 401.7,216.9 402.6,216.77 403.5,216.22 404.4,216.61 405,216.6 405.3,216.21 406.2,216.07 407.1,216.67 408,216.38 408.9,216.23 409.8,217.01 410.7,216.67 411.6,216.7 412.5,216.96 413.2,216.71 413.4,216.83 414.3,218.66 415,219.82 415.2,220.61 416.1,225.97 416.3,227.44 416.8,228.77 417,229.08 417.9,229.03 418.8,228.64 419.7,228.49 420.6,229.08 421.5,229.02 422.4,228.73 423.3,228.65 424.2,229.24 425.1,229.29 426,228.68 426.9,229 427.8,228.99 428.7,228.76 429.6,228.5 430.5,228.76 431.4,229.05 432.3,229.01 433.2,228.93 434.1,228.58 435,228.66 435.9,228.75 436.8,228.84 437.7,228.8 438.6,229.28 439.5,228.57 440.4,229.36 441.3,228.69 442.2,229.24 443.1,228.69 444,229 444.9,228.81 445.8,228.5 446.7,229.19 447.6,229.2 448.5,228.71 449.4,229.17 450.3,228.9 451.2,229.36 452.1,228.52 453,228.81 453.9,228.68" fill="none" stroke="#eac200" stroke-width="1.05" stroke-linejoin="round" />
<polyline points="255.9,225.29 256.8,225.43 257.7,225.49 258.6,225.22 259.5,225.08 260.4,225.45 261.3,224.82 262.2,224.96 263.1,225.41 264,225.13 264.9,225.62 265.8,224.81 266.7,225.15 267.6,224.92 268.5,224.73 269.4,224.81 270.3,224.81 271.2,225.06 272.1,225.12 273,225.19 273.9,224.99 274.8,225.36 275.7,225.19 276.6,225.61 277.5,224.88 278.4,225.19 279.3,225.17 280.2,225.06 281.1,225.51 282,224.92 282.9,225.52 283.8,225.05 284.7,225.03 285.6,225.28 286.5,225.24 287.4,224.99 288.3,224.81 289.2,225.59 290.1,225.06 291,224.83 291.9,225.32 292.8,225.21 293.7,225.02 294.6,225.03 295.5,225.49 295.6,225.03 296.4,227.31 296.6,228.34 297.3,233.43 297.4,234.27 298.2,236.06 298.5,237.26 299.1,237.41 300,237.43 300.9,237.41 301.8,237.27 302.7,237.79 303.6,237.51 304.5,237.86 305,237.46 305.4,237.74 306.3,237.03 307.2,237.12 308.1,237.7 309,237.37 309.9,237.28 310,237.11 310.8,236.96 311.7,236.58 312.6,236.42 313,236.78 313.5,234.25 313.8,232.3 314.4,217.08 315.3,216.08 316,216.09 316.2,215.66 317.1,215.8 318,215.47 318.9,215.53 319.8,215 320.7,215.16 321.6,215.12 322.5,214.12 323.4,213.72 324.3,213.48 325.2,212.8 326.1,212.3 327,211.88 327.9,210.82 328.8,209.64 329.7,208.97 330,209.02 330.6,207.47 331.5,205.66 332.4,202.96 333.2,200.94 333.3,201.06 334.2,197.82 334.6,196.28 335.1,197.86 336,202.05 336.9,207.02 337,208.44 337.8,211.42 338.5,213.77 338.7,213.84 339.6,216.54 340.5,218.11 341.4,219.02 342.3,219.07 343.2,218.94 344.1,218.32 345,216.52 345.9,215.47 346,215.19 346.8,216.09 347.7,217.56 348.6,218.14 349.5,220.03 350.4,220.8 351,221.37 351.3,222.11 352.2,223.25 353.1,224.64 353.2,225.29 354,226.56 354.9,228.53 355,228.86 355.8,230.27 356.7,232.45 357.6,234.03 358.5,235.59 358.6,235.88 359.4,236.42 360.3,237.9 361.2,238.6 362.1,240.34 362.2,240.36 363,241.22 363.9,241.81 364.8,242.74 365.2,243.95 365.7,242.97 366.6,241.78 367,241.43 367.5,239.4 368.4,237.44 369.3,234.81 369.4,234.83 370.2,235.59 370.6,235.87 371.1,239.28 371.8,242.45 372,244.12 372.9,249.98 373,250.1 373.6,254.91 373.8,253.54 374.2,251.18 374.7,248.88 375.4,246.33 375.6,245.37 376.5,243.57 377.2,242.07 377.4,241.46 378.3,241.29 379.2,240.45 380.1,239.74 380.2,239.18 381,238.5 381.9,238.01 382.8,237.73 383.7,237.05 384.6,236.2 385,236.03 385.5,235.41 386.4,235.58 387.3,234.66 388.2,234.18 389.1,233.92 389.8,232.98 390,233.36 390.9,232.62 391.8,232.62 392.7,231.56 393.4,231.4 393.6,230.91 394.3,227.92 394.5,224.73 395.1,215.61 395.4,214.75 396.3,213.35 396.9,211.88 397.2,212.57 398.1,212 399,212.44 399.9,212.11 400.8,212.07 401.7,212.01 402.6,211.48 403.5,211.98 404.4,211.46 405,211.92 405.3,211.88 406.2,211.87 407.1,212.07 408,211.81 408.9,212.1 409.8,212.43 410.7,211.83 411.6,211.83 412.5,212.19 413.2,212.34 413.4,212.37 414.3,214.04 415,215.87 415.2,216.64 416.1,221.83 416.3,223.06 416.8,225.25 417,224.9 417.9,225.16 418.8,225.21 419.7,225.13 420.6,225.18 421.5,225.48 422.4,224.75 423.3,225.57 424.2,224.91 425.1,224.76 426,225.42 426.9,225.24 427.8,225.21 428.7,224.93 429.6,225.43 430.5,225.01 431.4,225.38 432.3,224.94 433.2,225.25 434.1,225.31 435,225.06 435.9,225.16 436.8,224.79 437.7,225.31 438.6,225.35 439.5,224.87 440.4,225.23 441.3,225.39 442.2,224.82 443.1,225.49 444,225.51 444.9,224.78 445.8,224.95 446.7,224.81 447.6,224.96 448.5,224.81 449.4,225.17 450.3,224.96 451.2,225 452.1,225.15 453,225.06 453.9,225.44" fill="none" stroke="#ea8b00" stroke-width="1.05" stroke-linejoin="round" />
<polyline points="255.9,221.64 256.8,221.09 257.7,221.19 258.6,221 259.5,221.29 260.4,221.09 261.3,221.62 262.2,221.69 263.1,221.89 264,221.18 264.9,221.02 265.8,221.67 266.7,221.36 267.6,221.83 268.5,221.34 269.4,221.27 270.3,221.06 271.2,221.84 272.1,221.45 273,221.39 273.9,221.38 274.8,221.68 275.7,221.74 276.6,221.42 277.5,221.15 278.4,221.36 279.3,221.79 280.2,221.36 281.1,221.58 282,221.49 282.9,221.41 283.8,221.51 284.7,221.21 285.6,221.49 286.5,221.77 287.4,221.06 288.3,221.32 289.2,221.78 290.1,221.87 291,221 291.9,221.55 292.8,221.56 293.7,221.75 294.6,221.41 295.5,221.11 295.6,221.26 296.4,223.96 296.6,224.55 297.3,230.02 297.4,231.27 298.2,233.39 298.5,234.19 299.1,233.77 300,234.38 300.9,234.29 301.8,234.56 302.7,234.34 303.6,234.17 304.5,234.68 305,234.34 305.4,234.75 306.3,234.23 307.2,234.36 308.1,234.51 309,233.8 309.9,234.26 310,233.66 310.8,234.31 311.7,233.34 312.6,233.83 313,233.44 313.5,230.55 313.8,229.1 314.4,213.01 315.3,212.37 316,211.68 316.2,212 317.1,211.64 318,212.08 318.9,211.4 319.8,211.29 320.7,210.94 321.6,211.45 322.5,210.29 323.4,210 324.3,209.59 325.2,208.62 326.1,208.36 327,207.36 327.9,206.31 328.8,205.36 329.7,204.83 330,204.92 330.6,202.96 331.5,201.15 332.4,199.03 333.2,196.44 333.3,195.98 334.2,193.12 334.6,191.62 335.1,194.2 336,197.99 336.9,203.02 337,203.94 337.8,206.82 338.5,209.12 338.7,209.98 339.6,212.64 340.5,214.32 341.4,214.91 342.3,215.35 343.2,215.1 344.1,214.44 345,212.27 345.9,211.01 346,211.22 346.8,211.66 347.7,213.18 348.6,214.16 349.5,215.77 350.4,216.66 351,217.65 351.3,218.19 352.2,219.49 353.1,220.91 353.2,221.17 354,223.22 354.9,224.86 355,225.7 355.8,226.79 356.7,228.28 357.6,229.9 358.5,232.08 358.6,231.55 359.4,233.23 360.3,233.84 361.2,235.79 362.1,236.5 362.2,236.8 363,237.99 363.9,238.38 364.8,239.42 365.2,240.46 365.7,239.7 366.6,238.59 367,237.64 367.5,236.45 368.4,233.69 369.3,231.45 369.4,231.04 370.2,232.45 370.6,232.76 371.1,235.64 371.8,240.01 372,240.85 372.9,247.6 373,248.01 373.6,252.42 373.8,251.16 374.2,249.18 374.7,246.75 375.4,243.55 375.6,242.79 376.5,240.79 377.2,239.64 377.4,238.89 378.3,238.65 379.2,237.7 380.1,236.91 380.2,236.77 381,235.57 381.9,235.42 382.8,234.58 383.7,233.56 384.6,233.62 385,233.02 385.5,232.86 386.4,232.09 387.3,231.11 388.2,231.27 389.1,230.11 389.8,229.76 390,229.98 390.9,229.16 391.8,228.97 392.7,228.76 393.4,227.86 393.6,227.51 394.3,223.99 394.5,221.05 395.1,211.39 395.4,210.86 396.3,208.58 396.9,207.59 397.2,208.25 398.1,207.65 399,207.59 399.9,207.46 400.8,207.67 401.7,207.62 402.6,207.45 403.5,207.14 404.4,207.21 405,207.1 405.3,206.84 406.2,207.61 407.1,207.7 408,207.62 408.9,207.9 409.8,207.51 410.7,207.93 411.6,207.48 412.5,208.02 413.2,208.06 413.4,208.64 414.3,210.24 415,211.6 415.2,212.32 416.1,218.49 416.3,219.48 416.8,221.27 417,221.32 417.9,221.71 418.8,221.75 419.7,221.75 420.6,221.59 421.5,221.14 422.4,221.13 423.3,221.5 424.2,221.18 425.1,221.29 426,221.08 426.9,221.13 427.8,221.64 428.7,221.19 429.6,221.75 430.5,221.29 431.4,221.75 432.3,221.26 433.2,221.23 434.1,221.35 435,221 435.9,221.38 436.8,221.33 437.7,221 438.6,221.77 439.5,221.33 440.4,220.99 441.3,221.85 442.2,221.2 443.1,221.22 444,221.01 444.9,221.08 445.8,221.63 446.7,221.51 447.6,221.44 448.5,221.21 449.4,221.25 450.3,221.86 451.2,221.33 452.1,221.88 453,221.79 453.9,221.1" fill="none" stroke="#ea5500" stroke-width="1.05" stroke-linejoin="round" />
<polyline points="255.9,218.01 256.8,217.27 257.7,217.89 258.6,217.98 259.5,217.88 260.4,217.74 261.3,217.98 262.2,217.39 263.1,217.74 264,217.49 264.9,217.61 265.8,217.42 266.7,217.89 267.6,217.77 268.5,217.95 269.4,217.82 270.3,217.79 271.2,218.08 272.1,217.98 273,217.76 273.9,217.54 274.8,218.09 275.7,217.58 276.6,217.34 277.5,217.55 278.4,217.89 279.3,218.09 280.2,217.83 281.1,217.85 282,218.09 282.9,217.95 283.8,217.65 284.7,217.67 285.6,217.93 286.5,217.54 287.4,217.35 288.3,217.81 289.2,217.98 290.1,217.47 291,217.87 291.9,218.05 292.8,217.36 293.7,217.37 294.6,217.69 295.5,217.55 295.6,218.1 296.4,220.55 296.6,220.65 297.3,227.09 297.4,227.82 298.2,229.59 298.5,231.12 299.1,230.57 300,230.72 300.9,231.08 301.8,230.7 302.7,231.14 303.6,231.09 304.5,231.6 305,231.12 305.4,231.47 306.3,231.32 307.2,231.06 308.1,230.65 309,230.62 309.9,230.7 310,230.61 310.8,230.7 311.7,230.42 312.6,230.11 313,230.3 313.5,227.83 313.8,225.43 314.4,209.05 315.3,208.2 316,207.83 316.2,207.76 317.1,207.93 318,208.15 318.9,207.86 319.8,207.94 320.7,207.66 321.6,207.28 322.5,206.69 323.4,205.59 324.3,205.35 325.2,204.65 326.1,204.39 327,203.31 327.9,202.84 328.8,201.79 329.7,200.99 330,200.61 330.6,198.98 331.5,197.51 332.4,195.14 333.2,192.79 333.3,192 334.2,189.22 334.6,188.03 335.1,190.28 336,193.93 336.9,198.96 337,200.34 337.8,203.19 338.5,205.5 338.7,206.58 339.6,208.74 340.5,211.06 341.4,210.81 342.3,211.44 343.2,211.59 344.1,210.07 345,209.04 345.9,207.47 346,207.05 346.8,208.32 347.7,209.87 348.6,210.76 349.5,212.38 350.4,213.38 351,214.64 351.3,214.25 352.2,216.07 353.1,217.59 353.2,217.9 354,219.9 354.9,221.59 355,221.68 355.8,223.29 356.7,224.85 357.6,226.65 358.5,228.52 358.6,227.86 359.4,229.21 360.3,230.91 361.2,231.37 362.1,233.23 362.2,232.68 363,234.19 363.9,235.41 364.8,235.98 365.2,236.59 365.7,235.79 366.6,235.02 367,234.33 367.5,233.02 368.4,230.29 369.3,228.05 369.4,228.11 370.2,229.15 370.6,229.91 371.1,232.27 371.8,236.71 372,238 372.9,244.26 373,245.37 373.6,249.61 373.8,248.75 374.2,246.55 374.7,244.19 375.4,239.87 375.6,239.63 376.5,237.73 377.2,236.49 377.4,235.6 378.3,235.31 379.2,234.01 380.1,233.24 380.2,233.49 381,232.11 381.9,231.67 382.8,230.84 383.7,230.15 384.6,229.62 385,229.68 385.5,229.26 386.4,228.28 387.3,228.33 388.2,227.51 389.1,226.62 389.8,226.79 390,226.69 390.9,225.7 391.8,225.9 392.7,225.33 393.4,224.46 393.6,223.36 394.3,221.03 394.5,217.62 395.1,206.84 395.4,206.86 396.3,205.11 396.9,203.82 397.2,203.97 398.1,204.02 399,203.34 399.9,203.7 400.8,203.69 401.7,203.06 402.6,203.3 403.5,203.21 404.4,203.27 405,202.96 405.3,202.73 406.2,202.79 407.1,203.14 408,202.86 408.9,203.6 409.8,203.72 410.7,203.22 411.6,203.72 412.5,203.79 413.2,203.36 413.4,204.34 414.3,206.08 415,207.03 415.2,208.15 416.1,214.2 416.3,215.94 416.8,217.67 417,217.98 417.9,217.39 418.8,217.35 419.7,217.56 420.6,218.04 421.5,217.4 422.4,217.32 423.3,217.93 424.2,217.33 425.1,217.85 426,217.33 426.9,217.47 427.8,217.85 428.7,218.04 429.6,217.62 430.5,217.65 431.4,217.28 432.3,217.56 433.2,217.47 434.1,217.96 435,217.89 435.9,217.96 436.8,217.73 437.7,217.88 438.6,217.36 439.5,217.6 440.4,217.51 441.3,217.5 442.2,217.92 443.1,217.44 444,217.54 444.9,217.5 445.8,218.03 446.7,217.82 447.6,217.68 448.5,217.59 449.4,218.08 450.3,218.1 451.2,217.65 452.1,217.76 453,218.03 453.9,217.48" fill="none" stroke="#ea1f00" stroke-width="1.05" stroke-linejoin="round" />
<line x1="346.6" y1="186.7" x2="346.6" y2="306.6" stroke="#a83434" stroke-width="0.9" />
<rect x="255.4" y="186.7" width="199.2" height="119.9" fill="none" stroke="#4a4a4a" stroke-width="1"/>
<text x="289.8" y="316.5" font-size="9.4" text-anchor="middle" font-weight="normal" font-style="normal" fill="#000" font-family="'Liberation Sans', sans-serif" >250</text>
<text x="324" y="316.5" font-size="9.4" text-anchor="middle" font-weight="normal" font-style="normal" fill="#000" font-family="'Liberation Sans', sans-serif" >300</text>
<text x="358.2" y="316.5" font-size="9.4" text-anchor="middle" font-weight="normal" font-style="normal" fill="#000" font-family="'Liberation Sans', sans-serif" >350</text>
<text x="392.4" y="316.5" font-size="9.4" text-anchor="middle" font-weight="normal" font-style="normal" fill="#000" font-family="'Liberation Sans', sans-serif" >400</text>
<text x="426.6" y="316.5" font-size="9.4" text-anchor="middle" font-weight="normal" font-style="normal" fill="#000" font-family="'Liberation Sans', sans-serif" >450</text>
<text x="355" y="330.8" font-size="9.4" text-anchor="middle" font-weight="normal" font-style="normal" fill="#000" font-family="'Liberation Sans', sans-serif" textLength="83.2" lengthAdjust="spacingAndGlyphs" >Magnetic Field (mT)</text>
<text transform="translate(242.1,248) rotate(-90)" x="0" y="0" font-size="9.5" text-anchor="middle" fill="#000" font-family="'Liberation Sans', sans-serif" textLength="69" lengthAdjust="spacingAndGlyphs">Intenstiy (arb. u.)</text>
<text x="236.6" y="192.6" font-size="10" text-anchor="start" font-weight="normal" font-style="normal" fill="#000" font-family="'Liberation Sans', sans-serif" >c)</text>
<text x="259.4" y="210" font-size="8.8" text-anchor="start" font-weight="normal" font-style="normal" fill="#000" font-family="'Liberation Sans', sans-serif" textLength="36.8" lengthAdjust="spacingAndGlyphs" >0 - 0.2 µs</text>
<rect x="258.5" y="291" width="46.5" height="10" fill="#fff"/>
<text x="259.9" y="300.2" font-size="8.8" text-anchor="start" font-weight="normal" font-style="normal" fill="#000" font-family="'Liberation Sans', sans-serif" textLength="44.1" lengthAdjust="spacingAndGlyphs" >3.8 - 4.0 µs</text>
<line x1="273.6" y1="214.2" x2="279" y2="287" stroke="#000" stroke-width="0.8" />
<path d="M279.3,290.8 L277.4,286.2 L280.6,286.0 Z" fill="#000"/>
<rect x="513.5" y="187.5" width="10.52" height="117.8" fill="#e8e8e8"/>
<polyline points="499.9,296.95 500.9,294.58 501.9,297.79 502.9,292.3 503.9,296.61 504.9,293.45 505.9,299.46 506.9,293.28 507.9,297.38 508.9,292.06 509.9,299.12 510.9,293.64 511.9,296.49 512.9,292.75 513.9,285.68 514.9,262.56 515.9,245.53 516.9,231.15 517.9,219.32 518.9,212.53 519.9,207 520.9,200.36 521.9,197.54 522.9,191.29 523.9,191.16 524.9,187.71 525.9,190.88 526.9,190.06 527.9,193.32 528.9,191.81 529.9,196.72 530.9,195.8 531.9,200.9 532.9,200.28 533.9,204.84 534.9,202.59 535.9,208.04 536.9,206.46 537.9,211.84 538.9,210.54 539.9,216.7 540.9,215.4 541.9,220.12 542.9,218.21 543.9,225.69 544.9,223.85 545.9,230.23 546.9,226.89 547.9,231.88 548.9,229.52 549.9,235.89 550.9,230.6 551.9,240.44 552.9,235.72 553.9,243.71 554.9,242.19 555.9,245.73 556.9,243.74 557.9,250.87 558.9,247.16 559.9,255.36 560.9,249.84 561.9,255.27 562.9,252.19 563.9,256.94 564.9,252.52 565.9,260.8 566.9,256.19 567.9,262.29 568.9,259.45 569.9,263.99 570.9,260.48 571.9,266.31 572.9,260.4 573.9,268.56 574.9,265.2 575.9,268.4 576.9,267.18 577.9,271.07 578.9,266.01 579.9,274.35 580.9,269.3 581.9,275.11 582.9,269.65 583.9,275.21 584.9,270.26 585.9,274.26 586.9,273.04 587.9,277.65 588.9,271.6 589.9,277.51 590.9,271.68 591.9,280.18 592.9,275.03 593.9,278.24 594.9,274.99 595.9,281.16 596.9,276.68 597.9,279.21 598.9,276.08 599.9,279.59 600.9,275.52 601.9,282.29 602.9,277.71 603.9,282.01 604.9,278.3 605.9,281.42 606.9,278.92 607.9,284.27 608.9,278.28 609.9,284.3 610.9,279.06 611.9,284.96 612.9,278.38 613.9,284.64 614.9,279.44 615.9,284.56 616.9,280.5 617.9,286.43 618.9,278.91 619.9,285 620.9,279.32 621.9,283.6 622.9,280.77 623.9,284.38 624.9,279.08 625.9,283.82 626.9,280.9 627.9,287.41 628.9,279.86 629.9,287.1 630.9,282 631.9,285.46 632.9,280.62 633.9,285.86 634.9,280.68 635.9,286.2 636.9,280.68 637.9,287.2 638.9,280.61 639.9,288.94 640.9,282.44 641.9,289.09 642.9,284.01 643.9,288.8 644.9,284.07 645.9,287.66 646.9,282.83 647.9,288.67 648.9,283.25 649.9,286.64 650.9,281.58 651.9,288.06 652.9,281.73 653.9,287.84 654.9,284.53 655.9,288.96 656.9,283.85 657.9,287.82 658.9,284.71 659.9,287.01 660.9,282.16 661.9,288.99 662.9,282.29 663.9,287.77 664.9,281.94 665.9,288.66 666.9,284 667.9,288.17 668.9,282.5 669.9,288.93 670.9,284.07 671.9,287.34 672.9,283.53 673.9,286.53 674.9,283.53 675.9,289 676.9,282.66 677.9,286.87 678.9,282.09 679.9,286.67 680.9,282.03 681.9,286.81" fill="none" stroke="#9c0f0f" stroke-width="1.05" stroke-linejoin="round" />
<polyline points="499.9,296.4 500.9,294.07 501.9,297.83 502.9,294.01 503.9,299.09 504.9,291.72 505.9,297.04 506.9,292.37 507.9,298.45 508.9,293.01 509.9,296.94 510.9,291.68 511.9,299.34 512.9,294.89 513.9,291.63 514.9,280.62 515.9,268.22 516.9,257.8 517.9,249.55 518.9,242.29 519.9,236.7 520.9,232.14 521.9,229.15 522.9,224.44 523.9,221.98 524.9,216.91 525.9,213.56 526.9,208.77 527.9,207.09 528.9,203.28 529.9,201.69 530.9,197.35 531.9,197.97 532.9,194 533.9,194.51 534.9,189.73 535.9,192.76 536.9,188.4 537.9,191.81 538.9,186.9 539.9,191.65 540.9,188.18 541.9,191.72 542.9,189.66 543.9,194.21 544.9,188.82 545.9,192.56 546.9,188.33 547.9,196.14 548.9,192.36 549.9,197.29 550.9,193.5 551.9,198.75 552.9,193.14 553.9,200 554.9,196.91 555.9,204.2 556.9,201.08 557.9,207.04 558.9,203.17 559.9,211.09 560.9,206.15 561.9,211.79 562.9,208.47 563.9,211.86 564.9,209.93 565.9,213.13 566.9,210.28 567.9,215.4 568.9,211.46 569.9,217.31 570.9,214.34 571.9,222.48 572.9,218.44 573.9,222.08 574.9,218.01 575.9,225.11 576.9,219.41 577.9,226.64 578.9,223.52 579.9,231.08 580.9,225.77 581.9,233.08 582.9,225.55 583.9,232.01 584.9,228.78 585.9,236.77 586.9,232.32 587.9,238.3 588.9,231.67 589.9,239.62 590.9,233.76 591.9,238.41 592.9,233.68 593.9,239.73 594.9,235.66 595.9,243.43 596.9,238.77 597.9,244.57 598.9,239.62 599.9,245.98 600.9,242.19 601.9,247.83 602.9,242.02 603.9,248.48 604.9,242.83 605.9,249.67 606.9,244.73 607.9,249.99 608.9,247.19 609.9,251.16 610.9,248.36 611.9,253.98 612.9,247.43 613.9,253.68 614.9,247.67 615.9,257.08 616.9,248.93 617.9,254.64 618.9,250.72 619.9,257.95 620.9,251.91 621.9,256.01 622.9,251.49 623.9,258.46 624.9,253.58 625.9,260.73 626.9,255.63 627.9,258.5 628.9,253.93 629.9,260.25 630.9,258.16 631.9,260.55 632.9,255.28 633.9,263.69 634.9,259.11 635.9,262.06 636.9,257.01 637.9,264.62 638.9,258.78 639.9,263.11 640.9,259.99 641.9,266.81 642.9,262.12 643.9,265.33 644.9,262.47 645.9,268.12 646.9,262.84 647.9,268.5 648.9,260.54 649.9,268.19 650.9,264.18 651.9,268.59 652.9,262.96 653.9,268.33 654.9,264.84 655.9,268.94 656.9,262.82 657.9,267.99 658.9,263.07 659.9,269.64 660.9,265.96 661.9,269.47 662.9,265.73 663.9,271.54 664.9,265.78 665.9,272.96 666.9,266.48 667.9,271.98 668.9,265.12 669.9,271.3 670.9,269.36 671.9,272.22 672.9,268.69 673.9,271.91 674.9,268.76 675.9,272.04 676.9,267.3 677.9,274.26 678.9,267.94 679.9,275.57 680.9,268.99 681.9,276.28" fill="none" stroke="#1a7a1a" stroke-width="1.05" stroke-linejoin="round" />
<rect x="499.4" y="187.5" width="183.2" height="117.8" fill="none" stroke="#4a4a4a" stroke-width="1"/>
<line x1="513.5" y1="305.3" x2="513.5" y2="301.7" stroke="#4a4a4a" stroke-width="1" />
<line x1="513.5" y1="187.5" x2="513.5" y2="191.1" stroke="#4a4a4a" stroke-width="1" />
<line x1="555.6" y1="305.3" x2="555.6" y2="301.7" stroke="#4a4a4a" stroke-width="1" />
<line x1="555.6" y1="187.5" x2="555.6" y2="191.1" stroke="#4a4a4a" stroke-width="1" />
<line x1="597.7" y1="305.3" x2="597.7" y2="301.7" stroke="#4a4a4a" stroke-width="1" />
<line x1="597.7" y1="187.5" x2="597.7" y2="191.1" stroke="#4a4a4a" stroke-width="1" />
<line x1="639.8" y1="305.3" x2="639.8" y2="301.7" stroke="#4a4a4a" stroke-width="1" />
<line x1="639.8" y1="187.5" x2="639.8" y2="191.1" stroke="#4a4a4a" stroke-width="1" />
<line x1="681.9" y1="305.3" x2="681.9" y2="301.7" stroke="#4a4a4a" stroke-width="1" />
<line x1="681.9" y1="187.5" x2="681.9" y2="191.1" stroke="#4a4a4a" stroke-width="1" />
<line x1="499.4" y1="295.5" x2="503" y2="295.5" stroke="#4a4a4a" stroke-width="1" />
<line x1="682.6" y1="295.5" x2="679" y2="295.5" stroke="#4a4a4a" stroke-width="1" />
<line x1="499.4" y1="241.7" x2="503" y2="241.7" stroke="#4a4a4a" stroke-width="1" />
<line x1="682.6" y1="241.7" x2="679" y2="241.7" stroke="#4a4a4a" stroke-width="1" />
<line x1="499.4" y1="187.9" x2="503" y2="187.9" stroke="#4a4a4a" stroke-width="1" />
<line x1="682.6" y1="187.9" x2="679" y2="187.9" stroke="#4a4a4a" stroke-width="1" />
<text x="513.5" y="316.3" font-size="9.4" text-anchor="middle" font-weight="normal" font-style="normal" fill="#000" font-family="'Liberation Sans', sans-serif" >0</text>
<text x="555.6" y="316.3" font-size="9.4" text-anchor="middle" font-weight="normal" font-style="normal" fill="#000" font-family="'Liberation Sans', sans-serif" >1</text>
<text x="597.7" y="316.3" font-size="9.4" text-anchor="middle" font-weight="normal" font-style="normal" fill="#000" font-family="'Liberation Sans', sans-serif" >2</text>
<text x="639.8" y="316.3" font-size="9.4" text-anchor="middle" font-weight="normal" font-style="normal" fill="#000" font-family="'Liberation Sans', sans-serif" >3</text>
<text x="681.9" y="316.3" font-size="9.4" text-anchor="middle" font-weight="normal" font-style="normal" fill="#000" font-family="'Liberation Sans', sans-serif" >4</text>
<text x="497.4" y="298.8" font-size="9.4" text-anchor="end" font-weight="normal" font-style="normal" fill="#000" font-family="'Liberation Sans', sans-serif" >0.0</text>
<text x="497.4" y="245" font-size="9.4" text-anchor="end" font-weight="normal" font-style="normal" fill="#000" font-family="'Liberation Sans', sans-serif" >0.5</text>
<text x="497.4" y="191.2" font-size="9.4" text-anchor="end" font-weight="normal" font-style="normal" fill="#000" font-family="'Liberation Sans', sans-serif" >1.0</text>
<text x="590" y="330.6" font-size="9" text-anchor="middle" font-weight="normal" font-style="normal" fill="#000" font-family="'Liberation Sans', sans-serif" >Time (µs)</text>
<text transform="translate(477.6,247.6) rotate(-90)" x="0" y="0" font-size="9.4" text-anchor="middle" fill="#000" font-family="'Liberation Sans', sans-serif" textLength="68" lengthAdjust="spacingAndGlyphs">Intenstiy (norm.)</text>
<line x1="612.1" y1="204.2" x2="624.1" y2="204.2" stroke="#9c0f0f" stroke-width="1" />
<line x1="612.1" y1="212.1" x2="624.1" y2="212.1" stroke="#1a7a1a" stroke-width="1" />
<text x="627.6" y="205.4" font-size="8.1" text-anchor="start" font-weight="normal" font-style="normal" fill="#000" font-family="'Liberation Sans', sans-serif" >Quintet</text>
<text x="627.6" y="213.6" font-size="8.1" text-anchor="start" font-weight="normal" font-style="normal" fill="#000" font-family="'Liberation Sans', sans-serif" >Triplet</text>
<text x="86.1" y="7.6" font-size="10.6" font-weight="bold" fill="#000" font-family="'Liberation Sans', sans-serif" textLength="63.4" lengthAdjust="spacingAndGlyphs">Dimer (DPH)</text>
<text x="149.8" y="9.9" font-size="9.3" font-weight="bold" fill="#000" font-family="'Liberation Sans', sans-serif">2</text>
<text x="311.3" y="7.6" font-size="10.6" font-weight="bold" fill="#000" font-family="'Liberation Sans', sans-serif">Trimer</text>
<text x="346.6" y="7.6" font-size="10.6" font-weight="bold" fill="#ad1111" font-family="'Liberation Sans', sans-serif">Me-</text>
<text x="365.1" y="7.6" font-size="10.6" font-weight="bold" fill="#000" font-family="'Liberation Sans', sans-serif">(DPH)</text>
<text x="395" y="9.8" font-size="9.3" font-weight="bold" fill="#000" font-family="'Liberation Sans', sans-serif">3</text>
<text x="545.1" y="7.6" font-size="10.6" font-weight="bold" fill="#000" font-family="'Liberation Sans', sans-serif" textLength="63.7" lengthAdjust="spacingAndGlyphs">Trimer (DPH)</text>
<text x="609.4" y="9.8" font-size="9.3" font-weight="bold" fill="#000" font-family="'Liberation Sans', sans-serif">3</text>
<polyline points="42.3,29.9 46.6,32.5 50.9,29.9 55.2,32.5 59.5,29.9 63.8,32.5 68.18,29.95" fill="none" stroke="#151515" stroke-width="1.05" stroke-linejoin="round" stroke-linecap="round"/>
<polyline points="59.5,29.9 59.5,24.9 63.5,22.3" fill="none" stroke="#151515" stroke-width="1.05" stroke-linejoin="round" stroke-linecap="round"/>
<polyline points="192.8,17.6 188.5,15 184.2,17.6 179.9,15 175.6,17.6 171.3,15 166.92,17.55" fill="none" stroke="#151515" stroke-width="1.05" stroke-linejoin="round" stroke-linecap="round"/>
<polyline points="175.6,17.6 175.6,22.6 171.6,25.2" fill="none" stroke="#151515" stroke-width="1.05" stroke-linejoin="round" stroke-linecap="round"/>
<polyline points="77.02,24.85 81.9,21.3 85.5,24.9 90.4,21.3 94.1,24.9 99,21.3 102.7,24.9 106.58,22.65" fill="none" stroke="#151515" stroke-width="1.05" stroke-linejoin="round" stroke-linecap="round"/>
<line x1="83.57" y1="20.49" x2="86.31" y2="23.23" stroke="#151515" stroke-width="0.75" />
<line x1="92.06" y1="20.48" x2="94.88" y2="23.21" stroke="#151515" stroke-width="0.75" />
<line x1="100.66" y1="20.48" x2="103.48" y2="23.21" stroke="#151515" stroke-width="0.75" />
<polyline points="128.52,24.85 133.4,21.3 137,24.9 141.9,21.3 145.6,24.9 150.5,21.3 154.2,24.9 158.08,22.65" fill="none" stroke="#151515" stroke-width="1.05" stroke-linejoin="round" stroke-linecap="round"/>
<line x1="135.07" y1="20.49" x2="137.81" y2="23.23" stroke="#151515" stroke-width="0.75" />
<line x1="143.56" y1="20.48" x2="146.38" y2="23.21" stroke="#151515" stroke-width="0.75" />
<line x1="152.16" y1="20.48" x2="154.98" y2="23.21" stroke="#151515" stroke-width="0.75" />
<polyline points="115.42,22.65 119.68,24.85" fill="none" stroke="#179050" stroke-width="1.05" stroke-linejoin="round" stroke-linecap="round"/>
<polygon points="72.6,22.3 68.18,24.85 68.18,29.95 72.6,32.5 77.02,29.95 77.02,24.85" fill="none" stroke="#151515" stroke-width="1.05" stroke-linejoin="round"/>
<line x1="72.02" y1="24.68" x2="70.53" y2="25.53" stroke="#151515" stroke-width="0.9" />
<line x1="70.53" y1="29.27" x2="72.02" y2="30.12" stroke="#151515" stroke-width="0.9" />
<line x1="75.25" y1="28.26" x2="75.25" y2="26.54" stroke="#151515" stroke-width="0.9" />
<polygon points="111,15 106.58,17.55 106.58,22.65 111,25.2 115.42,22.65 115.42,17.55" fill="none" stroke="#179050" stroke-width="1.35" stroke-linejoin="round"/>
<line x1="110.42" y1="17.38" x2="108.93" y2="18.23" stroke="#179050" stroke-width="0.9" />
<line x1="108.93" y1="21.97" x2="110.42" y2="22.82" stroke="#179050" stroke-width="0.9" />
<line x1="113.65" y1="20.96" x2="113.65" y2="19.24" stroke="#179050" stroke-width="0.9" />
<polygon points="124.1,22.3 119.68,24.85 119.68,29.95 124.1,32.5 128.52,29.95 128.52,24.85" fill="none" stroke="#179050" stroke-width="1.35" stroke-linejoin="round"/>
<line x1="123.52" y1="24.68" x2="122.03" y2="25.53" stroke="#179050" stroke-width="0.9" />
<line x1="122.03" y1="29.27" x2="123.52" y2="30.12" stroke="#179050" stroke-width="0.9" />
<line x1="126.75" y1="28.26" x2="126.75" y2="26.54" stroke="#179050" stroke-width="0.9" />
<polygon points="162.5,15 158.08,17.55 158.08,22.65 162.5,25.2 166.92,22.65 166.92,17.55" fill="none" stroke="#151515" stroke-width="1.05" stroke-linejoin="round"/>
<line x1="161.92" y1="17.38" x2="160.43" y2="18.23" stroke="#151515" stroke-width="0.9" />
<line x1="160.43" y1="21.97" x2="161.92" y2="22.82" stroke="#151515" stroke-width="0.9" />
<line x1="165.15" y1="20.96" x2="165.15" y2="19.24" stroke="#151515" stroke-width="0.9" />
<polyline points="262.92,29.5 266.96,31.94 271,29.5 275.04,31.94 279.09,29.5 283.13,31.94 287.25,29.55" fill="none" stroke="#151515" stroke-width="1.05" stroke-linejoin="round" stroke-linecap="round"/>
<polyline points="279.09,29.5 279.09,24.8 282.85,22.36" fill="none" stroke="#151515" stroke-width="1.05" stroke-linejoin="round" stroke-linecap="round"/>
<polyline points="452.8,17.94 448.76,15.49 444.71,17.94 440.67,15.49 436.63,17.94 432.59,15.49 428.47,17.89" fill="none" stroke="#151515" stroke-width="1.05" stroke-linejoin="round" stroke-linecap="round"/>
<polyline points="436.63,17.94 436.63,22.64 432.87,25.08" fill="none" stroke="#151515" stroke-width="1.05" stroke-linejoin="round" stroke-linecap="round"/>
<polyline points="295.55,24.75 300.14,21.42 303.53,24.8 308.13,21.42 311.61,24.8 316.22,21.42 319.69,24.8 323.34,22.68" fill="none" stroke="#151515" stroke-width="1.05" stroke-linejoin="round" stroke-linecap="round"/>
<line x1="301.79" y1="20.58" x2="304.36" y2="23.16" stroke="#151515" stroke-width="0.75" />
<line x1="309.77" y1="20.57" x2="312.41" y2="23.14" stroke="#151515" stroke-width="0.75" />
<line x1="317.85" y1="20.57" x2="320.5" y2="23.14" stroke="#151515" stroke-width="0.75" />
<polyline points="343.96,24.75 348.55,21.42 351.94,24.8 356.54,21.42 360.02,24.8 364.63,21.42 368.1,24.8 371.75,22.68" fill="none" stroke="#151515" stroke-width="1.05" stroke-linejoin="round" stroke-linecap="round"/>
<line x1="350.2" y1="20.58" x2="352.77" y2="23.16" stroke="#151515" stroke-width="0.75" />
<line x1="358.18" y1="20.57" x2="360.82" y2="23.14" stroke="#151515" stroke-width="0.75" />
<line x1="366.26" y1="20.57" x2="368.91" y2="23.14" stroke="#151515" stroke-width="0.75" />
<line x1="348.55" y1="21.42" x2="348.55" y2="17.62" stroke="#d23232" stroke-width="1.05" />
<line x1="368.1" y1="24.8" x2="368.1" y2="29" stroke="#d23232" stroke-width="1.05" />
<polyline points="392.37,24.75 396.96,21.42 400.35,24.8 404.95,21.42 408.43,24.8 413.04,21.42 416.51,24.8 420.16,22.68" fill="none" stroke="#151515" stroke-width="1.05" stroke-linejoin="round" stroke-linecap="round"/>
<line x1="398.61" y1="20.58" x2="401.18" y2="23.16" stroke="#151515" stroke-width="0.75" />
<line x1="406.59" y1="20.57" x2="409.23" y2="23.14" stroke="#151515" stroke-width="0.75" />
<line x1="414.67" y1="20.57" x2="417.32" y2="23.14" stroke="#151515" stroke-width="0.75" />
<polyline points="331.65,22.68 335.66,24.75" fill="none" stroke="#dc3c3c" stroke-width="1.05" stroke-linejoin="round" stroke-linecap="round"/>
<polyline points="380.06,22.68 384.07,24.75" fill="none" stroke="#dc3c3c" stroke-width="1.05" stroke-linejoin="round" stroke-linecap="round"/>
<polygon points="291.4,22.36 287.25,24.75 287.25,29.55 291.4,31.94 295.55,29.55 295.55,24.75" fill="none" stroke="#151515" stroke-width="1.05" stroke-linejoin="round"/>
<line x1="290.85" y1="24.59" x2="289.46" y2="25.4" stroke="#151515" stroke-width="0.9" />
<line x1="289.46" y1="28.9" x2="290.85" y2="29.71" stroke="#151515" stroke-width="0.9" />
<line x1="293.89" y1="27.96" x2="293.89" y2="26.34" stroke="#151515" stroke-width="0.9" />
<polygon points="327.5,15.49 323.34,17.89 323.34,22.69 327.5,25.08 331.65,22.69 331.65,17.89" fill="none" stroke="#dc3c3c" stroke-width="1.35" stroke-linejoin="round"/>
<line x1="326.95" y1="17.73" x2="325.55" y2="18.53" stroke="#dc3c3c" stroke-width="0.9" />
<line x1="325.55" y1="22.04" x2="326.95" y2="22.85" stroke="#dc3c3c" stroke-width="0.9" />
<line x1="329.99" y1="21.09" x2="329.99" y2="19.48" stroke="#dc3c3c" stroke-width="0.9" />
<polygon points="339.81,22.36 335.66,24.75 335.66,29.55 339.81,31.94 343.96,29.55 343.96,24.75" fill="none" stroke="#dc3c3c" stroke-width="1.35" stroke-linejoin="round"/>
<line x1="339.26" y1="24.59" x2="337.87" y2="25.4" stroke="#dc3c3c" stroke-width="0.9" />
<line x1="337.87" y1="28.9" x2="339.26" y2="29.71" stroke="#dc3c3c" stroke-width="0.9" />
<line x1="342.3" y1="27.96" x2="342.3" y2="26.34" stroke="#dc3c3c" stroke-width="0.9" />
<polygon points="375.91,15.49 371.75,17.89 371.75,22.69 375.91,25.08 380.06,22.69 380.06,17.89" fill="none" stroke="#dc3c3c" stroke-width="1.35" stroke-linejoin="round"/>
<line x1="375.36" y1="17.73" x2="373.96" y2="18.53" stroke="#dc3c3c" stroke-width="0.9" />
<line x1="373.96" y1="22.04" x2="375.36" y2="22.85" stroke="#dc3c3c" stroke-width="0.9" />
<line x1="378.4" y1="21.09" x2="378.4" y2="19.48" stroke="#dc3c3c" stroke-width="0.9" />
<polygon points="388.22,22.36 384.07,24.75 384.07,29.55 388.22,31.94 392.37,29.55 392.37,24.75" fill="none" stroke="#dc3c3c" stroke-width="1.35" stroke-linejoin="round"/>
<line x1="387.67" y1="24.59" x2="386.28" y2="25.4" stroke="#dc3c3c" stroke-width="0.9" />
<line x1="386.28" y1="28.9" x2="387.67" y2="29.71" stroke="#dc3c3c" stroke-width="0.9" />
<line x1="390.71" y1="27.96" x2="390.71" y2="26.34" stroke="#dc3c3c" stroke-width="0.9" />
<polygon points="424.32,15.49 420.16,17.89 420.16,22.69 424.32,25.08 428.47,22.69 428.47,17.89" fill="none" stroke="#151515" stroke-width="1.05" stroke-linejoin="round"/>
<line x1="423.77" y1="17.73" x2="422.37" y2="18.53" stroke="#151515" stroke-width="0.9" />
<line x1="422.37" y1="22.04" x2="423.77" y2="22.85" stroke="#151515" stroke-width="0.9" />
<line x1="426.81" y1="21.09" x2="426.81" y2="19.48" stroke="#151515" stroke-width="0.9" />
<polyline points="485.31,29.6 489.44,32.1 493.57,29.6 497.7,32.1 501.82,29.6 505.95,32.1 510.16,29.65" fill="none" stroke="#151515" stroke-width="1.05" stroke-linejoin="round" stroke-linecap="round"/>
<polyline points="501.82,29.6 501.82,24.8 505.66,22.3" fill="none" stroke="#151515" stroke-width="1.05" stroke-linejoin="round" stroke-linecap="round"/>
<polyline points="679.23,17.79 675.1,15.3 670.98,17.79 666.85,15.3 662.72,17.79 658.59,15.3 654.39,17.74" fill="none" stroke="#151515" stroke-width="1.05" stroke-linejoin="round" stroke-linecap="round"/>
<polyline points="662.72,17.79 662.72,22.59 658.88,25.09" fill="none" stroke="#151515" stroke-width="1.05" stroke-linejoin="round" stroke-linecap="round"/>
<polyline points="518.64,24.75 523.33,21.34 526.78,24.8 531.49,21.34 535.04,24.8 539.74,21.34 543.3,24.8 547.02,22.64" fill="none" stroke="#151515" stroke-width="1.05" stroke-linejoin="round" stroke-linecap="round"/>
<line x1="524.98" y1="20.52" x2="527.61" y2="23.15" stroke="#151515" stroke-width="0.75" />
<line x1="533.13" y1="20.5" x2="535.83" y2="23.13" stroke="#151515" stroke-width="0.75" />
<line x1="541.39" y1="20.5" x2="544.09" y2="23.13" stroke="#151515" stroke-width="0.75" />
<polyline points="568.08,24.75 572.77,21.34 576.22,24.8 580.93,21.34 584.48,24.8 589.18,21.34 592.74,24.8 596.46,22.64" fill="none" stroke="#151515" stroke-width="1.05" stroke-linejoin="round" stroke-linecap="round"/>
<line x1="574.42" y1="20.52" x2="577.05" y2="23.15" stroke="#151515" stroke-width="0.75" />
<line x1="582.57" y1="20.5" x2="585.27" y2="23.13" stroke="#151515" stroke-width="0.75" />
<line x1="590.83" y1="20.5" x2="593.53" y2="23.13" stroke="#151515" stroke-width="0.75" />
<polyline points="617.52,24.75 622.21,21.34 625.66,24.8 630.37,21.34 633.92,24.8 638.62,21.34 642.18,24.8 645.9,22.64" fill="none" stroke="#151515" stroke-width="1.05" stroke-linejoin="round" stroke-linecap="round"/>
<line x1="623.86" y1="20.52" x2="626.49" y2="23.15" stroke="#151515" stroke-width="0.75" />
<line x1="632.01" y1="20.5" x2="634.71" y2="23.13" stroke="#151515" stroke-width="0.75" />
<line x1="640.27" y1="20.5" x2="642.97" y2="23.13" stroke="#151515" stroke-width="0.75" />
<polyline points="555.5,22.64 559.6,24.75" fill="none" stroke="#1e1ef5" stroke-width="1.05" stroke-linejoin="round" stroke-linecap="round"/>
<polyline points="604.94,22.64 609.04,24.75" fill="none" stroke="#1e1ef5" stroke-width="1.05" stroke-linejoin="round" stroke-linecap="round"/>
<polygon points="514.4,22.3 510.16,24.75 510.16,29.65 514.4,32.1 518.64,29.65 518.64,24.75" fill="none" stroke="#151515" stroke-width="1.05" stroke-linejoin="round"/>
<line x1="513.84" y1="24.59" x2="512.42" y2="25.41" stroke="#151515" stroke-width="0.9" />
<line x1="512.42" y1="28.99" x2="513.84" y2="29.81" stroke="#151515" stroke-width="0.9" />
<line x1="516.94" y1="28.02" x2="516.94" y2="26.38" stroke="#151515" stroke-width="0.9" />
<polygon points="551.26,15.3 547.02,17.74 547.02,22.64 551.26,25.09 555.5,22.64 555.5,17.74" fill="none" stroke="#1e1ef5" stroke-width="1.35" stroke-linejoin="round"/>
<line x1="550.7" y1="17.58" x2="549.28" y2="18.4" stroke="#1e1ef5" stroke-width="0.9" />
<line x1="549.28" y1="21.98" x2="550.7" y2="22.81" stroke="#1e1ef5" stroke-width="0.9" />
<line x1="553.81" y1="21.01" x2="553.81" y2="19.37" stroke="#1e1ef5" stroke-width="0.9" />
<polygon points="563.84,22.3 559.6,24.75 559.6,29.65 563.84,32.1 568.08,29.65 568.08,24.75" fill="none" stroke="#1e1ef5" stroke-width="1.35" stroke-linejoin="round"/>
<line x1="563.28" y1="24.59" x2="561.86" y2="25.41" stroke="#1e1ef5" stroke-width="0.9" />
<line x1="561.86" y1="28.99" x2="563.28" y2="29.81" stroke="#1e1ef5" stroke-width="0.9" />
<line x1="566.38" y1="28.02" x2="566.38" y2="26.38" stroke="#1e1ef5" stroke-width="0.9" />
<polygon points="600.7,15.3 596.46,17.74 596.46,22.64 600.7,25.09 604.94,22.64 604.94,17.74" fill="none" stroke="#1e1ef5" stroke-width="1.35" stroke-linejoin="round"/>
<line x1="600.14" y1="17.58" x2="598.72" y2="18.4" stroke="#1e1ef5" stroke-width="0.9" />
<line x1="598.72" y1="21.98" x2="600.14" y2="22.81" stroke="#1e1ef5" stroke-width="0.9" />
<line x1="603.25" y1="21.01" x2="603.25" y2="19.37" stroke="#1e1ef5" stroke-width="0.9" />
<polygon points="613.28,22.3 609.04,24.75 609.04,29.65 613.28,32.1 617.52,29.65 617.52,24.75" fill="none" stroke="#1e1ef5" stroke-width="1.35" stroke-linejoin="round"/>
<line x1="612.72" y1="24.59" x2="611.3" y2="25.41" stroke="#1e1ef5" stroke-width="0.9" />
<line x1="611.3" y1="28.99" x2="612.72" y2="29.81" stroke="#1e1ef5" stroke-width="0.9" />
<line x1="615.82" y1="28.02" x2="615.82" y2="26.38" stroke="#1e1ef5" stroke-width="0.9" />
<polygon points="650.14,15.3 645.9,17.74 645.9,22.64 650.14,25.09 654.38,22.64 654.38,17.74" fill="none" stroke="#151515" stroke-width="1.05" stroke-linejoin="round"/>
<line x1="649.58" y1="17.58" x2="648.16" y2="18.4" stroke="#151515" stroke-width="0.9" />
<line x1="648.16" y1="21.98" x2="649.58" y2="22.81" stroke="#151515" stroke-width="0.9" />
<line x1="652.69" y1="21.01" x2="652.69" y2="19.37" stroke="#151515" stroke-width="0.9" />
<text x="0.8" y="7.8" font-size="10.2" text-anchor="start" font-weight="normal" font-style="normal" fill="#000" font-family="'Liberation Sans', sans-serif" >a)</text>
</svg>
</body></html>
